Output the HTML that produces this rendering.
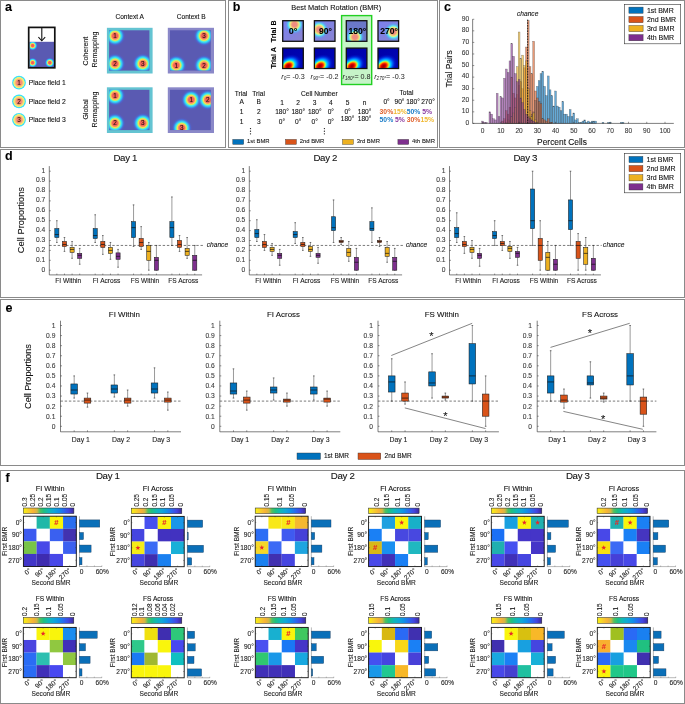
<!DOCTYPE html>
<html><head><meta charset="utf-8"><style>
html,body{margin:0;padding:0;background:#fff;}
svg{display:block;will-change:transform;}
text{font-family:"Liberation Sans", sans-serif;}
</style></head><body>
<svg width="685" height="704" viewBox="0 0 685 704">
<defs><radialGradient id="pf" cx="50%" cy="50%" r="50%">
<stop offset="0" stop-color="#f25a4e"/>
<stop offset="0.25" stop-color="#f4685a"/>
<stop offset="0.34" stop-color="#f7a060"/>
<stop offset="0.41" stop-color="#f8e050"/>
<stop offset="0.48" stop-color="#b0f078"/>
<stop offset="0.56" stop-color="#40eef0"/>
<stop offset="0.68" stop-color="#30c0f8" stop-opacity="0.9"/>
<stop offset="0.84" stop-color="#4070f0" stop-opacity="0.4"/>
<stop offset="1" stop-color="#5b5bb5" stop-opacity="0"/>
</radialGradient>
<radialGradient id="pfl" cx="50%" cy="50%" r="50%">
<stop offset="0" stop-color="#f67f72"/>
<stop offset="0.45" stop-color="#f7967a"/>
<stop offset="0.62" stop-color="#f8e070"/>
<stop offset="0.78" stop-color="#e8f080"/>
<stop offset="0.86" stop-color="#38e4f8"/>
<stop offset="1" stop-color="#38dcf8"/>
</radialGradient>
<clipPath id="cpA1"><rect x="108.2" y="29.1" width="43.1" height="43.1"/></clipPath>
<clipPath id="cpB1"><rect x="169.1" y="29.1" width="43.6" height="43.1"/></clipPath>
<clipPath id="cpA2"><rect x="108.2" y="88.6" width="43.1" height="43.1"/></clipPath>
<clipPath id="cpB2"><rect x="169.1" y="88.6" width="43.6" height="43.1"/></clipPath>
<clipPath id="cpbox"><rect x="29.5" y="42" width="24.5" height="25"/></clipPath>

<clipPath id="cpA1_i"><rect x="109.1" y="30.3" width="40.3" height="40.3"/></clipPath>
<clipPath id="cpB1_i"><rect x="170" y="30.3" width="40.8" height="40.3"/></clipPath>
<clipPath id="cpA2_i"><rect x="109.1" y="89.8" width="40.3" height="40.3"/></clipPath>
<clipPath id="cpB2_i"><rect x="170" y="89.8" width="40.8" height="40.3"/></clipPath>
<radialGradient id="tb" cx="50%" cy="50%" r="50%">
<stop offset="0" stop-color="#f08a80"/>
<stop offset="0.24" stop-color="#f29080"/>
<stop offset="0.36" stop-color="#f4c478"/>
<stop offset="0.46" stop-color="#e8f080"/>
<stop offset="0.58" stop-color="#60f0f0"/>
<stop offset="0.76" stop-color="#50b0f8" stop-opacity="0.6"/>
<stop offset="1" stop-color="#7878e8" stop-opacity="0"/>
</radialGradient>
<radialGradient id="ta" cx="50%" cy="50%" r="50%">
<stop offset="0" stop-color="#900000"/>
<stop offset="0.16" stop-color="#d80000"/>
<stop offset="0.26" stop-color="#ff4000"/>
<stop offset="0.34" stop-color="#ffc000"/>
<stop offset="0.42" stop-color="#80ff80"/>
<stop offset="0.50" stop-color="#00d8ff"/>
<stop offset="0.64" stop-color="#0070ff"/>
<stop offset="0.82" stop-color="#0028e0" stop-opacity="0.6"/>
<stop offset="1" stop-color="#0010c0" stop-opacity="0"/>
</radialGradient>
<linearGradient id="tabg" x1="0" y1="0" x2="1" y2="1">
<stop offset="0" stop-color="#0000a8"/>
<stop offset="1" stop-color="#0008b8"/>
</linearGradient>
<linearGradient id="tbbg" x1="0" y1="0" x2="1" y2="1">
<stop offset="0" stop-color="#7a80f0"/>
<stop offset="1" stop-color="#8a84d0"/>
</linearGradient>

<clipPath id="cb0"><rect x="282.7" y="20.7" width="20.6" height="20.6"/></clipPath>
<clipPath id="ca0"><rect x="282.7" y="48.1" width="20.6" height="20.4"/></clipPath>
<clipPath id="cb1"><rect x="314.4" y="20.7" width="20.6" height="20.6"/></clipPath>
<clipPath id="ca1"><rect x="314.4" y="48.1" width="20.6" height="20.4"/></clipPath>
<clipPath id="cb2"><rect x="346.3" y="20.7" width="20.6" height="20.6"/></clipPath>
<clipPath id="ca2"><rect x="346.3" y="48.1" width="20.6" height="20.4"/></clipPath>
<clipPath id="cb3"><rect x="378" y="20.7" width="20.6" height="20.6"/></clipPath>
<clipPath id="ca3"><rect x="378" y="48.1" width="20.6" height="20.4"/></clipPath>
<linearGradient id="cbar" x1="0" y1="0" x2="1" y2="0">
<stop offset="0" stop-color="#f9f40e"/>
<stop offset="0.08" stop-color="#f8d828"/>
<stop offset="0.20" stop-color="#f7b238"/>
<stop offset="0.27" stop-color="#d0b844"/>
<stop offset="0.33" stop-color="#50c060"/>
<stop offset="0.40" stop-color="#20c080"/>
<stop offset="0.50" stop-color="#10b8b8"/>
<stop offset="0.60" stop-color="#10a8d8"/>
<stop offset="0.70" stop-color="#1090e8"/>
<stop offset="0.80" stop-color="#2a68f0"/>
<stop offset="0.90" stop-color="#4444e0"/>
<stop offset="1" stop-color="#3c2a98"/>
</linearGradient></defs>
<rect x="0" y="0" width="685" height="704" fill="#fff"/>
<text x="5" y="10.9" font-size="12.5" text-anchor="start" fill="#000" stroke="#000" stroke-width="0.1" font-weight="bold">a</text>
<rect x="29.5" y="41.8" width="24.6" height="25.3" fill="#5a5ab2" stroke="none" stroke-width="1"/>
<g clip-path="url(#cpbox)">
<circle cx="32.6" cy="45.6" r="5.4" fill="url(#pf)"/>
<circle cx="32.6" cy="62.7" r="5.4" fill="url(#pf)"/>
<circle cx="49.8" cy="62.7" r="5.4" fill="url(#pf)"/>
</g>
<rect x="28.7" y="27.4" width="26.1" height="40.4" fill="none" stroke="#111" stroke-width="1.7"/>
<line x1="41.8" y1="27.5" x2="41.8" y2="40.6" stroke="#111" stroke-width="1.1"/>
<polyline points="38.4,37.2 41.8,40.8 45.2,37.2" fill="none" stroke="#111" stroke-width="1.1"/>
<circle cx="19" cy="82.7" r="6.9" fill="url(#pfl)"/>
<text x="19" y="85" font-size="6.4" text-anchor="middle" fill="#2a1010" stroke="#2a1010" stroke-width="0.1">1</text>
<text x="28.7" y="84.8" font-size="6.8" text-anchor="start" fill="#111" stroke="#111" stroke-width="0.1">Place field 1</text>
<circle cx="19" cy="101.4" r="6.9" fill="url(#pfl)"/>
<text x="19" y="103.7" font-size="6.4" text-anchor="middle" fill="#2a1010" stroke="#2a1010" stroke-width="0.1">2</text>
<text x="28.7" y="103.5" font-size="6.8" text-anchor="start" fill="#111" stroke="#111" stroke-width="0.1">Place field 2</text>
<circle cx="19" cy="119.8" r="6.9" fill="url(#pfl)"/>
<text x="19" y="122.1" font-size="6.4" text-anchor="middle" fill="#2a1010" stroke="#2a1010" stroke-width="0.1">3</text>
<text x="28.7" y="121.9" font-size="6.8" text-anchor="start" fill="#111" stroke="#111" stroke-width="0.1">Place field 3</text>
<text x="88.4" y="51.2" font-size="7" text-anchor="middle" fill="#111" stroke="#111" stroke-width="0.1" transform="rotate(-90 88.4 51.2)">Coherent</text>
<text x="96.9" y="49.6" font-size="7" text-anchor="middle" fill="#111" stroke="#111" stroke-width="0.1" transform="rotate(-90 96.9 49.6)">Remapping</text>
<text x="88.4" y="109.5" font-size="7" text-anchor="middle" fill="#111" stroke="#111" stroke-width="0.1" transform="rotate(-90 88.4 109.5)">Global</text>
<text x="96.9" y="109.5" font-size="7" text-anchor="middle" fill="#111" stroke="#111" stroke-width="0.1" transform="rotate(-90 96.9 109.5)">Remapping</text>
<text x="129.7" y="19.3" font-size="6.6" text-anchor="middle" fill="#111" stroke="#111" stroke-width="0.1">Context A</text>
<text x="191.2" y="19.3" font-size="6.6" text-anchor="middle" fill="#111" stroke="#111" stroke-width="0.1">Context B</text>
<rect x="106.9" y="27.8" width="45.7" height="45.7" fill="#64c4d2" stroke="none" stroke-width="1"/>
<rect x="109.1" y="30.3" width="40.3" height="40.3" fill="#5a5ab2" stroke="none" stroke-width="1"/>
<g clip-path="url(#cpA1_i)">
<circle cx="115" cy="35.9" r="10.6" fill="url(#pf)"/>
<circle cx="115" cy="63.7" r="10.6" fill="url(#pf)"/>
<circle cx="142.8" cy="63.7" r="10.6" fill="url(#pf)"/>
</g>
<text x="115" y="38.1" font-size="6.3" text-anchor="middle" fill="#2a1010" stroke="#2a1010" stroke-width="0.1">1</text>
<text x="115" y="65.9" font-size="6.3" text-anchor="middle" fill="#2a1010" stroke="#2a1010" stroke-width="0.1">2</text>
<text x="142.8" y="65.9" font-size="6.3" text-anchor="middle" fill="#2a1010" stroke="#2a1010" stroke-width="0.1">3</text>
<rect x="167.8" y="27.8" width="46.2" height="45.7" fill="#8a88c8" stroke="none" stroke-width="1"/>
<rect x="170" y="30.3" width="40.8" height="40.3" fill="#5a5ab2" stroke="none" stroke-width="1"/>
<g clip-path="url(#cpB1_i)">
<circle cx="204" cy="35.9" r="10.6" fill="url(#pf)"/>
<circle cx="176.2" cy="65.3" r="10.6" fill="url(#pf)"/>
<circle cx="204" cy="65.3" r="10.6" fill="url(#pf)"/>
</g>
<text x="204" y="38.1" font-size="6.3" text-anchor="middle" fill="#2a1010" stroke="#2a1010" stroke-width="0.1">3</text>
<text x="176.2" y="67.5" font-size="6.3" text-anchor="middle" fill="#2a1010" stroke="#2a1010" stroke-width="0.1">1</text>
<text x="204" y="67.5" font-size="6.3" text-anchor="middle" fill="#2a1010" stroke="#2a1010" stroke-width="0.1">2</text>
<rect x="106.9" y="87.3" width="45.7" height="45.7" fill="#64c4d2" stroke="none" stroke-width="1"/>
<rect x="109.1" y="89.8" width="40.3" height="40.3" fill="#5a5ab2" stroke="none" stroke-width="1"/>
<g clip-path="url(#cpA2_i)">
<circle cx="115" cy="95.6" r="10.6" fill="url(#pf)"/>
<circle cx="115" cy="123.2" r="10.6" fill="url(#pf)"/>
<circle cx="142.8" cy="123.2" r="10.6" fill="url(#pf)"/>
</g>
<text x="115" y="97.8" font-size="6.3" text-anchor="middle" fill="#2a1010" stroke="#2a1010" stroke-width="0.1">1</text>
<text x="115" y="125.4" font-size="6.3" text-anchor="middle" fill="#2a1010" stroke="#2a1010" stroke-width="0.1">2</text>
<text x="142.8" y="125.4" font-size="6.3" text-anchor="middle" fill="#2a1010" stroke="#2a1010" stroke-width="0.1">3</text>
<rect x="167.8" y="87.3" width="46.2" height="45.7" fill="#8a88c8" stroke="none" stroke-width="1"/>
<rect x="170" y="89.8" width="40.8" height="40.3" fill="#5a5ab2" stroke="none" stroke-width="1"/>
<g clip-path="url(#cpB2_i)">
<circle cx="191.2" cy="99.8" r="10.6" fill="url(#pf)"/>
<circle cx="207.8" cy="99.8" r="10.6" fill="url(#pf)"/>
<circle cx="181.8" cy="128" r="10.6" fill="url(#pf)"/>
</g>
<text x="191.2" y="102" font-size="6.3" text-anchor="middle" fill="#2a1010" stroke="#2a1010" stroke-width="0.1">1</text>
<text x="207.8" y="102" font-size="6.3" text-anchor="middle" fill="#2a1010" stroke="#2a1010" stroke-width="0.1">2</text>
<text x="181.8" y="130.2" font-size="6.3" text-anchor="middle" fill="#2a1010" stroke="#2a1010" stroke-width="0.1">3</text>
<text x="232.8" y="10.8" font-size="12.5" text-anchor="start" fill="#000" stroke="#000" stroke-width="0.1" font-weight="bold">b</text>
<text x="336.2" y="10.2" font-size="7.4" text-anchor="middle" fill="#111" stroke="#111" stroke-width="0.1">Best Match Rotation (BMR)</text>
<rect x="341.6" y="15.6" width="30.1" height="68.9" fill="#c6f4c8" stroke="#22d022" stroke-width="1.4"/>
<rect x="282.7" y="20.7" width="20.6" height="20.6" fill="url(#tbbg)" stroke="none" stroke-width="1"/>
<g clip-path="url(#cb0)"><circle cx="294.5" cy="24.6" r="10" fill="url(#tb)"/></g>
<rect x="282.7" y="20.7" width="20.6" height="20.6" fill="none" stroke="#111" stroke-width="1.3"/>
<text x="293" y="33.8" font-size="9" text-anchor="middle" fill="#000" stroke="#000" stroke-width="0.1" font-weight="bold">0°</text>
<rect x="282.7" y="48.1" width="20.6" height="20.4" fill="url(#tabg)" stroke="none" stroke-width="1"/>
<g clip-path="url(#ca0)"><ellipse cx="288.3" cy="66" rx="14.5" ry="10.5" fill="url(#ta)" transform="rotate(-32 288.3 66)"/></g>
<rect x="282.7" y="48.1" width="20.6" height="20.4" fill="none" stroke="#111" stroke-width="1.3"/>
<rect x="314.4" y="20.7" width="20.6" height="20.6" fill="url(#tbbg)" stroke="none" stroke-width="1"/>
<g clip-path="url(#cb1)"><circle cx="319.2" cy="29.6" r="10" fill="url(#tb)"/></g>
<rect x="314.4" y="20.7" width="20.6" height="20.6" fill="none" stroke="#111" stroke-width="1.3"/>
<text x="325.5" y="33.8" font-size="8.6" text-anchor="middle" fill="#000" stroke="#000" stroke-width="0.1" font-weight="bold">90°</text>
<rect x="314.4" y="48.1" width="20.6" height="20.4" fill="url(#tabg)" stroke="none" stroke-width="1"/>
<g clip-path="url(#ca1)"><ellipse cx="320" cy="66" rx="14.5" ry="10.5" fill="url(#ta)" transform="rotate(-32 320 66)"/></g>
<rect x="314.4" y="48.1" width="20.6" height="20.4" fill="none" stroke="#111" stroke-width="1.3"/>
<rect x="346.3" y="20.7" width="20.6" height="20.6" fill="#6a78c8" stroke="none" stroke-width="1"/>
<g clip-path="url(#cb2)"><circle cx="354.9" cy="37" r="10" fill="url(#tb)"/></g>
<rect x="346.3" y="20.7" width="20.6" height="20.6" fill="none" stroke="#111" stroke-width="1.3"/>
<text x="357.4" y="33.8" font-size="8.6" text-anchor="middle" fill="#000" stroke="#000" stroke-width="0.1" font-weight="bold">180°</text>
<rect x="346.3" y="48.1" width="20.6" height="20.4" fill="url(#tabg)" stroke="none" stroke-width="1"/>
<g clip-path="url(#ca2)"><ellipse cx="351.9" cy="66" rx="14.5" ry="10.5" fill="url(#ta)" transform="rotate(-32 351.9 66)"/></g>
<rect x="346.3" y="48.1" width="20.6" height="20.4" fill="none" stroke="#111" stroke-width="1.3"/>
<rect x="378" y="20.7" width="20.6" height="20.6" fill="url(#tbbg)" stroke="none" stroke-width="1"/>
<g clip-path="url(#cb3)"><circle cx="393.4" cy="31.8" r="10" fill="url(#tb)"/></g>
<rect x="378" y="20.7" width="20.6" height="20.6" fill="none" stroke="#111" stroke-width="1.3"/>
<text x="389.1" y="33.8" font-size="8.6" text-anchor="middle" fill="#000" stroke="#000" stroke-width="0.1" font-weight="bold">270°</text>
<rect x="378" y="48.1" width="20.6" height="20.4" fill="url(#tabg)" stroke="none" stroke-width="1"/>
<g clip-path="url(#ca3)"><ellipse cx="383.6" cy="66" rx="14.5" ry="10.5" fill="url(#ta)" transform="rotate(-32 383.6 66)"/></g>
<rect x="378" y="48.1" width="20.6" height="20.4" fill="none" stroke="#111" stroke-width="1.3"/>
<text x="276.5" y="31.3" font-size="7.1" text-anchor="middle" fill="#000" stroke="#000" stroke-width="0.1" font-weight="bold" transform="rotate(-90 276.5 31.3)">Trial B</text>
<text x="276.5" y="57.9" font-size="7.1" text-anchor="middle" fill="#000" stroke="#000" stroke-width="0.1" font-weight="bold" transform="rotate(-90 276.5 57.9)">Trial A</text>
<text x="281.3" y="78.6" font-size="7.2" fill="#222"><tspan font-style="italic">r</tspan><tspan font-size="4.6" dy="1.4" font-style="italic">0</tspan><tspan dy="-1.4">= -0.3</tspan></text>
<text x="310.6" y="78.6" font-size="7.2" fill="#222"><tspan font-style="italic">r</tspan><tspan font-size="4.6" dy="1.4" font-style="italic">90°</tspan><tspan dy="-1.4">= -0.2</tspan></text>
<text x="342.5" y="78.6" font-size="7.2" fill="#222"><tspan font-style="italic">r</tspan><tspan font-size="4.6" dy="1.4" font-style="italic">180°</tspan><tspan dy="-1.4">= 0.8</tspan></text>
<text x="374.2" y="78.6" font-size="7.2" fill="#222"><tspan font-style="italic">r</tspan><tspan font-size="4.6" dy="1.4" font-style="italic">270°</tspan><tspan dy="-1.4">= -0.3</tspan></text>
<text x="241" y="95.7" font-size="6.6" text-anchor="middle" fill="#111" stroke="#111" stroke-width="0.1">Trial</text>
<text x="258.6" y="95.7" font-size="6.6" text-anchor="middle" fill="#111" stroke="#111" stroke-width="0.1">Trial</text>
<text x="301" y="95.7" font-size="6.6" text-anchor="start" fill="#111" stroke="#111" stroke-width="0.1">Cell Number</text>
<text x="406.4" y="94.8" font-size="6.6" text-anchor="middle" fill="#111" stroke="#111" stroke-width="0.1">Total</text>
<text x="241.6" y="104.2" font-size="6.6" text-anchor="middle" fill="#111" stroke="#111" stroke-width="0.1">A</text>
<text x="258.8" y="104.2" font-size="6.6" text-anchor="middle" fill="#111" stroke="#111" stroke-width="0.1">B</text>
<text x="282" y="104.6" font-size="6.6" text-anchor="middle" fill="#111" stroke="#111" stroke-width="0.1">1</text>
<text x="298.2" y="104.6" font-size="6.6" text-anchor="middle" fill="#111" stroke="#111" stroke-width="0.1">2</text>
<text x="314.7" y="104.6" font-size="6.6" text-anchor="middle" fill="#111" stroke="#111" stroke-width="0.1">3</text>
<text x="330.8" y="104.6" font-size="6.6" text-anchor="middle" fill="#111" stroke="#111" stroke-width="0.1">4</text>
<text x="347.6" y="104.6" font-size="6.6" text-anchor="middle" fill="#111" stroke="#111" stroke-width="0.1">5</text>
<text x="364.6" y="104.6" font-size="6.6" text-anchor="middle" fill="#111" stroke="#111" stroke-width="0.1">n</text>
<text x="386.6" y="104.4" font-size="6.6" text-anchor="middle" fill="#111" stroke="#111" stroke-width="0.1">0°</text>
<text x="399.5" y="104.4" font-size="6.6" text-anchor="middle" fill="#111" stroke="#111" stroke-width="0.1">90°</text>
<text x="413" y="104.4" font-size="6.6" text-anchor="middle" fill="#111" stroke="#111" stroke-width="0.1">180°</text>
<text x="428" y="104.4" font-size="6.6" text-anchor="middle" fill="#111" stroke="#111" stroke-width="0.1">270°</text>
<text x="241.6" y="114.2" font-size="6.6" text-anchor="middle" fill="#111" stroke="#111" stroke-width="0.1">1</text>
<text x="258.8" y="114.2" font-size="6.6" text-anchor="middle" fill="#111" stroke="#111" stroke-width="0.1">2</text>
<text x="282" y="114.2" font-size="6.6" text-anchor="middle" fill="#111" stroke="#111" stroke-width="0.1">180°</text>
<text x="298.2" y="114.2" font-size="6.6" text-anchor="middle" fill="#111" stroke="#111" stroke-width="0.1">180°</text>
<text x="314.7" y="114.2" font-size="6.6" text-anchor="middle" fill="#111" stroke="#111" stroke-width="0.1">180°</text>
<text x="330.8" y="114.2" font-size="6.6" text-anchor="middle" fill="#111" stroke="#111" stroke-width="0.1">0°</text>
<text x="347.6" y="114.2" font-size="6.6" text-anchor="middle" fill="#111" stroke="#111" stroke-width="0.1">0°</text>
<text x="364.6" y="114.2" font-size="6.6" text-anchor="middle" fill="#111" stroke="#111" stroke-width="0.1">180°</text>
<text x="241.6" y="124.2" font-size="6.6" text-anchor="middle" fill="#111" stroke="#111" stroke-width="0.1">1</text>
<text x="258.8" y="124.2" font-size="6.6" text-anchor="middle" fill="#111" stroke="#111" stroke-width="0.1">3</text>
<text x="282" y="124.2" font-size="6.6" text-anchor="middle" fill="#111" stroke="#111" stroke-width="0.1">0°</text>
<text x="298.2" y="124.2" font-size="6.6" text-anchor="middle" fill="#111" stroke="#111" stroke-width="0.1">0°</text>
<text x="314.7" y="123.8" font-size="6.6" text-anchor="middle" fill="#111" stroke="#111" stroke-width="0.1">0°</text>
<text x="330.8" y="124.4" font-size="6.6" text-anchor="middle" fill="#111" stroke="#111" stroke-width="0.1">0°</text>
<text x="347.6" y="121.4" font-size="6.6" text-anchor="middle" fill="#111" stroke="#111" stroke-width="0.1">180°</text>
<text x="364.6" y="121.4" font-size="6.6" text-anchor="middle" fill="#111" stroke="#111" stroke-width="0.1">180°</text>
<text x="379.6" y="114.2" font-size="6.8" font-weight="bold"><tspan fill="#e0602a">30%</tspan><tspan fill="#f0b830">15%</tspan><tspan fill="#1a7cc8">50%</tspan><tspan fill="#8a3aa0"> 5%</tspan></text>
<text x="379.6" y="122.2" font-size="6.8" font-weight="bold"><tspan fill="#1a7cc8">50%</tspan><tspan fill="#8a3aa0"> 5%</tspan><tspan fill="#e0602a"> 30%</tspan><tspan fill="#f0b830">15%</tspan></text>
<circle cx="250.5" cy="128.6" r="0.65" fill="#111"/>
<circle cx="250.5" cy="131.2" r="0.65" fill="#111"/>
<circle cx="250.5" cy="133.8" r="0.65" fill="#111"/>
<circle cx="324.4" cy="128.6" r="0.65" fill="#111"/>
<circle cx="324.4" cy="131.2" r="0.65" fill="#111"/>
<circle cx="324.4" cy="133.8" r="0.65" fill="#111"/>
<rect x="232.8" y="139.4" width="10.9" height="5" fill="#0072bd" stroke="#333" stroke-width="0.4"/>
<text x="247" y="143.4" font-size="5.9" text-anchor="start" fill="#222" stroke="#222" stroke-width="0.1">1st BMR</text>
<rect x="285.5" y="139.4" width="10.9" height="5" fill="#d95319" stroke="#333" stroke-width="0.4"/>
<text x="299.7" y="143.4" font-size="5.9" text-anchor="start" fill="#222" stroke="#222" stroke-width="0.1">2nd BMR</text>
<rect x="342.5" y="139.4" width="10.9" height="5" fill="#edb120" stroke="#333" stroke-width="0.4"/>
<text x="356.7" y="143.4" font-size="5.9" text-anchor="start" fill="#222" stroke="#222" stroke-width="0.1">3rd BMR</text>
<rect x="397.9" y="139.4" width="10.9" height="5" fill="#7e2f8e" stroke="#333" stroke-width="0.4"/>
<text x="412.1" y="143.4" font-size="5.9" text-anchor="start" fill="#222" stroke="#222" stroke-width="0.1">4th BMR</text>
<text x="444" y="10.6" font-size="12.5" text-anchor="start" fill="#000" stroke="#000" stroke-width="0.1" font-weight="bold">c</text>
<rect x="518.17" y="122.24" width="1.82" height="1.16" fill="#0072bd" fill-opacity="0.6" stroke="#3a3a3a" stroke-opacity="0.7" stroke-width="0.35"/>
<rect x="521.82" y="122.24" width="1.82" height="1.16" fill="#0072bd" fill-opacity="0.6" stroke="#3a3a3a" stroke-opacity="0.7" stroke-width="0.35"/>
<rect x="525.47" y="121.09" width="1.82" height="2.32" fill="#0072bd" fill-opacity="0.6" stroke="#3a3a3a" stroke-opacity="0.7" stroke-width="0.35"/>
<rect x="527.29" y="119.93" width="1.82" height="3.47" fill="#0072bd" fill-opacity="0.6" stroke="#3a3a3a" stroke-opacity="0.7" stroke-width="0.35"/>
<rect x="529.11" y="117.62" width="1.82" height="5.79" fill="#0072bd" fill-opacity="0.6" stroke="#3a3a3a" stroke-opacity="0.7" stroke-width="0.35"/>
<rect x="530.94" y="114.14" width="1.82" height="9.26" fill="#0072bd" fill-opacity="0.6" stroke="#3a3a3a" stroke-opacity="0.7" stroke-width="0.35"/>
<rect x="532.76" y="111.83" width="1.82" height="11.58" fill="#0072bd" fill-opacity="0.6" stroke="#3a3a3a" stroke-opacity="0.7" stroke-width="0.35"/>
<rect x="534.59" y="100.26" width="1.82" height="23.16" fill="#0072bd" fill-opacity="0.6" stroke="#3a3a3a" stroke-opacity="0.7" stroke-width="0.35"/>
<rect x="536.41" y="86.38" width="1.82" height="37.06" fill="#0072bd" fill-opacity="0.6" stroke="#3a3a3a" stroke-opacity="0.7" stroke-width="0.35"/>
<rect x="538.23" y="80.59" width="1.82" height="42.85" fill="#0072bd" fill-opacity="0.6" stroke="#3a3a3a" stroke-opacity="0.7" stroke-width="0.35"/>
<rect x="540.06" y="73.65" width="1.82" height="49.79" fill="#0072bd" fill-opacity="0.6" stroke="#3a3a3a" stroke-opacity="0.7" stroke-width="0.35"/>
<rect x="541.88" y="71.34" width="1.82" height="52.11" fill="#0072bd" fill-opacity="0.6" stroke="#3a3a3a" stroke-opacity="0.7" stroke-width="0.35"/>
<rect x="543.71" y="86.38" width="1.82" height="37.06" fill="#0072bd" fill-opacity="0.6" stroke="#3a3a3a" stroke-opacity="0.7" stroke-width="0.35"/>
<rect x="545.53" y="95.63" width="1.82" height="27.79" fill="#0072bd" fill-opacity="0.6" stroke="#3a3a3a" stroke-opacity="0.7" stroke-width="0.35"/>
<rect x="547.35" y="75.96" width="1.82" height="47.48" fill="#0072bd" fill-opacity="0.6" stroke="#3a3a3a" stroke-opacity="0.7" stroke-width="0.35"/>
<rect x="549.18" y="89.85" width="1.82" height="33.58" fill="#0072bd" fill-opacity="0.6" stroke="#3a3a3a" stroke-opacity="0.7" stroke-width="0.35"/>
<rect x="551" y="95.63" width="1.82" height="27.79" fill="#0072bd" fill-opacity="0.6" stroke="#3a3a3a" stroke-opacity="0.7" stroke-width="0.35"/>
<rect x="552.83" y="106.05" width="1.82" height="17.37" fill="#0072bd" fill-opacity="0.6" stroke="#3a3a3a" stroke-opacity="0.7" stroke-width="0.35"/>
<rect x="554.65" y="91" width="1.82" height="32.42" fill="#0072bd" fill-opacity="0.6" stroke="#3a3a3a" stroke-opacity="0.7" stroke-width="0.35"/>
<rect x="556.47" y="106.05" width="1.82" height="17.37" fill="#0072bd" fill-opacity="0.6" stroke="#3a3a3a" stroke-opacity="0.7" stroke-width="0.35"/>
<rect x="558.3" y="107.2" width="1.82" height="16.21" fill="#0072bd" fill-opacity="0.6" stroke="#3a3a3a" stroke-opacity="0.7" stroke-width="0.35"/>
<rect x="560.12" y="110.67" width="1.82" height="12.74" fill="#0072bd" fill-opacity="0.6" stroke="#3a3a3a" stroke-opacity="0.7" stroke-width="0.35"/>
<rect x="561.95" y="101.42" width="1.82" height="22" fill="#0072bd" fill-opacity="0.6" stroke="#3a3a3a" stroke-opacity="0.7" stroke-width="0.35"/>
<rect x="563.77" y="114.14" width="1.82" height="9.26" fill="#0072bd" fill-opacity="0.6" stroke="#3a3a3a" stroke-opacity="0.7" stroke-width="0.35"/>
<rect x="565.59" y="114.14" width="1.82" height="9.26" fill="#0072bd" fill-opacity="0.6" stroke="#3a3a3a" stroke-opacity="0.7" stroke-width="0.35"/>
<rect x="567.42" y="116.46" width="1.82" height="6.95" fill="#0072bd" fill-opacity="0.6" stroke="#3a3a3a" stroke-opacity="0.7" stroke-width="0.35"/>
<rect x="569.24" y="109.52" width="1.82" height="13.9" fill="#0072bd" fill-opacity="0.6" stroke="#3a3a3a" stroke-opacity="0.7" stroke-width="0.35"/>
<rect x="571.07" y="116.46" width="1.82" height="6.95" fill="#0072bd" fill-opacity="0.6" stroke="#3a3a3a" stroke-opacity="0.7" stroke-width="0.35"/>
<rect x="572.89" y="112.99" width="1.82" height="10.42" fill="#0072bd" fill-opacity="0.6" stroke="#3a3a3a" stroke-opacity="0.7" stroke-width="0.35"/>
<rect x="574.71" y="119.93" width="1.82" height="3.47" fill="#0072bd" fill-opacity="0.6" stroke="#3a3a3a" stroke-opacity="0.7" stroke-width="0.35"/>
<rect x="576.54" y="118.77" width="1.82" height="4.63" fill="#0072bd" fill-opacity="0.6" stroke="#3a3a3a" stroke-opacity="0.7" stroke-width="0.35"/>
<rect x="578.36" y="122.24" width="1.82" height="1.16" fill="#0072bd" fill-opacity="0.6" stroke="#3a3a3a" stroke-opacity="0.7" stroke-width="0.35"/>
<rect x="580.19" y="122.24" width="1.82" height="1.16" fill="#0072bd" fill-opacity="0.6" stroke="#3a3a3a" stroke-opacity="0.7" stroke-width="0.35"/>
<rect x="582.01" y="121.09" width="1.82" height="2.32" fill="#0072bd" fill-opacity="0.6" stroke="#3a3a3a" stroke-opacity="0.7" stroke-width="0.35"/>
<rect x="583.83" y="119.93" width="1.82" height="3.47" fill="#0072bd" fill-opacity="0.6" stroke="#3a3a3a" stroke-opacity="0.7" stroke-width="0.35"/>
<rect x="585.66" y="122.24" width="1.82" height="1.16" fill="#0072bd" fill-opacity="0.6" stroke="#3a3a3a" stroke-opacity="0.7" stroke-width="0.35"/>
<rect x="587.48" y="121.09" width="1.82" height="2.32" fill="#0072bd" fill-opacity="0.6" stroke="#3a3a3a" stroke-opacity="0.7" stroke-width="0.35"/>
<rect x="589.31" y="122.24" width="1.82" height="1.16" fill="#0072bd" fill-opacity="0.6" stroke="#3a3a3a" stroke-opacity="0.7" stroke-width="0.35"/>
<rect x="591.13" y="121.09" width="1.82" height="2.32" fill="#0072bd" fill-opacity="0.6" stroke="#3a3a3a" stroke-opacity="0.7" stroke-width="0.35"/>
<rect x="592.95" y="121.09" width="1.82" height="2.32" fill="#0072bd" fill-opacity="0.6" stroke="#3a3a3a" stroke-opacity="0.7" stroke-width="0.35"/>
<rect x="594.78" y="121.09" width="1.82" height="2.32" fill="#0072bd" fill-opacity="0.6" stroke="#3a3a3a" stroke-opacity="0.7" stroke-width="0.35"/>
<rect x="602.07" y="122.24" width="1.82" height="1.16" fill="#0072bd" fill-opacity="0.6" stroke="#3a3a3a" stroke-opacity="0.7" stroke-width="0.35"/>
<rect x="607.55" y="122.24" width="1.82" height="1.16" fill="#0072bd" fill-opacity="0.6" stroke="#3a3a3a" stroke-opacity="0.7" stroke-width="0.35"/>
<rect x="609.37" y="122.24" width="1.82" height="1.16" fill="#0072bd" fill-opacity="0.6" stroke="#3a3a3a" stroke-opacity="0.7" stroke-width="0.35"/>
<rect x="620.31" y="122.24" width="1.82" height="1.16" fill="#0072bd" fill-opacity="0.6" stroke="#3a3a3a" stroke-opacity="0.7" stroke-width="0.35"/>
<rect x="622.14" y="122.24" width="1.82" height="1.16" fill="#0072bd" fill-opacity="0.6" stroke="#3a3a3a" stroke-opacity="0.7" stroke-width="0.35"/>
<rect x="501.75" y="121.09" width="1.82" height="2.32" fill="#d95319" fill-opacity="0.6" stroke="#3a3a3a" stroke-opacity="0.7" stroke-width="0.35"/>
<rect x="503.58" y="118.77" width="1.82" height="4.63" fill="#d95319" fill-opacity="0.6" stroke="#3a3a3a" stroke-opacity="0.7" stroke-width="0.35"/>
<rect x="505.4" y="110.67" width="1.82" height="12.74" fill="#d95319" fill-opacity="0.6" stroke="#3a3a3a" stroke-opacity="0.7" stroke-width="0.35"/>
<rect x="507.23" y="114.14" width="1.82" height="9.26" fill="#d95319" fill-opacity="0.6" stroke="#3a3a3a" stroke-opacity="0.7" stroke-width="0.35"/>
<rect x="509.05" y="107.2" width="1.82" height="16.21" fill="#d95319" fill-opacity="0.6" stroke="#3a3a3a" stroke-opacity="0.7" stroke-width="0.35"/>
<rect x="510.87" y="77.12" width="1.82" height="46.32" fill="#d95319" fill-opacity="0.6" stroke="#3a3a3a" stroke-opacity="0.7" stroke-width="0.35"/>
<rect x="512.7" y="93.32" width="1.82" height="30.11" fill="#d95319" fill-opacity="0.6" stroke="#3a3a3a" stroke-opacity="0.7" stroke-width="0.35"/>
<rect x="514.52" y="97.95" width="1.82" height="25.48" fill="#d95319" fill-opacity="0.6" stroke="#3a3a3a" stroke-opacity="0.7" stroke-width="0.35"/>
<rect x="516.35" y="94.48" width="1.82" height="28.95" fill="#d95319" fill-opacity="0.6" stroke="#3a3a3a" stroke-opacity="0.7" stroke-width="0.35"/>
<rect x="518.17" y="85.22" width="1.82" height="38.21" fill="#d95319" fill-opacity="0.6" stroke="#3a3a3a" stroke-opacity="0.7" stroke-width="0.35"/>
<rect x="519.99" y="81.75" width="1.82" height="41.69" fill="#d95319" fill-opacity="0.6" stroke="#3a3a3a" stroke-opacity="0.7" stroke-width="0.35"/>
<rect x="521.82" y="88.69" width="1.82" height="34.74" fill="#d95319" fill-opacity="0.6" stroke="#3a3a3a" stroke-opacity="0.7" stroke-width="0.35"/>
<rect x="523.64" y="67.86" width="1.82" height="55.58" fill="#d95319" fill-opacity="0.6" stroke="#3a3a3a" stroke-opacity="0.7" stroke-width="0.35"/>
<rect x="525.47" y="47.04" width="1.82" height="76.43" fill="#d95319" fill-opacity="0.6" stroke="#3a3a3a" stroke-opacity="0.7" stroke-width="0.35"/>
<rect x="527.29" y="20.43" width="1.82" height="103.06" fill="#d95319" fill-opacity="0.6" stroke="#3a3a3a" stroke-opacity="0.7" stroke-width="0.35"/>
<rect x="529.11" y="66.71" width="1.82" height="56.74" fill="#d95319" fill-opacity="0.6" stroke="#3a3a3a" stroke-opacity="0.7" stroke-width="0.35"/>
<rect x="530.94" y="73.65" width="1.82" height="49.79" fill="#d95319" fill-opacity="0.6" stroke="#3a3a3a" stroke-opacity="0.7" stroke-width="0.35"/>
<rect x="532.76" y="41.25" width="1.82" height="82.22" fill="#d95319" fill-opacity="0.6" stroke="#3a3a3a" stroke-opacity="0.7" stroke-width="0.35"/>
<rect x="534.59" y="91" width="1.82" height="32.42" fill="#d95319" fill-opacity="0.6" stroke="#3a3a3a" stroke-opacity="0.7" stroke-width="0.35"/>
<rect x="536.41" y="97.95" width="1.82" height="25.48" fill="#d95319" fill-opacity="0.6" stroke="#3a3a3a" stroke-opacity="0.7" stroke-width="0.35"/>
<rect x="538.23" y="101.42" width="1.82" height="22" fill="#d95319" fill-opacity="0.6" stroke="#3a3a3a" stroke-opacity="0.7" stroke-width="0.35"/>
<rect x="540.06" y="103.73" width="1.82" height="19.69" fill="#d95319" fill-opacity="0.6" stroke="#3a3a3a" stroke-opacity="0.7" stroke-width="0.35"/>
<rect x="541.88" y="118.77" width="1.82" height="4.63" fill="#d95319" fill-opacity="0.6" stroke="#3a3a3a" stroke-opacity="0.7" stroke-width="0.35"/>
<rect x="543.71" y="119.93" width="1.82" height="3.47" fill="#d95319" fill-opacity="0.6" stroke="#3a3a3a" stroke-opacity="0.7" stroke-width="0.35"/>
<rect x="545.53" y="121.09" width="1.82" height="2.32" fill="#d95319" fill-opacity="0.6" stroke="#3a3a3a" stroke-opacity="0.7" stroke-width="0.35"/>
<rect x="547.35" y="118.77" width="1.82" height="4.63" fill="#d95319" fill-opacity="0.6" stroke="#3a3a3a" stroke-opacity="0.7" stroke-width="0.35"/>
<rect x="549.18" y="122.24" width="1.82" height="1.16" fill="#d95319" fill-opacity="0.6" stroke="#3a3a3a" stroke-opacity="0.7" stroke-width="0.35"/>
<rect x="551" y="122.24" width="1.82" height="1.16" fill="#d95319" fill-opacity="0.6" stroke="#3a3a3a" stroke-opacity="0.7" stroke-width="0.35"/>
<rect x="505.4" y="122.24" width="1.82" height="1.16" fill="#edb120" fill-opacity="0.6" stroke="#3a3a3a" stroke-opacity="0.7" stroke-width="0.35"/>
<rect x="507.23" y="119.93" width="1.82" height="3.47" fill="#edb120" fill-opacity="0.6" stroke="#3a3a3a" stroke-opacity="0.7" stroke-width="0.35"/>
<rect x="509.05" y="121.09" width="1.82" height="2.32" fill="#edb120" fill-opacity="0.6" stroke="#3a3a3a" stroke-opacity="0.7" stroke-width="0.35"/>
<rect x="510.87" y="116.46" width="1.82" height="6.95" fill="#edb120" fill-opacity="0.6" stroke="#3a3a3a" stroke-opacity="0.7" stroke-width="0.35"/>
<rect x="512.7" y="112.99" width="1.82" height="10.42" fill="#edb120" fill-opacity="0.6" stroke="#3a3a3a" stroke-opacity="0.7" stroke-width="0.35"/>
<rect x="514.52" y="107.2" width="1.82" height="16.21" fill="#edb120" fill-opacity="0.6" stroke="#3a3a3a" stroke-opacity="0.7" stroke-width="0.35"/>
<rect x="516.35" y="66.71" width="1.82" height="56.74" fill="#edb120" fill-opacity="0.6" stroke="#3a3a3a" stroke-opacity="0.7" stroke-width="0.35"/>
<rect x="518.17" y="32" width="1.82" height="91.48" fill="#edb120" fill-opacity="0.6" stroke="#3a3a3a" stroke-opacity="0.7" stroke-width="0.35"/>
<rect x="519.99" y="58.61" width="1.82" height="64.85" fill="#edb120" fill-opacity="0.6" stroke="#3a3a3a" stroke-opacity="0.7" stroke-width="0.35"/>
<rect x="521.82" y="55.14" width="1.82" height="68.32" fill="#edb120" fill-opacity="0.6" stroke="#3a3a3a" stroke-opacity="0.7" stroke-width="0.35"/>
<rect x="523.64" y="65.55" width="1.82" height="57.9" fill="#edb120" fill-opacity="0.6" stroke="#3a3a3a" stroke-opacity="0.7" stroke-width="0.35"/>
<rect x="525.47" y="60.92" width="1.82" height="62.53" fill="#edb120" fill-opacity="0.6" stroke="#3a3a3a" stroke-opacity="0.7" stroke-width="0.35"/>
<rect x="527.29" y="88.69" width="1.82" height="34.74" fill="#edb120" fill-opacity="0.6" stroke="#3a3a3a" stroke-opacity="0.7" stroke-width="0.35"/>
<rect x="529.11" y="110.67" width="1.82" height="12.74" fill="#edb120" fill-opacity="0.6" stroke="#3a3a3a" stroke-opacity="0.7" stroke-width="0.35"/>
<rect x="530.94" y="116.46" width="1.82" height="6.95" fill="#edb120" fill-opacity="0.6" stroke="#3a3a3a" stroke-opacity="0.7" stroke-width="0.35"/>
<rect x="532.76" y="112.99" width="1.82" height="10.42" fill="#edb120" fill-opacity="0.6" stroke="#3a3a3a" stroke-opacity="0.7" stroke-width="0.35"/>
<rect x="534.59" y="119.93" width="1.82" height="3.47" fill="#edb120" fill-opacity="0.6" stroke="#3a3a3a" stroke-opacity="0.7" stroke-width="0.35"/>
<rect x="536.41" y="122.24" width="1.82" height="1.16" fill="#edb120" fill-opacity="0.6" stroke="#3a3a3a" stroke-opacity="0.7" stroke-width="0.35"/>
<rect x="481.69" y="121.09" width="1.82" height="2.32" fill="#7e2f8e" fill-opacity="0.6" stroke="#3a3a3a" stroke-opacity="0.7" stroke-width="0.35"/>
<rect x="483.51" y="122.24" width="1.82" height="1.16" fill="#7e2f8e" fill-opacity="0.6" stroke="#3a3a3a" stroke-opacity="0.7" stroke-width="0.35"/>
<rect x="485.34" y="122.24" width="1.82" height="1.16" fill="#7e2f8e" fill-opacity="0.6" stroke="#3a3a3a" stroke-opacity="0.7" stroke-width="0.35"/>
<rect x="488.99" y="111.83" width="1.82" height="11.58" fill="#7e2f8e" fill-opacity="0.6" stroke="#3a3a3a" stroke-opacity="0.7" stroke-width="0.35"/>
<rect x="490.81" y="114.14" width="1.82" height="9.26" fill="#7e2f8e" fill-opacity="0.6" stroke="#3a3a3a" stroke-opacity="0.7" stroke-width="0.35"/>
<rect x="492.63" y="118.77" width="1.82" height="4.63" fill="#7e2f8e" fill-opacity="0.6" stroke="#3a3a3a" stroke-opacity="0.7" stroke-width="0.35"/>
<rect x="494.46" y="119.93" width="1.82" height="3.47" fill="#7e2f8e" fill-opacity="0.6" stroke="#3a3a3a" stroke-opacity="0.7" stroke-width="0.35"/>
<rect x="496.28" y="93.32" width="1.82" height="30.11" fill="#7e2f8e" fill-opacity="0.6" stroke="#3a3a3a" stroke-opacity="0.7" stroke-width="0.35"/>
<rect x="498.11" y="116.46" width="1.82" height="6.95" fill="#7e2f8e" fill-opacity="0.6" stroke="#3a3a3a" stroke-opacity="0.7" stroke-width="0.35"/>
<rect x="499.93" y="96.79" width="1.82" height="26.63" fill="#7e2f8e" fill-opacity="0.6" stroke="#3a3a3a" stroke-opacity="0.7" stroke-width="0.35"/>
<rect x="501.75" y="97.95" width="1.82" height="25.48" fill="#7e2f8e" fill-opacity="0.6" stroke="#3a3a3a" stroke-opacity="0.7" stroke-width="0.35"/>
<rect x="503.58" y="78.28" width="1.82" height="45.16" fill="#7e2f8e" fill-opacity="0.6" stroke="#3a3a3a" stroke-opacity="0.7" stroke-width="0.35"/>
<rect x="505.4" y="69.02" width="1.82" height="54.43" fill="#7e2f8e" fill-opacity="0.6" stroke="#3a3a3a" stroke-opacity="0.7" stroke-width="0.35"/>
<rect x="507.23" y="72.49" width="1.82" height="50.95" fill="#7e2f8e" fill-opacity="0.6" stroke="#3a3a3a" stroke-opacity="0.7" stroke-width="0.35"/>
<rect x="509.05" y="60.92" width="1.82" height="62.53" fill="#7e2f8e" fill-opacity="0.6" stroke="#3a3a3a" stroke-opacity="0.7" stroke-width="0.35"/>
<rect x="510.87" y="43.57" width="1.82" height="79.9" fill="#7e2f8e" fill-opacity="0.6" stroke="#3a3a3a" stroke-opacity="0.7" stroke-width="0.35"/>
<rect x="512.7" y="56.29" width="1.82" height="67.16" fill="#7e2f8e" fill-opacity="0.6" stroke="#3a3a3a" stroke-opacity="0.7" stroke-width="0.35"/>
<rect x="514.52" y="73.65" width="1.82" height="49.79" fill="#7e2f8e" fill-opacity="0.6" stroke="#3a3a3a" stroke-opacity="0.7" stroke-width="0.35"/>
<rect x="516.35" y="81.75" width="1.82" height="41.69" fill="#7e2f8e" fill-opacity="0.6" stroke="#3a3a3a" stroke-opacity="0.7" stroke-width="0.35"/>
<rect x="518.17" y="79.43" width="1.82" height="44" fill="#7e2f8e" fill-opacity="0.6" stroke="#3a3a3a" stroke-opacity="0.7" stroke-width="0.35"/>
<rect x="519.99" y="97.95" width="1.82" height="25.48" fill="#7e2f8e" fill-opacity="0.6" stroke="#3a3a3a" stroke-opacity="0.7" stroke-width="0.35"/>
<rect x="521.82" y="102.57" width="1.82" height="20.84" fill="#7e2f8e" fill-opacity="0.6" stroke="#3a3a3a" stroke-opacity="0.7" stroke-width="0.35"/>
<rect x="523.64" y="109.52" width="1.82" height="13.9" fill="#7e2f8e" fill-opacity="0.6" stroke="#3a3a3a" stroke-opacity="0.7" stroke-width="0.35"/>
<rect x="525.47" y="114.14" width="1.82" height="9.26" fill="#7e2f8e" fill-opacity="0.6" stroke="#3a3a3a" stroke-opacity="0.7" stroke-width="0.35"/>
<rect x="527.29" y="116.46" width="1.82" height="6.95" fill="#7e2f8e" fill-opacity="0.6" stroke="#3a3a3a" stroke-opacity="0.7" stroke-width="0.35"/>
<rect x="529.11" y="118.77" width="1.82" height="4.63" fill="#7e2f8e" fill-opacity="0.6" stroke="#3a3a3a" stroke-opacity="0.7" stroke-width="0.35"/>
<rect x="530.94" y="119.93" width="1.82" height="3.47" fill="#7e2f8e" fill-opacity="0.6" stroke="#3a3a3a" stroke-opacity="0.7" stroke-width="0.35"/>
<rect x="532.76" y="121.09" width="1.82" height="2.32" fill="#7e2f8e" fill-opacity="0.6" stroke="#3a3a3a" stroke-opacity="0.7" stroke-width="0.35"/>
<rect x="534.59" y="122.24" width="1.82" height="1.16" fill="#7e2f8e" fill-opacity="0.6" stroke="#3a3a3a" stroke-opacity="0.7" stroke-width="0.35"/>
<line x1="472.65" y1="19.2" x2="472.65" y2="123.4" stroke="#262626" stroke-width="0.6"/>
<line x1="472.65" y1="123.4" x2="673.8" y2="123.4" stroke="#262626" stroke-width="0.6"/>
<line x1="472.65" y1="123.4" x2="474.25" y2="123.4" stroke="#262626" stroke-width="0.5"/>
<text x="469.2" y="124.7" font-size="6.7" text-anchor="end" fill="#3a3a3a" stroke="#3a3a3a" stroke-width="0.1">0</text>
<line x1="472.65" y1="111.83" x2="474.25" y2="111.83" stroke="#262626" stroke-width="0.5"/>
<text x="469.2" y="113.13" font-size="6.7" text-anchor="end" fill="#3a3a3a" stroke="#3a3a3a" stroke-width="0.1">10</text>
<line x1="472.65" y1="100.26" x2="474.25" y2="100.26" stroke="#262626" stroke-width="0.5"/>
<text x="469.2" y="101.56" font-size="6.7" text-anchor="end" fill="#3a3a3a" stroke="#3a3a3a" stroke-width="0.1">20</text>
<line x1="472.65" y1="88.69" x2="474.25" y2="88.69" stroke="#262626" stroke-width="0.5"/>
<text x="469.2" y="89.99" font-size="6.7" text-anchor="end" fill="#3a3a3a" stroke="#3a3a3a" stroke-width="0.1">30</text>
<line x1="472.65" y1="77.12" x2="474.25" y2="77.12" stroke="#262626" stroke-width="0.5"/>
<text x="469.2" y="78.42" font-size="6.7" text-anchor="end" fill="#3a3a3a" stroke="#3a3a3a" stroke-width="0.1">40</text>
<line x1="472.65" y1="65.55" x2="474.25" y2="65.55" stroke="#262626" stroke-width="0.5"/>
<text x="469.2" y="66.85" font-size="6.7" text-anchor="end" fill="#3a3a3a" stroke="#3a3a3a" stroke-width="0.1">50</text>
<line x1="472.65" y1="53.98" x2="474.25" y2="53.98" stroke="#262626" stroke-width="0.5"/>
<text x="469.2" y="55.28" font-size="6.7" text-anchor="end" fill="#3a3a3a" stroke="#3a3a3a" stroke-width="0.1">60</text>
<line x1="472.65" y1="42.41" x2="474.25" y2="42.41" stroke="#262626" stroke-width="0.5"/>
<text x="469.2" y="43.71" font-size="6.7" text-anchor="end" fill="#3a3a3a" stroke="#3a3a3a" stroke-width="0.1">70</text>
<line x1="472.65" y1="30.84" x2="474.25" y2="30.84" stroke="#262626" stroke-width="0.5"/>
<text x="469.2" y="32.14" font-size="6.7" text-anchor="end" fill="#3a3a3a" stroke="#3a3a3a" stroke-width="0.1">80</text>
<line x1="472.65" y1="19.27" x2="474.25" y2="19.27" stroke="#262626" stroke-width="0.5"/>
<text x="469.2" y="20.57" font-size="6.7" text-anchor="end" fill="#3a3a3a" stroke="#3a3a3a" stroke-width="0.1">90</text>
<line x1="482.6" y1="123.4" x2="482.6" y2="121.8" stroke="#262626" stroke-width="0.5"/>
<text x="482.6" y="132.8" font-size="6.6" text-anchor="middle" fill="#3a3a3a" stroke="#3a3a3a" stroke-width="0.1">0</text>
<line x1="500.84" y1="123.4" x2="500.84" y2="121.8" stroke="#262626" stroke-width="0.5"/>
<text x="500.84" y="132.8" font-size="6.6" text-anchor="middle" fill="#3a3a3a" stroke="#3a3a3a" stroke-width="0.1">10</text>
<line x1="519.08" y1="123.4" x2="519.08" y2="121.8" stroke="#262626" stroke-width="0.5"/>
<text x="519.08" y="132.8" font-size="6.6" text-anchor="middle" fill="#3a3a3a" stroke="#3a3a3a" stroke-width="0.1">20</text>
<line x1="537.32" y1="123.4" x2="537.32" y2="121.8" stroke="#262626" stroke-width="0.5"/>
<text x="537.32" y="132.8" font-size="6.6" text-anchor="middle" fill="#3a3a3a" stroke="#3a3a3a" stroke-width="0.1">30</text>
<line x1="555.56" y1="123.4" x2="555.56" y2="121.8" stroke="#262626" stroke-width="0.5"/>
<text x="555.56" y="132.8" font-size="6.6" text-anchor="middle" fill="#3a3a3a" stroke="#3a3a3a" stroke-width="0.1">40</text>
<line x1="573.8" y1="123.4" x2="573.8" y2="121.8" stroke="#262626" stroke-width="0.5"/>
<text x="573.8" y="132.8" font-size="6.6" text-anchor="middle" fill="#3a3a3a" stroke="#3a3a3a" stroke-width="0.1">50</text>
<line x1="592.04" y1="123.4" x2="592.04" y2="121.8" stroke="#262626" stroke-width="0.5"/>
<text x="592.04" y="132.8" font-size="6.6" text-anchor="middle" fill="#3a3a3a" stroke="#3a3a3a" stroke-width="0.1">60</text>
<line x1="610.28" y1="123.4" x2="610.28" y2="121.8" stroke="#262626" stroke-width="0.5"/>
<text x="610.28" y="132.8" font-size="6.6" text-anchor="middle" fill="#3a3a3a" stroke="#3a3a3a" stroke-width="0.1">70</text>
<line x1="628.52" y1="123.4" x2="628.52" y2="121.8" stroke="#262626" stroke-width="0.5"/>
<text x="628.52" y="132.8" font-size="6.6" text-anchor="middle" fill="#3a3a3a" stroke="#3a3a3a" stroke-width="0.1">80</text>
<line x1="646.76" y1="123.4" x2="646.76" y2="121.8" stroke="#262626" stroke-width="0.5"/>
<text x="646.76" y="132.8" font-size="6.6" text-anchor="middle" fill="#3a3a3a" stroke="#3a3a3a" stroke-width="0.1">90</text>
<line x1="665" y1="123.4" x2="665" y2="121.8" stroke="#262626" stroke-width="0.5"/>
<text x="665" y="132.8" font-size="6.6" text-anchor="middle" fill="#3a3a3a" stroke="#3a3a3a" stroke-width="0.1">100</text>
<line x1="527.7" y1="19.6" x2="527.7" y2="123.4" stroke="#111" stroke-width="0.9" stroke-dasharray="1.6,1.1"/>
<text x="527.7" y="15.8" font-size="6.6" text-anchor="middle" fill="#111" stroke="#111" stroke-width="0.1" font-style="italic">chance</text>
<text x="452.4" y="68.9" font-size="8.4" text-anchor="middle" fill="#111" stroke="#111" stroke-width="0.1" transform="rotate(-90 452.4 68.9)">Trial Pairs</text>
<text x="562" y="144.8" font-size="8.4" text-anchor="middle" fill="#111" stroke="#111" stroke-width="0.1">Percent Cells</text>
<rect x="624.5" y="4.4" width="56.2" height="39.4" fill="#fff" stroke="#333" stroke-width="0.6"/>
<rect x="628.9" y="7.1" width="14.2" height="6.2" fill="#0072bd" stroke="#333" stroke-width="0.4"/>
<text x="646.9" y="12.7" font-size="7" text-anchor="start" fill="#111" stroke="#111" stroke-width="0.1">1st BMR</text>
<rect x="628.9" y="16.5" width="14.2" height="6.2" fill="#d95319" stroke="#333" stroke-width="0.4"/>
<text x="646.9" y="22.1" font-size="7" text-anchor="start" fill="#111" stroke="#111" stroke-width="0.1">2nd BMR</text>
<rect x="628.9" y="25.5" width="14.2" height="6.2" fill="#edb120" stroke="#333" stroke-width="0.4"/>
<text x="646.9" y="31.1" font-size="7" text-anchor="start" fill="#111" stroke="#111" stroke-width="0.1">3rd BMR</text>
<rect x="628.9" y="34.6" width="14.2" height="6.2" fill="#7e2f8e" stroke="#333" stroke-width="0.4"/>
<text x="646.9" y="40.2" font-size="7" text-anchor="start" fill="#111" stroke="#111" stroke-width="0.1">4th BMR</text>
<text x="5" y="159.8" font-size="12.5" text-anchor="start" fill="#000" stroke="#000" stroke-width="0.1" font-weight="bold">d</text>
<line x1="49.3" y1="245.45" x2="202.9" y2="245.45" stroke="#333" stroke-width="0.65" stroke-dasharray="2.4,1.8"/>
<text x="206.8" y="247.3" font-size="6.6" text-anchor="start" fill="#111" stroke="#111" stroke-width="0.1" font-style="italic">chance</text>
<line x1="56.85" y1="220.7" x2="56.85" y2="228.62" stroke="#555" stroke-width="0.6"/>
<line x1="56.85" y1="237.53" x2="56.85" y2="242.48" stroke="#555" stroke-width="0.6"/>
<line x1="56.05" y1="220.7" x2="57.65" y2="220.7" stroke="#222" stroke-width="0.6"/>
<line x1="56.05" y1="242.48" x2="57.65" y2="242.48" stroke="#222" stroke-width="0.6"/>
<rect x="54.8" y="228.62" width="4.1" height="8.91" fill="#0072bd" stroke="#1a1a1a" stroke-width="0.55"/>
<line x1="54.8" y1="234.56" x2="58.9" y2="234.56" stroke="#111" stroke-width="0.7"/>
<line x1="56.85" y1="274.9" x2="56.85" y2="273.6" stroke="#262626" stroke-width="0.5"/>
<line x1="64.47" y1="237.53" x2="64.47" y2="241.49" stroke="#555" stroke-width="0.6"/>
<line x1="64.47" y1="246.44" x2="64.47" y2="251.39" stroke="#555" stroke-width="0.6"/>
<line x1="63.67" y1="237.53" x2="65.27" y2="237.53" stroke="#222" stroke-width="0.6"/>
<line x1="63.67" y1="251.39" x2="65.27" y2="251.39" stroke="#222" stroke-width="0.6"/>
<rect x="62.42" y="241.49" width="4.1" height="4.95" fill="#d95319" stroke="#1a1a1a" stroke-width="0.55"/>
<line x1="62.42" y1="244.46" x2="66.52" y2="244.46" stroke="#111" stroke-width="0.7"/>
<line x1="64.47" y1="274.9" x2="64.47" y2="273.6" stroke="#262626" stroke-width="0.5"/>
<line x1="72.09" y1="241.49" x2="72.09" y2="247.43" stroke="#555" stroke-width="0.6"/>
<line x1="72.09" y1="252.38" x2="72.09" y2="258.32" stroke="#555" stroke-width="0.6"/>
<line x1="71.29" y1="241.49" x2="72.89" y2="241.49" stroke="#222" stroke-width="0.6"/>
<line x1="71.29" y1="258.32" x2="72.89" y2="258.32" stroke="#222" stroke-width="0.6"/>
<rect x="70.04" y="247.43" width="4.1" height="4.95" fill="#edb120" stroke="#1a1a1a" stroke-width="0.55"/>
<line x1="70.04" y1="249.41" x2="74.14" y2="249.41" stroke="#111" stroke-width="0.7"/>
<line x1="72.09" y1="274.9" x2="72.09" y2="273.6" stroke="#262626" stroke-width="0.5"/>
<line x1="79.71" y1="248.42" x2="79.71" y2="253.37" stroke="#555" stroke-width="0.6"/>
<line x1="79.71" y1="258.32" x2="79.71" y2="264.26" stroke="#555" stroke-width="0.6"/>
<line x1="78.91" y1="248.42" x2="80.51" y2="248.42" stroke="#222" stroke-width="0.6"/>
<line x1="78.91" y1="264.26" x2="80.51" y2="264.26" stroke="#222" stroke-width="0.6"/>
<rect x="77.66" y="253.37" width="4.1" height="4.95" fill="#7e2f8e" stroke="#1a1a1a" stroke-width="0.55"/>
<line x1="77.66" y1="255.35" x2="81.76" y2="255.35" stroke="#111" stroke-width="0.7"/>
<line x1="79.71" y1="274.9" x2="79.71" y2="273.6" stroke="#262626" stroke-width="0.5"/>
<text x="68.25" y="282.6" font-size="6.6" text-anchor="middle" fill="#222" stroke="#222" stroke-width="0.1">FI Within</text>
<line x1="95.2" y1="214.76" x2="95.2" y2="228.62" stroke="#555" stroke-width="0.6"/>
<line x1="95.2" y1="238.52" x2="95.2" y2="242.48" stroke="#555" stroke-width="0.6"/>
<line x1="94.4" y1="214.76" x2="96" y2="214.76" stroke="#222" stroke-width="0.6"/>
<line x1="94.4" y1="242.48" x2="96" y2="242.48" stroke="#222" stroke-width="0.6"/>
<rect x="93.15" y="228.62" width="4.1" height="9.9" fill="#0072bd" stroke="#1a1a1a" stroke-width="0.55"/>
<line x1="93.15" y1="235.55" x2="97.25" y2="235.55" stroke="#111" stroke-width="0.7"/>
<line x1="95.2" y1="274.9" x2="95.2" y2="273.6" stroke="#262626" stroke-width="0.5"/>
<line x1="102.82" y1="235.55" x2="102.82" y2="241.49" stroke="#555" stroke-width="0.6"/>
<line x1="102.82" y1="247.43" x2="102.82" y2="254.36" stroke="#555" stroke-width="0.6"/>
<line x1="102.02" y1="235.55" x2="103.62" y2="235.55" stroke="#222" stroke-width="0.6"/>
<line x1="102.02" y1="254.36" x2="103.62" y2="254.36" stroke="#222" stroke-width="0.6"/>
<rect x="100.77" y="241.49" width="4.1" height="5.94" fill="#d95319" stroke="#1a1a1a" stroke-width="0.55"/>
<line x1="100.77" y1="244.46" x2="104.87" y2="244.46" stroke="#111" stroke-width="0.7"/>
<line x1="102.82" y1="274.9" x2="102.82" y2="273.6" stroke="#262626" stroke-width="0.5"/>
<line x1="110.44" y1="242.48" x2="110.44" y2="247.43" stroke="#555" stroke-width="0.6"/>
<line x1="110.44" y1="253.37" x2="110.44" y2="259.31" stroke="#555" stroke-width="0.6"/>
<line x1="109.64" y1="242.48" x2="111.24" y2="242.48" stroke="#222" stroke-width="0.6"/>
<line x1="109.64" y1="259.31" x2="111.24" y2="259.31" stroke="#222" stroke-width="0.6"/>
<rect x="108.39" y="247.43" width="4.1" height="5.94" fill="#edb120" stroke="#1a1a1a" stroke-width="0.55"/>
<line x1="108.39" y1="250.4" x2="112.49" y2="250.4" stroke="#111" stroke-width="0.7"/>
<line x1="110.44" y1="274.9" x2="110.44" y2="273.6" stroke="#262626" stroke-width="0.5"/>
<line x1="118.06" y1="249.41" x2="118.06" y2="252.88" stroke="#555" stroke-width="0.6"/>
<line x1="118.06" y1="259.31" x2="118.06" y2="267.23" stroke="#555" stroke-width="0.6"/>
<line x1="117.26" y1="249.41" x2="118.86" y2="249.41" stroke="#222" stroke-width="0.6"/>
<line x1="117.26" y1="267.23" x2="118.86" y2="267.23" stroke="#222" stroke-width="0.6"/>
<rect x="116.01" y="252.88" width="4.1" height="6.44" fill="#7e2f8e" stroke="#1a1a1a" stroke-width="0.55"/>
<line x1="116.01" y1="256.34" x2="120.11" y2="256.34" stroke="#111" stroke-width="0.7"/>
<line x1="118.06" y1="274.9" x2="118.06" y2="273.6" stroke="#262626" stroke-width="0.5"/>
<text x="106.6" y="282.6" font-size="6.6" text-anchor="middle" fill="#222" stroke="#222" stroke-width="0.1">FI Across</text>
<line x1="133.55" y1="204.86" x2="133.55" y2="221.69" stroke="#555" stroke-width="0.6"/>
<line x1="133.55" y1="237.53" x2="133.55" y2="246.44" stroke="#555" stroke-width="0.6"/>
<line x1="132.75" y1="204.86" x2="134.35" y2="204.86" stroke="#222" stroke-width="0.6"/>
<line x1="132.75" y1="246.44" x2="134.35" y2="246.44" stroke="#222" stroke-width="0.6"/>
<rect x="131.5" y="221.69" width="4.1" height="15.84" fill="#0072bd" stroke="#1a1a1a" stroke-width="0.55"/>
<line x1="131.5" y1="227.63" x2="135.6" y2="227.63" stroke="#111" stroke-width="0.7"/>
<line x1="133.55" y1="274.9" x2="133.55" y2="273.6" stroke="#262626" stroke-width="0.5"/>
<line x1="141.17" y1="226.64" x2="141.17" y2="238.52" stroke="#555" stroke-width="0.6"/>
<line x1="141.17" y1="246.44" x2="141.17" y2="249.41" stroke="#555" stroke-width="0.6"/>
<line x1="140.37" y1="226.64" x2="141.97" y2="226.64" stroke="#222" stroke-width="0.6"/>
<line x1="140.37" y1="249.41" x2="141.97" y2="249.41" stroke="#222" stroke-width="0.6"/>
<rect x="139.12" y="238.52" width="4.1" height="7.92" fill="#d95319" stroke="#1a1a1a" stroke-width="0.55"/>
<line x1="139.12" y1="242.48" x2="143.22" y2="242.48" stroke="#111" stroke-width="0.7"/>
<line x1="141.17" y1="274.9" x2="141.17" y2="273.6" stroke="#262626" stroke-width="0.5"/>
<line x1="148.79" y1="242.48" x2="148.79" y2="245.45" stroke="#555" stroke-width="0.6"/>
<line x1="148.79" y1="260.3" x2="148.79" y2="270.2" stroke="#555" stroke-width="0.6"/>
<line x1="147.99" y1="242.48" x2="149.59" y2="242.48" stroke="#222" stroke-width="0.6"/>
<line x1="147.99" y1="270.2" x2="149.59" y2="270.2" stroke="#222" stroke-width="0.6"/>
<rect x="146.74" y="245.45" width="4.1" height="14.85" fill="#edb120" stroke="#1a1a1a" stroke-width="0.55"/>
<line x1="146.74" y1="251.39" x2="150.84" y2="251.39" stroke="#111" stroke-width="0.7"/>
<line x1="148.79" y1="274.9" x2="148.79" y2="273.6" stroke="#262626" stroke-width="0.5"/>
<line x1="156.41" y1="245.45" x2="156.41" y2="257.33" stroke="#555" stroke-width="0.6"/>
<line x1="155.61" y1="245.45" x2="157.21" y2="245.45" stroke="#222" stroke-width="0.6"/>
<line x1="155.61" y1="270.2" x2="157.21" y2="270.2" stroke="#222" stroke-width="0.6"/>
<rect x="154.36" y="257.33" width="4.1" height="12.87" fill="#7e2f8e" stroke="#1a1a1a" stroke-width="0.55"/>
<line x1="154.36" y1="260.3" x2="158.46" y2="260.3" stroke="#111" stroke-width="0.7"/>
<line x1="156.41" y1="274.9" x2="156.41" y2="273.6" stroke="#262626" stroke-width="0.5"/>
<text x="144.95" y="282.6" font-size="6.6" text-anchor="middle" fill="#222" stroke="#222" stroke-width="0.1">FS Within</text>
<line x1="171.9" y1="196.94" x2="171.9" y2="221.69" stroke="#555" stroke-width="0.6"/>
<line x1="171.9" y1="237.53" x2="171.9" y2="245.45" stroke="#555" stroke-width="0.6"/>
<line x1="171.1" y1="196.94" x2="172.7" y2="196.94" stroke="#222" stroke-width="0.6"/>
<line x1="171.1" y1="245.45" x2="172.7" y2="245.45" stroke="#222" stroke-width="0.6"/>
<rect x="169.85" y="221.69" width="4.1" height="15.84" fill="#0072bd" stroke="#1a1a1a" stroke-width="0.55"/>
<line x1="169.85" y1="227.63" x2="173.95" y2="227.63" stroke="#111" stroke-width="0.7"/>
<line x1="171.9" y1="274.9" x2="171.9" y2="273.6" stroke="#262626" stroke-width="0.5"/>
<line x1="179.52" y1="235.55" x2="179.52" y2="240.5" stroke="#555" stroke-width="0.6"/>
<line x1="179.52" y1="247.43" x2="179.52" y2="251.39" stroke="#555" stroke-width="0.6"/>
<line x1="178.72" y1="235.55" x2="180.32" y2="235.55" stroke="#222" stroke-width="0.6"/>
<line x1="178.72" y1="251.39" x2="180.32" y2="251.39" stroke="#222" stroke-width="0.6"/>
<rect x="177.47" y="240.5" width="4.1" height="6.93" fill="#d95319" stroke="#1a1a1a" stroke-width="0.55"/>
<line x1="177.47" y1="244.46" x2="181.57" y2="244.46" stroke="#111" stroke-width="0.7"/>
<line x1="179.52" y1="274.9" x2="179.52" y2="273.6" stroke="#262626" stroke-width="0.5"/>
<line x1="187.14" y1="237.53" x2="187.14" y2="248.42" stroke="#555" stroke-width="0.6"/>
<line x1="187.14" y1="255.35" x2="187.14" y2="258.32" stroke="#555" stroke-width="0.6"/>
<line x1="186.34" y1="237.53" x2="187.94" y2="237.53" stroke="#222" stroke-width="0.6"/>
<line x1="186.34" y1="258.32" x2="187.94" y2="258.32" stroke="#222" stroke-width="0.6"/>
<rect x="185.09" y="248.42" width="4.1" height="6.93" fill="#edb120" stroke="#1a1a1a" stroke-width="0.55"/>
<line x1="185.09" y1="251.39" x2="189.19" y2="251.39" stroke="#111" stroke-width="0.7"/>
<line x1="187.14" y1="274.9" x2="187.14" y2="273.6" stroke="#262626" stroke-width="0.5"/>
<line x1="194.76" y1="245.45" x2="194.76" y2="255.35" stroke="#555" stroke-width="0.6"/>
<line x1="193.96" y1="245.45" x2="195.56" y2="245.45" stroke="#222" stroke-width="0.6"/>
<line x1="193.96" y1="270.2" x2="195.56" y2="270.2" stroke="#222" stroke-width="0.6"/>
<rect x="192.71" y="255.35" width="4.1" height="14.85" fill="#7e2f8e" stroke="#1a1a1a" stroke-width="0.55"/>
<line x1="192.71" y1="260.3" x2="196.81" y2="260.3" stroke="#111" stroke-width="0.7"/>
<line x1="194.76" y1="274.9" x2="194.76" y2="273.6" stroke="#262626" stroke-width="0.5"/>
<text x="183.3" y="282.6" font-size="6.6" text-anchor="middle" fill="#222" stroke="#222" stroke-width="0.1">FS Across</text>
<line x1="49.3" y1="166.1" x2="49.3" y2="274.9" stroke="#262626" stroke-width="0.6"/>
<line x1="49.3" y1="274.9" x2="202.1" y2="274.9" stroke="#262626" stroke-width="0.6"/>
<line x1="49.3" y1="270.2" x2="50.8" y2="270.2" stroke="#262626" stroke-width="0.5"/>
<text x="45.3" y="271.5" font-size="6.7" text-anchor="end" fill="#3a3a3a" stroke="#3a3a3a" stroke-width="0.1">0</text>
<line x1="49.3" y1="260.3" x2="50.8" y2="260.3" stroke="#262626" stroke-width="0.5"/>
<text x="45.3" y="261.6" font-size="6.7" text-anchor="end" fill="#3a3a3a" stroke="#3a3a3a" stroke-width="0.1">0.1</text>
<line x1="49.3" y1="250.4" x2="50.8" y2="250.4" stroke="#262626" stroke-width="0.5"/>
<text x="45.3" y="251.7" font-size="6.7" text-anchor="end" fill="#3a3a3a" stroke="#3a3a3a" stroke-width="0.1">0.2</text>
<line x1="49.3" y1="240.5" x2="50.8" y2="240.5" stroke="#262626" stroke-width="0.5"/>
<text x="45.3" y="241.8" font-size="6.7" text-anchor="end" fill="#3a3a3a" stroke="#3a3a3a" stroke-width="0.1">0.3</text>
<line x1="49.3" y1="230.6" x2="50.8" y2="230.6" stroke="#262626" stroke-width="0.5"/>
<text x="45.3" y="231.9" font-size="6.7" text-anchor="end" fill="#3a3a3a" stroke="#3a3a3a" stroke-width="0.1">0.4</text>
<line x1="49.3" y1="220.7" x2="50.8" y2="220.7" stroke="#262626" stroke-width="0.5"/>
<text x="45.3" y="222" font-size="6.7" text-anchor="end" fill="#3a3a3a" stroke="#3a3a3a" stroke-width="0.1">0.5</text>
<line x1="49.3" y1="210.8" x2="50.8" y2="210.8" stroke="#262626" stroke-width="0.5"/>
<text x="45.3" y="212.1" font-size="6.7" text-anchor="end" fill="#3a3a3a" stroke="#3a3a3a" stroke-width="0.1">0.6</text>
<line x1="49.3" y1="200.9" x2="50.8" y2="200.9" stroke="#262626" stroke-width="0.5"/>
<text x="45.3" y="202.2" font-size="6.7" text-anchor="end" fill="#3a3a3a" stroke="#3a3a3a" stroke-width="0.1">0.7</text>
<line x1="49.3" y1="191" x2="50.8" y2="191" stroke="#262626" stroke-width="0.5"/>
<text x="45.3" y="192.3" font-size="6.7" text-anchor="end" fill="#3a3a3a" stroke="#3a3a3a" stroke-width="0.1">0.8</text>
<line x1="49.3" y1="181.1" x2="50.8" y2="181.1" stroke="#262626" stroke-width="0.5"/>
<text x="45.3" y="182.4" font-size="6.7" text-anchor="end" fill="#3a3a3a" stroke="#3a3a3a" stroke-width="0.1">0.9</text>
<line x1="49.3" y1="171.2" x2="50.8" y2="171.2" stroke="#262626" stroke-width="0.5"/>
<text x="45.3" y="172.5" font-size="6.7" text-anchor="end" fill="#3a3a3a" stroke="#3a3a3a" stroke-width="0.1">1</text>
<text x="125.3" y="161.3" font-size="9.7" text-anchor="middle" fill="#111" stroke="#111" stroke-width="0.1" letter-spacing="-0.3">Day 1</text>
<line x1="249.3" y1="245.45" x2="402.9" y2="245.45" stroke="#333" stroke-width="0.65" stroke-dasharray="2.4,1.8"/>
<text x="405.9" y="247.3" font-size="6.6" text-anchor="start" fill="#111" stroke="#111" stroke-width="0.1" font-style="italic">chance</text>
<line x1="256.85" y1="219.71" x2="256.85" y2="229.61" stroke="#555" stroke-width="0.6"/>
<line x1="256.85" y1="237.53" x2="256.85" y2="241.49" stroke="#555" stroke-width="0.6"/>
<line x1="256.05" y1="219.71" x2="257.65" y2="219.71" stroke="#222" stroke-width="0.6"/>
<line x1="256.05" y1="241.49" x2="257.65" y2="241.49" stroke="#222" stroke-width="0.6"/>
<rect x="254.8" y="229.61" width="4.1" height="7.92" fill="#0072bd" stroke="#1a1a1a" stroke-width="0.55"/>
<line x1="254.8" y1="233.57" x2="258.9" y2="233.57" stroke="#111" stroke-width="0.7"/>
<line x1="256.85" y1="274.9" x2="256.85" y2="273.6" stroke="#262626" stroke-width="0.5"/>
<line x1="264.47" y1="234.56" x2="264.47" y2="241.49" stroke="#555" stroke-width="0.6"/>
<line x1="264.47" y1="247.43" x2="264.47" y2="250.4" stroke="#555" stroke-width="0.6"/>
<line x1="263.67" y1="234.56" x2="265.27" y2="234.56" stroke="#222" stroke-width="0.6"/>
<line x1="263.67" y1="250.4" x2="265.27" y2="250.4" stroke="#222" stroke-width="0.6"/>
<rect x="262.42" y="241.49" width="4.1" height="5.94" fill="#d95319" stroke="#1a1a1a" stroke-width="0.55"/>
<line x1="262.42" y1="244.46" x2="266.52" y2="244.46" stroke="#111" stroke-width="0.7"/>
<line x1="264.47" y1="274.9" x2="264.47" y2="273.6" stroke="#262626" stroke-width="0.5"/>
<line x1="272.09" y1="243.47" x2="272.09" y2="247.43" stroke="#555" stroke-width="0.6"/>
<line x1="272.09" y1="251.39" x2="272.09" y2="255.35" stroke="#555" stroke-width="0.6"/>
<line x1="271.29" y1="243.47" x2="272.89" y2="243.47" stroke="#222" stroke-width="0.6"/>
<line x1="271.29" y1="255.35" x2="272.89" y2="255.35" stroke="#222" stroke-width="0.6"/>
<rect x="270.04" y="247.43" width="4.1" height="3.96" fill="#edb120" stroke="#1a1a1a" stroke-width="0.55"/>
<line x1="270.04" y1="249.41" x2="274.14" y2="249.41" stroke="#111" stroke-width="0.7"/>
<line x1="272.09" y1="274.9" x2="272.09" y2="273.6" stroke="#262626" stroke-width="0.5"/>
<line x1="279.71" y1="249.41" x2="279.71" y2="253.37" stroke="#555" stroke-width="0.6"/>
<line x1="279.71" y1="258.32" x2="279.71" y2="265.25" stroke="#555" stroke-width="0.6"/>
<line x1="278.91" y1="249.41" x2="280.51" y2="249.41" stroke="#222" stroke-width="0.6"/>
<line x1="278.91" y1="265.25" x2="280.51" y2="265.25" stroke="#222" stroke-width="0.6"/>
<rect x="277.66" y="253.37" width="4.1" height="4.95" fill="#7e2f8e" stroke="#1a1a1a" stroke-width="0.55"/>
<line x1="277.66" y1="255.35" x2="281.76" y2="255.35" stroke="#111" stroke-width="0.7"/>
<line x1="279.71" y1="274.9" x2="279.71" y2="273.6" stroke="#262626" stroke-width="0.5"/>
<text x="268.25" y="282.6" font-size="6.6" text-anchor="middle" fill="#222" stroke="#222" stroke-width="0.1">FI Within</text>
<line x1="295.2" y1="222.68" x2="295.2" y2="231.59" stroke="#555" stroke-width="0.6"/>
<line x1="295.2" y1="237.53" x2="295.2" y2="243.47" stroke="#555" stroke-width="0.6"/>
<line x1="294.4" y1="222.68" x2="296" y2="222.68" stroke="#222" stroke-width="0.6"/>
<line x1="294.4" y1="243.47" x2="296" y2="243.47" stroke="#222" stroke-width="0.6"/>
<rect x="293.15" y="231.59" width="4.1" height="5.94" fill="#0072bd" stroke="#1a1a1a" stroke-width="0.55"/>
<line x1="293.15" y1="234.56" x2="297.25" y2="234.56" stroke="#111" stroke-width="0.7"/>
<line x1="295.2" y1="274.9" x2="295.2" y2="273.6" stroke="#262626" stroke-width="0.5"/>
<line x1="302.82" y1="237.53" x2="302.82" y2="242.48" stroke="#555" stroke-width="0.6"/>
<line x1="302.82" y1="246.44" x2="302.82" y2="250.4" stroke="#555" stroke-width="0.6"/>
<line x1="302.02" y1="237.53" x2="303.62" y2="237.53" stroke="#222" stroke-width="0.6"/>
<line x1="302.02" y1="250.4" x2="303.62" y2="250.4" stroke="#222" stroke-width="0.6"/>
<rect x="300.77" y="242.48" width="4.1" height="3.96" fill="#d95319" stroke="#1a1a1a" stroke-width="0.55"/>
<line x1="300.77" y1="244.46" x2="304.87" y2="244.46" stroke="#111" stroke-width="0.7"/>
<line x1="302.82" y1="274.9" x2="302.82" y2="273.6" stroke="#262626" stroke-width="0.5"/>
<line x1="310.44" y1="242.48" x2="310.44" y2="246.44" stroke="#555" stroke-width="0.6"/>
<line x1="310.44" y1="251.39" x2="310.44" y2="256.34" stroke="#555" stroke-width="0.6"/>
<line x1="309.64" y1="242.48" x2="311.24" y2="242.48" stroke="#222" stroke-width="0.6"/>
<line x1="309.64" y1="256.34" x2="311.24" y2="256.34" stroke="#222" stroke-width="0.6"/>
<rect x="308.39" y="246.44" width="4.1" height="4.95" fill="#edb120" stroke="#1a1a1a" stroke-width="0.55"/>
<line x1="308.39" y1="249.41" x2="312.49" y2="249.41" stroke="#111" stroke-width="0.7"/>
<line x1="310.44" y1="274.9" x2="310.44" y2="273.6" stroke="#262626" stroke-width="0.5"/>
<line x1="318.06" y1="247.43" x2="318.06" y2="253.37" stroke="#555" stroke-width="0.6"/>
<line x1="318.06" y1="257.33" x2="318.06" y2="263.27" stroke="#555" stroke-width="0.6"/>
<line x1="317.26" y1="247.43" x2="318.86" y2="247.43" stroke="#222" stroke-width="0.6"/>
<line x1="317.26" y1="263.27" x2="318.86" y2="263.27" stroke="#222" stroke-width="0.6"/>
<rect x="316.01" y="253.37" width="4.1" height="3.96" fill="#7e2f8e" stroke="#1a1a1a" stroke-width="0.55"/>
<line x1="316.01" y1="255.35" x2="320.11" y2="255.35" stroke="#111" stroke-width="0.7"/>
<line x1="318.06" y1="274.9" x2="318.06" y2="273.6" stroke="#262626" stroke-width="0.5"/>
<text x="306.6" y="282.6" font-size="6.6" text-anchor="middle" fill="#222" stroke="#222" stroke-width="0.1">FI Across</text>
<line x1="333.55" y1="199.91" x2="333.55" y2="216.74" stroke="#555" stroke-width="0.6"/>
<line x1="333.55" y1="230.6" x2="333.55" y2="242.48" stroke="#555" stroke-width="0.6"/>
<line x1="332.75" y1="199.91" x2="334.35" y2="199.91" stroke="#222" stroke-width="0.6"/>
<line x1="332.75" y1="242.48" x2="334.35" y2="242.48" stroke="#222" stroke-width="0.6"/>
<rect x="331.5" y="216.74" width="4.1" height="13.86" fill="#0072bd" stroke="#1a1a1a" stroke-width="0.55"/>
<line x1="331.5" y1="227.63" x2="335.6" y2="227.63" stroke="#111" stroke-width="0.7"/>
<line x1="333.55" y1="274.9" x2="333.55" y2="273.6" stroke="#262626" stroke-width="0.5"/>
<line x1="341.17" y1="237.53" x2="341.17" y2="240.5" stroke="#555" stroke-width="0.6"/>
<line x1="341.17" y1="242.48" x2="341.17" y2="244.46" stroke="#555" stroke-width="0.6"/>
<line x1="340.37" y1="237.53" x2="341.97" y2="237.53" stroke="#222" stroke-width="0.6"/>
<line x1="340.37" y1="244.46" x2="341.97" y2="244.46" stroke="#222" stroke-width="0.6"/>
<rect x="339.12" y="240.5" width="4.1" height="1.98" fill="#d95319" stroke="#1a1a1a" stroke-width="0.55"/>
<line x1="339.12" y1="241.49" x2="343.22" y2="241.49" stroke="#111" stroke-width="0.7"/>
<line x1="341.17" y1="274.9" x2="341.17" y2="273.6" stroke="#262626" stroke-width="0.5"/>
<line x1="348.79" y1="241.49" x2="348.79" y2="248.42" stroke="#555" stroke-width="0.6"/>
<line x1="348.79" y1="256.34" x2="348.79" y2="261.29" stroke="#555" stroke-width="0.6"/>
<line x1="347.99" y1="241.49" x2="349.59" y2="241.49" stroke="#222" stroke-width="0.6"/>
<line x1="347.99" y1="261.29" x2="349.59" y2="261.29" stroke="#222" stroke-width="0.6"/>
<rect x="346.74" y="248.42" width="4.1" height="7.92" fill="#edb120" stroke="#1a1a1a" stroke-width="0.55"/>
<line x1="346.74" y1="252.38" x2="350.84" y2="252.38" stroke="#111" stroke-width="0.7"/>
<line x1="348.79" y1="274.9" x2="348.79" y2="273.6" stroke="#262626" stroke-width="0.5"/>
<line x1="356.41" y1="248.42" x2="356.41" y2="257.33" stroke="#555" stroke-width="0.6"/>
<line x1="355.61" y1="248.42" x2="357.21" y2="248.42" stroke="#222" stroke-width="0.6"/>
<line x1="355.61" y1="270.2" x2="357.21" y2="270.2" stroke="#222" stroke-width="0.6"/>
<rect x="354.36" y="257.33" width="4.1" height="12.87" fill="#7e2f8e" stroke="#1a1a1a" stroke-width="0.55"/>
<line x1="354.36" y1="262.28" x2="358.46" y2="262.28" stroke="#111" stroke-width="0.7"/>
<line x1="356.41" y1="274.9" x2="356.41" y2="273.6" stroke="#262626" stroke-width="0.5"/>
<text x="344.95" y="282.6" font-size="6.6" text-anchor="middle" fill="#222" stroke="#222" stroke-width="0.1">FS Within</text>
<line x1="371.9" y1="207.83" x2="371.9" y2="221.69" stroke="#555" stroke-width="0.6"/>
<line x1="371.9" y1="230.6" x2="371.9" y2="242.48" stroke="#555" stroke-width="0.6"/>
<line x1="371.1" y1="207.83" x2="372.7" y2="207.83" stroke="#222" stroke-width="0.6"/>
<line x1="371.1" y1="242.48" x2="372.7" y2="242.48" stroke="#222" stroke-width="0.6"/>
<rect x="369.85" y="221.69" width="4.1" height="8.91" fill="#0072bd" stroke="#1a1a1a" stroke-width="0.55"/>
<line x1="369.85" y1="228.62" x2="373.95" y2="228.62" stroke="#111" stroke-width="0.7"/>
<line x1="371.9" y1="274.9" x2="371.9" y2="273.6" stroke="#262626" stroke-width="0.5"/>
<line x1="379.52" y1="237.53" x2="379.52" y2="240.5" stroke="#555" stroke-width="0.6"/>
<line x1="379.52" y1="242.48" x2="379.52" y2="246.44" stroke="#555" stroke-width="0.6"/>
<line x1="378.72" y1="237.53" x2="380.32" y2="237.53" stroke="#222" stroke-width="0.6"/>
<line x1="378.72" y1="246.44" x2="380.32" y2="246.44" stroke="#222" stroke-width="0.6"/>
<rect x="377.47" y="240.5" width="4.1" height="1.98" fill="#d95319" stroke="#1a1a1a" stroke-width="0.55"/>
<line x1="377.47" y1="241.49" x2="381.57" y2="241.49" stroke="#111" stroke-width="0.7"/>
<line x1="379.52" y1="274.9" x2="379.52" y2="273.6" stroke="#262626" stroke-width="0.5"/>
<line x1="387.14" y1="241.49" x2="387.14" y2="247.43" stroke="#555" stroke-width="0.6"/>
<line x1="387.14" y1="256.34" x2="387.14" y2="262.28" stroke="#555" stroke-width="0.6"/>
<line x1="386.34" y1="241.49" x2="387.94" y2="241.49" stroke="#222" stroke-width="0.6"/>
<line x1="386.34" y1="262.28" x2="387.94" y2="262.28" stroke="#222" stroke-width="0.6"/>
<rect x="385.09" y="247.43" width="4.1" height="8.91" fill="#edb120" stroke="#1a1a1a" stroke-width="0.55"/>
<line x1="385.09" y1="253.37" x2="389.19" y2="253.37" stroke="#111" stroke-width="0.7"/>
<line x1="387.14" y1="274.9" x2="387.14" y2="273.6" stroke="#262626" stroke-width="0.5"/>
<line x1="394.76" y1="248.42" x2="394.76" y2="257.33" stroke="#555" stroke-width="0.6"/>
<line x1="393.96" y1="248.42" x2="395.56" y2="248.42" stroke="#222" stroke-width="0.6"/>
<line x1="393.96" y1="270.2" x2="395.56" y2="270.2" stroke="#222" stroke-width="0.6"/>
<rect x="392.71" y="257.33" width="4.1" height="12.87" fill="#7e2f8e" stroke="#1a1a1a" stroke-width="0.55"/>
<line x1="392.71" y1="261.29" x2="396.81" y2="261.29" stroke="#111" stroke-width="0.7"/>
<line x1="394.76" y1="274.9" x2="394.76" y2="273.6" stroke="#262626" stroke-width="0.5"/>
<text x="383.3" y="282.6" font-size="6.6" text-anchor="middle" fill="#222" stroke="#222" stroke-width="0.1">FS Across</text>
<line x1="249.3" y1="166.1" x2="249.3" y2="274.9" stroke="#262626" stroke-width="0.6"/>
<line x1="249.3" y1="274.9" x2="402.1" y2="274.9" stroke="#262626" stroke-width="0.6"/>
<line x1="249.3" y1="270.2" x2="250.8" y2="270.2" stroke="#262626" stroke-width="0.5"/>
<text x="245.3" y="271.5" font-size="6.7" text-anchor="end" fill="#3a3a3a" stroke="#3a3a3a" stroke-width="0.1">0</text>
<line x1="249.3" y1="260.3" x2="250.8" y2="260.3" stroke="#262626" stroke-width="0.5"/>
<text x="245.3" y="261.6" font-size="6.7" text-anchor="end" fill="#3a3a3a" stroke="#3a3a3a" stroke-width="0.1">0.1</text>
<line x1="249.3" y1="250.4" x2="250.8" y2="250.4" stroke="#262626" stroke-width="0.5"/>
<text x="245.3" y="251.7" font-size="6.7" text-anchor="end" fill="#3a3a3a" stroke="#3a3a3a" stroke-width="0.1">0.2</text>
<line x1="249.3" y1="240.5" x2="250.8" y2="240.5" stroke="#262626" stroke-width="0.5"/>
<text x="245.3" y="241.8" font-size="6.7" text-anchor="end" fill="#3a3a3a" stroke="#3a3a3a" stroke-width="0.1">0.3</text>
<line x1="249.3" y1="230.6" x2="250.8" y2="230.6" stroke="#262626" stroke-width="0.5"/>
<text x="245.3" y="231.9" font-size="6.7" text-anchor="end" fill="#3a3a3a" stroke="#3a3a3a" stroke-width="0.1">0.4</text>
<line x1="249.3" y1="220.7" x2="250.8" y2="220.7" stroke="#262626" stroke-width="0.5"/>
<text x="245.3" y="222" font-size="6.7" text-anchor="end" fill="#3a3a3a" stroke="#3a3a3a" stroke-width="0.1">0.5</text>
<line x1="249.3" y1="210.8" x2="250.8" y2="210.8" stroke="#262626" stroke-width="0.5"/>
<text x="245.3" y="212.1" font-size="6.7" text-anchor="end" fill="#3a3a3a" stroke="#3a3a3a" stroke-width="0.1">0.6</text>
<line x1="249.3" y1="200.9" x2="250.8" y2="200.9" stroke="#262626" stroke-width="0.5"/>
<text x="245.3" y="202.2" font-size="6.7" text-anchor="end" fill="#3a3a3a" stroke="#3a3a3a" stroke-width="0.1">0.7</text>
<line x1="249.3" y1="191" x2="250.8" y2="191" stroke="#262626" stroke-width="0.5"/>
<text x="245.3" y="192.3" font-size="6.7" text-anchor="end" fill="#3a3a3a" stroke="#3a3a3a" stroke-width="0.1">0.8</text>
<line x1="249.3" y1="181.1" x2="250.8" y2="181.1" stroke="#262626" stroke-width="0.5"/>
<text x="245.3" y="182.4" font-size="6.7" text-anchor="end" fill="#3a3a3a" stroke="#3a3a3a" stroke-width="0.1">0.9</text>
<line x1="249.3" y1="171.2" x2="250.8" y2="171.2" stroke="#262626" stroke-width="0.5"/>
<text x="245.3" y="172.5" font-size="6.7" text-anchor="end" fill="#3a3a3a" stroke="#3a3a3a" stroke-width="0.1">1</text>
<text x="325.3" y="161.3" font-size="9.7" text-anchor="middle" fill="#111" stroke="#111" stroke-width="0.1" letter-spacing="-0.3">Day 2</text>
<line x1="449.5" y1="245.45" x2="601.7" y2="245.45" stroke="#333" stroke-width="0.65" stroke-dasharray="2.4,1.8"/>
<text x="603.1" y="247.3" font-size="6.6" text-anchor="start" fill="#111" stroke="#111" stroke-width="0.1" font-style="italic">chance</text>
<line x1="456.75" y1="212.78" x2="456.75" y2="227.63" stroke="#555" stroke-width="0.6"/>
<line x1="456.75" y1="237.53" x2="456.75" y2="242.48" stroke="#555" stroke-width="0.6"/>
<line x1="455.95" y1="212.78" x2="457.55" y2="212.78" stroke="#222" stroke-width="0.6"/>
<line x1="455.95" y1="242.48" x2="457.55" y2="242.48" stroke="#222" stroke-width="0.6"/>
<rect x="454.7" y="227.63" width="4.1" height="9.9" fill="#0072bd" stroke="#1a1a1a" stroke-width="0.55"/>
<line x1="454.7" y1="233.57" x2="458.8" y2="233.57" stroke="#111" stroke-width="0.7"/>
<line x1="456.75" y1="274.9" x2="456.75" y2="273.6" stroke="#262626" stroke-width="0.5"/>
<line x1="464.37" y1="236.54" x2="464.37" y2="241.49" stroke="#555" stroke-width="0.6"/>
<line x1="464.37" y1="246.44" x2="464.37" y2="253.37" stroke="#555" stroke-width="0.6"/>
<line x1="463.57" y1="236.54" x2="465.17" y2="236.54" stroke="#222" stroke-width="0.6"/>
<line x1="463.57" y1="253.37" x2="465.17" y2="253.37" stroke="#222" stroke-width="0.6"/>
<rect x="462.32" y="241.49" width="4.1" height="4.95" fill="#d95319" stroke="#1a1a1a" stroke-width="0.55"/>
<line x1="462.32" y1="244.46" x2="466.42" y2="244.46" stroke="#111" stroke-width="0.7"/>
<line x1="464.37" y1="274.9" x2="464.37" y2="273.6" stroke="#262626" stroke-width="0.5"/>
<line x1="471.99" y1="240.5" x2="471.99" y2="247.43" stroke="#555" stroke-width="0.6"/>
<line x1="471.99" y1="252.38" x2="471.99" y2="258.32" stroke="#555" stroke-width="0.6"/>
<line x1="471.19" y1="240.5" x2="472.79" y2="240.5" stroke="#222" stroke-width="0.6"/>
<line x1="471.19" y1="258.32" x2="472.79" y2="258.32" stroke="#222" stroke-width="0.6"/>
<rect x="469.94" y="247.43" width="4.1" height="4.95" fill="#edb120" stroke="#1a1a1a" stroke-width="0.55"/>
<line x1="469.94" y1="249.41" x2="474.04" y2="249.41" stroke="#111" stroke-width="0.7"/>
<line x1="471.99" y1="274.9" x2="471.99" y2="273.6" stroke="#262626" stroke-width="0.5"/>
<line x1="479.61" y1="248.42" x2="479.61" y2="253.37" stroke="#555" stroke-width="0.6"/>
<line x1="479.61" y1="258.32" x2="479.61" y2="266.24" stroke="#555" stroke-width="0.6"/>
<line x1="478.81" y1="248.42" x2="480.41" y2="248.42" stroke="#222" stroke-width="0.6"/>
<line x1="478.81" y1="266.24" x2="480.41" y2="266.24" stroke="#222" stroke-width="0.6"/>
<rect x="477.56" y="253.37" width="4.1" height="4.95" fill="#7e2f8e" stroke="#1a1a1a" stroke-width="0.55"/>
<line x1="477.56" y1="255.35" x2="481.66" y2="255.35" stroke="#111" stroke-width="0.7"/>
<line x1="479.61" y1="274.9" x2="479.61" y2="273.6" stroke="#262626" stroke-width="0.5"/>
<text x="468.15" y="282.6" font-size="6.6" text-anchor="middle" fill="#222" stroke="#222" stroke-width="0.1">FI Within</text>
<line x1="494.67" y1="220.7" x2="494.67" y2="231.59" stroke="#555" stroke-width="0.6"/>
<line x1="494.67" y1="238.52" x2="494.67" y2="245.45" stroke="#555" stroke-width="0.6"/>
<line x1="493.87" y1="220.7" x2="495.47" y2="220.7" stroke="#222" stroke-width="0.6"/>
<line x1="493.87" y1="245.45" x2="495.47" y2="245.45" stroke="#222" stroke-width="0.6"/>
<rect x="492.62" y="231.59" width="4.1" height="6.93" fill="#0072bd" stroke="#1a1a1a" stroke-width="0.55"/>
<line x1="492.62" y1="235.55" x2="496.72" y2="235.55" stroke="#111" stroke-width="0.7"/>
<line x1="494.67" y1="274.9" x2="494.67" y2="273.6" stroke="#262626" stroke-width="0.5"/>
<line x1="502.29" y1="235.55" x2="502.29" y2="241.49" stroke="#555" stroke-width="0.6"/>
<line x1="502.29" y1="245.45" x2="502.29" y2="250.4" stroke="#555" stroke-width="0.6"/>
<line x1="501.49" y1="235.55" x2="503.09" y2="235.55" stroke="#222" stroke-width="0.6"/>
<line x1="501.49" y1="250.4" x2="503.09" y2="250.4" stroke="#222" stroke-width="0.6"/>
<rect x="500.24" y="241.49" width="4.1" height="3.96" fill="#d95319" stroke="#1a1a1a" stroke-width="0.55"/>
<line x1="500.24" y1="243.47" x2="504.34" y2="243.47" stroke="#111" stroke-width="0.7"/>
<line x1="502.29" y1="274.9" x2="502.29" y2="273.6" stroke="#262626" stroke-width="0.5"/>
<line x1="509.91" y1="241.49" x2="509.91" y2="246.44" stroke="#555" stroke-width="0.6"/>
<line x1="509.91" y1="251.39" x2="509.91" y2="258.32" stroke="#555" stroke-width="0.6"/>
<line x1="509.11" y1="241.49" x2="510.71" y2="241.49" stroke="#222" stroke-width="0.6"/>
<line x1="509.11" y1="258.32" x2="510.71" y2="258.32" stroke="#222" stroke-width="0.6"/>
<rect x="507.86" y="246.44" width="4.1" height="4.95" fill="#edb120" stroke="#1a1a1a" stroke-width="0.55"/>
<line x1="507.86" y1="248.42" x2="511.96" y2="248.42" stroke="#111" stroke-width="0.7"/>
<line x1="509.91" y1="274.9" x2="509.91" y2="273.6" stroke="#262626" stroke-width="0.5"/>
<line x1="517.53" y1="247.43" x2="517.53" y2="251.39" stroke="#555" stroke-width="0.6"/>
<line x1="517.53" y1="257.33" x2="517.53" y2="265.25" stroke="#555" stroke-width="0.6"/>
<line x1="516.73" y1="247.43" x2="518.33" y2="247.43" stroke="#222" stroke-width="0.6"/>
<line x1="516.73" y1="265.25" x2="518.33" y2="265.25" stroke="#222" stroke-width="0.6"/>
<rect x="515.48" y="251.39" width="4.1" height="5.94" fill="#7e2f8e" stroke="#1a1a1a" stroke-width="0.55"/>
<line x1="515.48" y1="253.37" x2="519.58" y2="253.37" stroke="#111" stroke-width="0.7"/>
<line x1="517.53" y1="274.9" x2="517.53" y2="273.6" stroke="#262626" stroke-width="0.5"/>
<text x="506.07" y="282.6" font-size="6.6" text-anchor="middle" fill="#222" stroke="#222" stroke-width="0.1">FI Across</text>
<line x1="532.59" y1="171.2" x2="532.59" y2="189.02" stroke="#555" stroke-width="0.6"/>
<line x1="532.59" y1="228.62" x2="532.59" y2="245.45" stroke="#555" stroke-width="0.6"/>
<line x1="531.79" y1="171.2" x2="533.39" y2="171.2" stroke="#222" stroke-width="0.6"/>
<line x1="531.79" y1="245.45" x2="533.39" y2="245.45" stroke="#222" stroke-width="0.6"/>
<rect x="530.54" y="189.02" width="4.1" height="39.6" fill="#0072bd" stroke="#1a1a1a" stroke-width="0.55"/>
<line x1="530.54" y1="220.7" x2="534.64" y2="220.7" stroke="#111" stroke-width="0.7"/>
<line x1="532.59" y1="274.9" x2="532.59" y2="273.6" stroke="#262626" stroke-width="0.5"/>
<line x1="540.21" y1="220.7" x2="540.21" y2="238.52" stroke="#555" stroke-width="0.6"/>
<line x1="540.21" y1="260.3" x2="540.21" y2="270.2" stroke="#555" stroke-width="0.6"/>
<line x1="539.41" y1="220.7" x2="541.01" y2="220.7" stroke="#222" stroke-width="0.6"/>
<line x1="539.41" y1="270.2" x2="541.01" y2="270.2" stroke="#222" stroke-width="0.6"/>
<rect x="538.16" y="238.52" width="4.1" height="21.78" fill="#d95319" stroke="#1a1a1a" stroke-width="0.55"/>
<line x1="538.16" y1="245.45" x2="542.26" y2="245.45" stroke="#111" stroke-width="0.7"/>
<line x1="540.21" y1="274.9" x2="540.21" y2="273.6" stroke="#262626" stroke-width="0.5"/>
<line x1="547.83" y1="241.49" x2="547.83" y2="252.38" stroke="#555" stroke-width="0.6"/>
<line x1="547.03" y1="241.49" x2="548.63" y2="241.49" stroke="#222" stroke-width="0.6"/>
<line x1="547.03" y1="270.2" x2="548.63" y2="270.2" stroke="#222" stroke-width="0.6"/>
<rect x="545.78" y="252.38" width="4.1" height="17.82" fill="#edb120" stroke="#1a1a1a" stroke-width="0.55"/>
<line x1="545.78" y1="257.33" x2="549.88" y2="257.33" stroke="#111" stroke-width="0.7"/>
<line x1="547.83" y1="274.9" x2="547.83" y2="273.6" stroke="#262626" stroke-width="0.5"/>
<line x1="555.45" y1="245.45" x2="555.45" y2="259.31" stroke="#555" stroke-width="0.6"/>
<line x1="554.65" y1="245.45" x2="556.25" y2="245.45" stroke="#222" stroke-width="0.6"/>
<line x1="554.65" y1="270.2" x2="556.25" y2="270.2" stroke="#222" stroke-width="0.6"/>
<rect x="553.4" y="259.31" width="4.1" height="10.89" fill="#7e2f8e" stroke="#1a1a1a" stroke-width="0.55"/>
<line x1="553.4" y1="264.26" x2="557.5" y2="264.26" stroke="#111" stroke-width="0.7"/>
<line x1="555.45" y1="274.9" x2="555.45" y2="273.6" stroke="#262626" stroke-width="0.5"/>
<text x="543.99" y="282.6" font-size="6.6" text-anchor="middle" fill="#222" stroke="#222" stroke-width="0.1">FS Within</text>
<line x1="570.51" y1="171.2" x2="570.51" y2="199.91" stroke="#555" stroke-width="0.6"/>
<line x1="570.51" y1="229.61" x2="570.51" y2="245.45" stroke="#555" stroke-width="0.6"/>
<line x1="569.71" y1="171.2" x2="571.31" y2="171.2" stroke="#222" stroke-width="0.6"/>
<line x1="569.71" y1="245.45" x2="571.31" y2="245.45" stroke="#222" stroke-width="0.6"/>
<rect x="568.46" y="199.91" width="4.1" height="29.7" fill="#0072bd" stroke="#1a1a1a" stroke-width="0.55"/>
<line x1="568.46" y1="220.7" x2="572.56" y2="220.7" stroke="#111" stroke-width="0.7"/>
<line x1="570.51" y1="274.9" x2="570.51" y2="273.6" stroke="#262626" stroke-width="0.5"/>
<line x1="578.13" y1="233.57" x2="578.13" y2="241.49" stroke="#555" stroke-width="0.6"/>
<line x1="578.13" y1="258.32" x2="578.13" y2="270.2" stroke="#555" stroke-width="0.6"/>
<line x1="577.33" y1="233.57" x2="578.93" y2="233.57" stroke="#222" stroke-width="0.6"/>
<line x1="577.33" y1="270.2" x2="578.93" y2="270.2" stroke="#222" stroke-width="0.6"/>
<rect x="576.08" y="241.49" width="4.1" height="16.83" fill="#d95319" stroke="#1a1a1a" stroke-width="0.55"/>
<line x1="576.08" y1="245.45" x2="580.18" y2="245.45" stroke="#111" stroke-width="0.7"/>
<line x1="578.13" y1="274.9" x2="578.13" y2="273.6" stroke="#262626" stroke-width="0.5"/>
<line x1="585.75" y1="237.53" x2="585.75" y2="247.43" stroke="#555" stroke-width="0.6"/>
<line x1="585.75" y1="264.26" x2="585.75" y2="270.2" stroke="#555" stroke-width="0.6"/>
<line x1="584.95" y1="237.53" x2="586.55" y2="237.53" stroke="#222" stroke-width="0.6"/>
<line x1="584.95" y1="270.2" x2="586.55" y2="270.2" stroke="#222" stroke-width="0.6"/>
<rect x="583.7" y="247.43" width="4.1" height="16.83" fill="#edb120" stroke="#1a1a1a" stroke-width="0.55"/>
<line x1="583.7" y1="253.37" x2="587.8" y2="253.37" stroke="#111" stroke-width="0.7"/>
<line x1="585.75" y1="274.9" x2="585.75" y2="273.6" stroke="#262626" stroke-width="0.5"/>
<line x1="593.37" y1="245.45" x2="593.37" y2="258.32" stroke="#555" stroke-width="0.6"/>
<line x1="592.57" y1="245.45" x2="594.17" y2="245.45" stroke="#222" stroke-width="0.6"/>
<line x1="592.57" y1="270.2" x2="594.17" y2="270.2" stroke="#222" stroke-width="0.6"/>
<rect x="591.32" y="258.32" width="4.1" height="11.88" fill="#7e2f8e" stroke="#1a1a1a" stroke-width="0.55"/>
<line x1="591.32" y1="264.26" x2="595.42" y2="264.26" stroke="#111" stroke-width="0.7"/>
<line x1="593.37" y1="274.9" x2="593.37" y2="273.6" stroke="#262626" stroke-width="0.5"/>
<text x="581.91" y="282.6" font-size="6.6" text-anchor="middle" fill="#222" stroke="#222" stroke-width="0.1">FS Across</text>
<line x1="449.5" y1="166.1" x2="449.5" y2="274.9" stroke="#262626" stroke-width="0.6"/>
<line x1="449.5" y1="274.9" x2="600.9" y2="274.9" stroke="#262626" stroke-width="0.6"/>
<line x1="449.5" y1="270.2" x2="451" y2="270.2" stroke="#262626" stroke-width="0.5"/>
<text x="445.5" y="271.5" font-size="6.7" text-anchor="end" fill="#3a3a3a" stroke="#3a3a3a" stroke-width="0.1">0</text>
<line x1="449.5" y1="260.3" x2="451" y2="260.3" stroke="#262626" stroke-width="0.5"/>
<text x="445.5" y="261.6" font-size="6.7" text-anchor="end" fill="#3a3a3a" stroke="#3a3a3a" stroke-width="0.1">0.1</text>
<line x1="449.5" y1="250.4" x2="451" y2="250.4" stroke="#262626" stroke-width="0.5"/>
<text x="445.5" y="251.7" font-size="6.7" text-anchor="end" fill="#3a3a3a" stroke="#3a3a3a" stroke-width="0.1">0.2</text>
<line x1="449.5" y1="240.5" x2="451" y2="240.5" stroke="#262626" stroke-width="0.5"/>
<text x="445.5" y="241.8" font-size="6.7" text-anchor="end" fill="#3a3a3a" stroke="#3a3a3a" stroke-width="0.1">0.3</text>
<line x1="449.5" y1="230.6" x2="451" y2="230.6" stroke="#262626" stroke-width="0.5"/>
<text x="445.5" y="231.9" font-size="6.7" text-anchor="end" fill="#3a3a3a" stroke="#3a3a3a" stroke-width="0.1">0.4</text>
<line x1="449.5" y1="220.7" x2="451" y2="220.7" stroke="#262626" stroke-width="0.5"/>
<text x="445.5" y="222" font-size="6.7" text-anchor="end" fill="#3a3a3a" stroke="#3a3a3a" stroke-width="0.1">0.5</text>
<line x1="449.5" y1="210.8" x2="451" y2="210.8" stroke="#262626" stroke-width="0.5"/>
<text x="445.5" y="212.1" font-size="6.7" text-anchor="end" fill="#3a3a3a" stroke="#3a3a3a" stroke-width="0.1">0.6</text>
<line x1="449.5" y1="200.9" x2="451" y2="200.9" stroke="#262626" stroke-width="0.5"/>
<text x="445.5" y="202.2" font-size="6.7" text-anchor="end" fill="#3a3a3a" stroke="#3a3a3a" stroke-width="0.1">0.7</text>
<line x1="449.5" y1="191" x2="451" y2="191" stroke="#262626" stroke-width="0.5"/>
<text x="445.5" y="192.3" font-size="6.7" text-anchor="end" fill="#3a3a3a" stroke="#3a3a3a" stroke-width="0.1">0.8</text>
<line x1="449.5" y1="181.1" x2="451" y2="181.1" stroke="#262626" stroke-width="0.5"/>
<text x="445.5" y="182.4" font-size="6.7" text-anchor="end" fill="#3a3a3a" stroke="#3a3a3a" stroke-width="0.1">0.9</text>
<line x1="449.5" y1="171.2" x2="451" y2="171.2" stroke="#262626" stroke-width="0.5"/>
<text x="445.5" y="172.5" font-size="6.7" text-anchor="end" fill="#3a3a3a" stroke="#3a3a3a" stroke-width="0.1">1</text>
<text x="525.3" y="161.3" font-size="9.7" text-anchor="middle" fill="#111" stroke="#111" stroke-width="0.1" letter-spacing="-0.3">Day 3</text>
<text x="24.4" y="220.1" font-size="9.3" text-anchor="middle" fill="#111" stroke="#111" stroke-width="0.1" transform="rotate(-90 24.4 220.1)">Cell Proportions</text>
<rect x="624.5" y="153.3" width="56.2" height="39.5" fill="#fff" stroke="#333" stroke-width="0.6"/>
<rect x="629" y="156.4" width="13.9" height="6.2" fill="#0072bd" stroke="#333" stroke-width="0.4"/>
<text x="646.5" y="162" font-size="7" text-anchor="start" fill="#111" stroke="#111" stroke-width="0.1">1st BMR</text>
<rect x="629" y="165.5" width="13.9" height="6.2" fill="#d95319" stroke="#333" stroke-width="0.4"/>
<text x="646.5" y="171.1" font-size="7" text-anchor="start" fill="#111" stroke="#111" stroke-width="0.1">2nd BMR</text>
<rect x="629" y="174.7" width="13.9" height="6.2" fill="#edb120" stroke="#333" stroke-width="0.4"/>
<text x="646.5" y="180.3" font-size="7" text-anchor="start" fill="#111" stroke="#111" stroke-width="0.1">3rd BMR</text>
<rect x="629" y="183.8" width="13.9" height="6.2" fill="#7e2f8e" stroke="#333" stroke-width="0.4"/>
<text x="646.5" y="189.4" font-size="7" text-anchor="start" fill="#111" stroke="#111" stroke-width="0.1">4th BMR</text>
<text x="5.6" y="312" font-size="12.5" text-anchor="start" fill="#000" stroke="#000" stroke-width="0.1" font-weight="bold">e</text>
<line x1="60.5" y1="401.1" x2="181" y2="401.1" stroke="#333" stroke-width="0.65" stroke-dasharray="2.4,1.8"/>
<line x1="74.18" y1="375.9" x2="74.18" y2="383.96" stroke="#555" stroke-width="0.6"/>
<line x1="74.18" y1="394.04" x2="74.18" y2="398.08" stroke="#555" stroke-width="0.6"/>
<line x1="73.38" y1="375.9" x2="74.98" y2="375.9" stroke="#222" stroke-width="0.6"/>
<line x1="73.38" y1="398.08" x2="74.98" y2="398.08" stroke="#222" stroke-width="0.6"/>
<rect x="70.88" y="383.96" width="6.6" height="10.08" fill="#0072bd" stroke="#1a1a1a" stroke-width="0.55"/>
<line x1="70.88" y1="390.01" x2="77.48" y2="390.01" stroke="#111" stroke-width="0.7"/>
<line x1="74.18" y1="431.8" x2="74.18" y2="430.3" stroke="#262626" stroke-width="0.5"/>
<line x1="87.48" y1="393.04" x2="87.48" y2="398.08" stroke="#555" stroke-width="0.6"/>
<line x1="87.48" y1="403.12" x2="87.48" y2="407.15" stroke="#555" stroke-width="0.6"/>
<line x1="86.68" y1="393.04" x2="88.28" y2="393.04" stroke="#222" stroke-width="0.6"/>
<line x1="86.68" y1="407.15" x2="88.28" y2="407.15" stroke="#222" stroke-width="0.6"/>
<rect x="84.18" y="398.08" width="6.6" height="5.04" fill="#d95319" stroke="#1a1a1a" stroke-width="0.55"/>
<line x1="84.18" y1="400.09" x2="90.78" y2="400.09" stroke="#111" stroke-width="0.7"/>
<line x1="87.48" y1="431.8" x2="87.48" y2="430.3" stroke="#262626" stroke-width="0.5"/>
<text x="80.88" y="441.8" font-size="6.9" text-anchor="middle" fill="#222" stroke="#222" stroke-width="0.1">Day 1</text>
<line x1="114.35" y1="374.89" x2="114.35" y2="384.97" stroke="#555" stroke-width="0.6"/>
<line x1="114.35" y1="393.04" x2="114.35" y2="397.07" stroke="#555" stroke-width="0.6"/>
<line x1="113.55" y1="374.89" x2="115.15" y2="374.89" stroke="#222" stroke-width="0.6"/>
<line x1="113.55" y1="397.07" x2="115.15" y2="397.07" stroke="#222" stroke-width="0.6"/>
<rect x="111.05" y="384.97" width="6.6" height="8.06" fill="#0072bd" stroke="#1a1a1a" stroke-width="0.55"/>
<line x1="111.05" y1="389" x2="117.65" y2="389" stroke="#111" stroke-width="0.7"/>
<line x1="114.35" y1="431.8" x2="114.35" y2="430.3" stroke="#262626" stroke-width="0.5"/>
<line x1="127.65" y1="390.01" x2="127.65" y2="398.08" stroke="#555" stroke-width="0.6"/>
<line x1="127.65" y1="403.12" x2="127.65" y2="406.14" stroke="#555" stroke-width="0.6"/>
<line x1="126.85" y1="390.01" x2="128.45" y2="390.01" stroke="#222" stroke-width="0.6"/>
<line x1="126.85" y1="406.14" x2="128.45" y2="406.14" stroke="#222" stroke-width="0.6"/>
<rect x="124.35" y="398.08" width="6.6" height="5.04" fill="#d95319" stroke="#1a1a1a" stroke-width="0.55"/>
<line x1="124.35" y1="400.09" x2="130.95" y2="400.09" stroke="#111" stroke-width="0.7"/>
<line x1="127.65" y1="431.8" x2="127.65" y2="430.3" stroke="#262626" stroke-width="0.5"/>
<text x="121.05" y="441.8" font-size="6.9" text-anchor="middle" fill="#222" stroke="#222" stroke-width="0.1">Day 2</text>
<line x1="154.52" y1="367.84" x2="154.52" y2="382.96" stroke="#555" stroke-width="0.6"/>
<line x1="154.52" y1="393.04" x2="154.52" y2="398.08" stroke="#555" stroke-width="0.6"/>
<line x1="153.72" y1="367.84" x2="155.32" y2="367.84" stroke="#222" stroke-width="0.6"/>
<line x1="153.72" y1="398.08" x2="155.32" y2="398.08" stroke="#222" stroke-width="0.6"/>
<rect x="151.22" y="382.96" width="6.6" height="10.08" fill="#0072bd" stroke="#1a1a1a" stroke-width="0.55"/>
<line x1="151.22" y1="389" x2="157.82" y2="389" stroke="#111" stroke-width="0.7"/>
<line x1="154.52" y1="431.8" x2="154.52" y2="430.3" stroke="#262626" stroke-width="0.5"/>
<line x1="167.82" y1="392.03" x2="167.82" y2="398.08" stroke="#555" stroke-width="0.6"/>
<line x1="167.82" y1="402.11" x2="167.82" y2="410.17" stroke="#555" stroke-width="0.6"/>
<line x1="167.02" y1="392.03" x2="168.62" y2="392.03" stroke="#222" stroke-width="0.6"/>
<line x1="167.02" y1="410.17" x2="168.62" y2="410.17" stroke="#222" stroke-width="0.6"/>
<rect x="164.52" y="398.08" width="6.6" height="4.03" fill="#d95319" stroke="#1a1a1a" stroke-width="0.55"/>
<line x1="164.52" y1="400.09" x2="171.12" y2="400.09" stroke="#111" stroke-width="0.7"/>
<line x1="167.82" y1="431.8" x2="167.82" y2="430.3" stroke="#262626" stroke-width="0.5"/>
<text x="161.22" y="441.8" font-size="6.9" text-anchor="middle" fill="#222" stroke="#222" stroke-width="0.1">Day 3</text>
<line x1="60.5" y1="320.7" x2="60.5" y2="431.8" stroke="#262626" stroke-width="0.6"/>
<line x1="60.5" y1="431.8" x2="181" y2="431.8" stroke="#262626" stroke-width="0.6"/>
<line x1="60.5" y1="426.3" x2="62" y2="426.3" stroke="#262626" stroke-width="0.5"/>
<text x="55.4" y="428.7" font-size="6.7" text-anchor="end" fill="#3a3a3a" stroke="#3a3a3a" stroke-width="0.1">0</text>
<line x1="60.5" y1="416.22" x2="62" y2="416.22" stroke="#262626" stroke-width="0.5"/>
<text x="55.4" y="418.62" font-size="6.7" text-anchor="end" fill="#3a3a3a" stroke="#3a3a3a" stroke-width="0.1">0.1</text>
<line x1="60.5" y1="406.14" x2="62" y2="406.14" stroke="#262626" stroke-width="0.5"/>
<text x="55.4" y="408.54" font-size="6.7" text-anchor="end" fill="#3a3a3a" stroke="#3a3a3a" stroke-width="0.1">0.2</text>
<line x1="60.5" y1="396.06" x2="62" y2="396.06" stroke="#262626" stroke-width="0.5"/>
<text x="55.4" y="398.46" font-size="6.7" text-anchor="end" fill="#3a3a3a" stroke="#3a3a3a" stroke-width="0.1">0.3</text>
<line x1="60.5" y1="385.98" x2="62" y2="385.98" stroke="#262626" stroke-width="0.5"/>
<text x="55.4" y="388.38" font-size="6.7" text-anchor="end" fill="#3a3a3a" stroke="#3a3a3a" stroke-width="0.1">0.4</text>
<line x1="60.5" y1="375.9" x2="62" y2="375.9" stroke="#262626" stroke-width="0.5"/>
<text x="55.4" y="378.3" font-size="6.7" text-anchor="end" fill="#3a3a3a" stroke="#3a3a3a" stroke-width="0.1">0.5</text>
<line x1="60.5" y1="365.82" x2="62" y2="365.82" stroke="#262626" stroke-width="0.5"/>
<text x="55.4" y="368.22" font-size="6.7" text-anchor="end" fill="#3a3a3a" stroke="#3a3a3a" stroke-width="0.1">0.6</text>
<line x1="60.5" y1="355.74" x2="62" y2="355.74" stroke="#262626" stroke-width="0.5"/>
<text x="55.4" y="358.14" font-size="6.7" text-anchor="end" fill="#3a3a3a" stroke="#3a3a3a" stroke-width="0.1">0.7</text>
<line x1="60.5" y1="345.66" x2="62" y2="345.66" stroke="#262626" stroke-width="0.5"/>
<text x="55.4" y="348.06" font-size="6.7" text-anchor="end" fill="#3a3a3a" stroke="#3a3a3a" stroke-width="0.1">0.8</text>
<line x1="60.5" y1="335.58" x2="62" y2="335.58" stroke="#262626" stroke-width="0.5"/>
<text x="55.4" y="337.98" font-size="6.7" text-anchor="end" fill="#3a3a3a" stroke="#3a3a3a" stroke-width="0.1">0.9</text>
<line x1="60.5" y1="325.5" x2="62" y2="325.5" stroke="#262626" stroke-width="0.5"/>
<text x="55.4" y="327.9" font-size="6.7" text-anchor="end" fill="#3a3a3a" stroke="#3a3a3a" stroke-width="0.1">1</text>
<text x="124.4" y="316.7" font-size="7.9" text-anchor="middle" fill="#111" stroke="#111" stroke-width="0.1">FI Within</text>
<line x1="219.8" y1="401.1" x2="340.3" y2="401.1" stroke="#333" stroke-width="0.65" stroke-dasharray="2.4,1.8"/>
<line x1="233.48" y1="368.84" x2="233.48" y2="382.96" stroke="#555" stroke-width="0.6"/>
<line x1="233.48" y1="394.04" x2="233.48" y2="398.08" stroke="#555" stroke-width="0.6"/>
<line x1="232.68" y1="368.84" x2="234.28" y2="368.84" stroke="#222" stroke-width="0.6"/>
<line x1="232.68" y1="398.08" x2="234.28" y2="398.08" stroke="#222" stroke-width="0.6"/>
<rect x="230.18" y="382.96" width="6.6" height="11.09" fill="#0072bd" stroke="#1a1a1a" stroke-width="0.55"/>
<line x1="230.18" y1="391.02" x2="236.78" y2="391.02" stroke="#111" stroke-width="0.7"/>
<line x1="233.48" y1="431.8" x2="233.48" y2="430.3" stroke="#262626" stroke-width="0.5"/>
<line x1="246.78" y1="391.02" x2="246.78" y2="397.07" stroke="#555" stroke-width="0.6"/>
<line x1="246.78" y1="403.12" x2="246.78" y2="410.17" stroke="#555" stroke-width="0.6"/>
<line x1="245.98" y1="391.02" x2="247.58" y2="391.02" stroke="#222" stroke-width="0.6"/>
<line x1="245.98" y1="410.17" x2="247.58" y2="410.17" stroke="#222" stroke-width="0.6"/>
<rect x="243.48" y="397.07" width="6.6" height="6.05" fill="#d95319" stroke="#1a1a1a" stroke-width="0.55"/>
<line x1="243.48" y1="400.09" x2="250.08" y2="400.09" stroke="#111" stroke-width="0.7"/>
<line x1="246.78" y1="431.8" x2="246.78" y2="430.3" stroke="#262626" stroke-width="0.5"/>
<text x="240.18" y="441.8" font-size="6.9" text-anchor="middle" fill="#222" stroke="#222" stroke-width="0.1">Day 1</text>
<line x1="273.65" y1="377.92" x2="273.65" y2="386.99" stroke="#555" stroke-width="0.6"/>
<line x1="273.65" y1="393.04" x2="273.65" y2="400.09" stroke="#555" stroke-width="0.6"/>
<line x1="272.85" y1="377.92" x2="274.45" y2="377.92" stroke="#222" stroke-width="0.6"/>
<line x1="272.85" y1="400.09" x2="274.45" y2="400.09" stroke="#222" stroke-width="0.6"/>
<rect x="270.35" y="386.99" width="6.6" height="6.05" fill="#0072bd" stroke="#1a1a1a" stroke-width="0.55"/>
<line x1="270.35" y1="390.01" x2="276.95" y2="390.01" stroke="#111" stroke-width="0.7"/>
<line x1="273.65" y1="431.8" x2="273.65" y2="430.3" stroke="#262626" stroke-width="0.5"/>
<line x1="286.95" y1="393.04" x2="286.95" y2="399.08" stroke="#555" stroke-width="0.6"/>
<line x1="286.95" y1="402.11" x2="286.95" y2="406.14" stroke="#555" stroke-width="0.6"/>
<line x1="286.15" y1="393.04" x2="287.75" y2="393.04" stroke="#222" stroke-width="0.6"/>
<line x1="286.15" y1="406.14" x2="287.75" y2="406.14" stroke="#222" stroke-width="0.6"/>
<rect x="283.65" y="399.08" width="6.6" height="3.02" fill="#d95319" stroke="#1a1a1a" stroke-width="0.55"/>
<line x1="283.65" y1="400.09" x2="290.25" y2="400.09" stroke="#111" stroke-width="0.7"/>
<line x1="286.95" y1="431.8" x2="286.95" y2="430.3" stroke="#262626" stroke-width="0.5"/>
<text x="280.35" y="441.8" font-size="6.9" text-anchor="middle" fill="#222" stroke="#222" stroke-width="0.1">Day 2</text>
<line x1="313.82" y1="375.9" x2="313.82" y2="386.99" stroke="#555" stroke-width="0.6"/>
<line x1="313.82" y1="394.04" x2="313.82" y2="400.09" stroke="#555" stroke-width="0.6"/>
<line x1="313.02" y1="375.9" x2="314.62" y2="375.9" stroke="#222" stroke-width="0.6"/>
<line x1="313.02" y1="400.09" x2="314.62" y2="400.09" stroke="#222" stroke-width="0.6"/>
<rect x="310.52" y="386.99" width="6.6" height="7.06" fill="#0072bd" stroke="#1a1a1a" stroke-width="0.55"/>
<line x1="310.52" y1="390.01" x2="317.12" y2="390.01" stroke="#111" stroke-width="0.7"/>
<line x1="313.82" y1="431.8" x2="313.82" y2="430.3" stroke="#262626" stroke-width="0.5"/>
<line x1="327.12" y1="391.02" x2="327.12" y2="398.08" stroke="#555" stroke-width="0.6"/>
<line x1="327.12" y1="402.11" x2="327.12" y2="406.14" stroke="#555" stroke-width="0.6"/>
<line x1="326.32" y1="391.02" x2="327.92" y2="391.02" stroke="#222" stroke-width="0.6"/>
<line x1="326.32" y1="406.14" x2="327.92" y2="406.14" stroke="#222" stroke-width="0.6"/>
<rect x="323.82" y="398.08" width="6.6" height="4.03" fill="#d95319" stroke="#1a1a1a" stroke-width="0.55"/>
<line x1="323.82" y1="399.08" x2="330.42" y2="399.08" stroke="#111" stroke-width="0.7"/>
<line x1="327.12" y1="431.8" x2="327.12" y2="430.3" stroke="#262626" stroke-width="0.5"/>
<text x="320.52" y="441.8" font-size="6.9" text-anchor="middle" fill="#222" stroke="#222" stroke-width="0.1">Day 3</text>
<line x1="219.8" y1="320.7" x2="219.8" y2="431.8" stroke="#262626" stroke-width="0.6"/>
<line x1="219.8" y1="431.8" x2="340.3" y2="431.8" stroke="#262626" stroke-width="0.6"/>
<line x1="219.8" y1="426.3" x2="221.3" y2="426.3" stroke="#262626" stroke-width="0.5"/>
<text x="214.7" y="428.7" font-size="6.7" text-anchor="end" fill="#3a3a3a" stroke="#3a3a3a" stroke-width="0.1">0</text>
<line x1="219.8" y1="416.22" x2="221.3" y2="416.22" stroke="#262626" stroke-width="0.5"/>
<text x="214.7" y="418.62" font-size="6.7" text-anchor="end" fill="#3a3a3a" stroke="#3a3a3a" stroke-width="0.1">0.1</text>
<line x1="219.8" y1="406.14" x2="221.3" y2="406.14" stroke="#262626" stroke-width="0.5"/>
<text x="214.7" y="408.54" font-size="6.7" text-anchor="end" fill="#3a3a3a" stroke="#3a3a3a" stroke-width="0.1">0.2</text>
<line x1="219.8" y1="396.06" x2="221.3" y2="396.06" stroke="#262626" stroke-width="0.5"/>
<text x="214.7" y="398.46" font-size="6.7" text-anchor="end" fill="#3a3a3a" stroke="#3a3a3a" stroke-width="0.1">0.3</text>
<line x1="219.8" y1="385.98" x2="221.3" y2="385.98" stroke="#262626" stroke-width="0.5"/>
<text x="214.7" y="388.38" font-size="6.7" text-anchor="end" fill="#3a3a3a" stroke="#3a3a3a" stroke-width="0.1">0.4</text>
<line x1="219.8" y1="375.9" x2="221.3" y2="375.9" stroke="#262626" stroke-width="0.5"/>
<text x="214.7" y="378.3" font-size="6.7" text-anchor="end" fill="#3a3a3a" stroke="#3a3a3a" stroke-width="0.1">0.5</text>
<line x1="219.8" y1="365.82" x2="221.3" y2="365.82" stroke="#262626" stroke-width="0.5"/>
<text x="214.7" y="368.22" font-size="6.7" text-anchor="end" fill="#3a3a3a" stroke="#3a3a3a" stroke-width="0.1">0.6</text>
<line x1="219.8" y1="355.74" x2="221.3" y2="355.74" stroke="#262626" stroke-width="0.5"/>
<text x="214.7" y="358.14" font-size="6.7" text-anchor="end" fill="#3a3a3a" stroke="#3a3a3a" stroke-width="0.1">0.7</text>
<line x1="219.8" y1="345.66" x2="221.3" y2="345.66" stroke="#262626" stroke-width="0.5"/>
<text x="214.7" y="348.06" font-size="6.7" text-anchor="end" fill="#3a3a3a" stroke="#3a3a3a" stroke-width="0.1">0.8</text>
<line x1="219.8" y1="335.58" x2="221.3" y2="335.58" stroke="#262626" stroke-width="0.5"/>
<text x="214.7" y="337.98" font-size="6.7" text-anchor="end" fill="#3a3a3a" stroke="#3a3a3a" stroke-width="0.1">0.9</text>
<line x1="219.8" y1="325.5" x2="221.3" y2="325.5" stroke="#262626" stroke-width="0.5"/>
<text x="214.7" y="327.9" font-size="6.7" text-anchor="end" fill="#3a3a3a" stroke="#3a3a3a" stroke-width="0.1">1</text>
<text x="283.5" y="316.7" font-size="7.9" text-anchor="middle" fill="#111" stroke="#111" stroke-width="0.1">FI Across</text>
<line x1="378" y1="401.1" x2="498.9" y2="401.1" stroke="#333" stroke-width="0.65" stroke-dasharray="2.4,1.8"/>
<line x1="391.75" y1="358.76" x2="391.75" y2="375.9" stroke="#555" stroke-width="0.6"/>
<line x1="391.75" y1="392.03" x2="391.75" y2="401.1" stroke="#555" stroke-width="0.6"/>
<line x1="390.95" y1="358.76" x2="392.55" y2="358.76" stroke="#222" stroke-width="0.6"/>
<line x1="390.95" y1="401.1" x2="392.55" y2="401.1" stroke="#222" stroke-width="0.6"/>
<rect x="388.45" y="375.9" width="6.6" height="16.13" fill="#0072bd" stroke="#1a1a1a" stroke-width="0.55"/>
<line x1="388.45" y1="381.95" x2="395.05" y2="381.95" stroke="#111" stroke-width="0.7"/>
<line x1="391.75" y1="431.8" x2="391.75" y2="430.3" stroke="#262626" stroke-width="0.5"/>
<line x1="405.05" y1="381.95" x2="405.05" y2="393.04" stroke="#555" stroke-width="0.6"/>
<line x1="405.05" y1="401.1" x2="405.05" y2="404.12" stroke="#555" stroke-width="0.6"/>
<line x1="404.25" y1="381.95" x2="405.85" y2="381.95" stroke="#222" stroke-width="0.6"/>
<line x1="404.25" y1="404.12" x2="405.85" y2="404.12" stroke="#222" stroke-width="0.6"/>
<rect x="401.75" y="393.04" width="6.6" height="8.06" fill="#d95319" stroke="#1a1a1a" stroke-width="0.55"/>
<line x1="401.75" y1="398.08" x2="408.35" y2="398.08" stroke="#111" stroke-width="0.7"/>
<line x1="405.05" y1="431.8" x2="405.05" y2="430.3" stroke="#262626" stroke-width="0.5"/>
<text x="398.45" y="441.8" font-size="6.9" text-anchor="middle" fill="#222" stroke="#222" stroke-width="0.1">Day 1</text>
<line x1="432.05" y1="353.72" x2="432.05" y2="371.87" stroke="#555" stroke-width="0.6"/>
<line x1="432.05" y1="385.98" x2="432.05" y2="398.08" stroke="#555" stroke-width="0.6"/>
<line x1="431.25" y1="353.72" x2="432.85" y2="353.72" stroke="#222" stroke-width="0.6"/>
<line x1="431.25" y1="398.08" x2="432.85" y2="398.08" stroke="#222" stroke-width="0.6"/>
<rect x="428.75" y="371.87" width="6.6" height="14.11" fill="#0072bd" stroke="#1a1a1a" stroke-width="0.55"/>
<line x1="428.75" y1="382.96" x2="435.35" y2="382.96" stroke="#111" stroke-width="0.7"/>
<line x1="432.05" y1="431.8" x2="432.05" y2="430.3" stroke="#262626" stroke-width="0.5"/>
<line x1="445.35" y1="393.04" x2="445.35" y2="396.06" stroke="#555" stroke-width="0.6"/>
<line x1="445.35" y1="398.08" x2="445.35" y2="400.09" stroke="#555" stroke-width="0.6"/>
<line x1="444.55" y1="393.04" x2="446.15" y2="393.04" stroke="#222" stroke-width="0.6"/>
<line x1="444.55" y1="400.09" x2="446.15" y2="400.09" stroke="#222" stroke-width="0.6"/>
<rect x="442.05" y="396.06" width="6.6" height="2.02" fill="#d95319" stroke="#1a1a1a" stroke-width="0.55"/>
<line x1="442.05" y1="397.07" x2="448.65" y2="397.07" stroke="#111" stroke-width="0.7"/>
<line x1="445.35" y1="431.8" x2="445.35" y2="430.3" stroke="#262626" stroke-width="0.5"/>
<text x="438.75" y="441.8" font-size="6.9" text-anchor="middle" fill="#222" stroke="#222" stroke-width="0.1">Day 2</text>
<line x1="472.35" y1="325.5" x2="472.35" y2="343.64" stroke="#555" stroke-width="0.6"/>
<line x1="472.35" y1="383.96" x2="472.35" y2="401.1" stroke="#555" stroke-width="0.6"/>
<line x1="471.55" y1="325.5" x2="473.15" y2="325.5" stroke="#222" stroke-width="0.6"/>
<line x1="471.55" y1="401.1" x2="473.15" y2="401.1" stroke="#222" stroke-width="0.6"/>
<rect x="469.05" y="343.64" width="6.6" height="40.32" fill="#0072bd" stroke="#1a1a1a" stroke-width="0.55"/>
<line x1="469.05" y1="375.9" x2="475.65" y2="375.9" stroke="#111" stroke-width="0.7"/>
<line x1="472.35" y1="431.8" x2="472.35" y2="430.3" stroke="#262626" stroke-width="0.5"/>
<line x1="485.65" y1="375.9" x2="485.65" y2="394.04" stroke="#555" stroke-width="0.6"/>
<line x1="485.65" y1="416.22" x2="485.65" y2="426.3" stroke="#555" stroke-width="0.6"/>
<line x1="484.85" y1="375.9" x2="486.45" y2="375.9" stroke="#222" stroke-width="0.6"/>
<line x1="484.85" y1="426.3" x2="486.45" y2="426.3" stroke="#222" stroke-width="0.6"/>
<rect x="482.35" y="394.04" width="6.6" height="22.18" fill="#d95319" stroke="#1a1a1a" stroke-width="0.55"/>
<line x1="482.35" y1="401.1" x2="488.95" y2="401.1" stroke="#111" stroke-width="0.7"/>
<line x1="485.65" y1="431.8" x2="485.65" y2="430.3" stroke="#262626" stroke-width="0.5"/>
<text x="479.05" y="441.8" font-size="6.9" text-anchor="middle" fill="#222" stroke="#222" stroke-width="0.1">Day 3</text>
<line x1="378" y1="320.7" x2="378" y2="431.8" stroke="#262626" stroke-width="0.6"/>
<line x1="378" y1="431.8" x2="498.9" y2="431.8" stroke="#262626" stroke-width="0.6"/>
<line x1="378" y1="426.3" x2="379.5" y2="426.3" stroke="#262626" stroke-width="0.5"/>
<text x="372.9" y="428.7" font-size="6.7" text-anchor="end" fill="#3a3a3a" stroke="#3a3a3a" stroke-width="0.1">0</text>
<line x1="378" y1="416.22" x2="379.5" y2="416.22" stroke="#262626" stroke-width="0.5"/>
<text x="372.9" y="418.62" font-size="6.7" text-anchor="end" fill="#3a3a3a" stroke="#3a3a3a" stroke-width="0.1">0.1</text>
<line x1="378" y1="406.14" x2="379.5" y2="406.14" stroke="#262626" stroke-width="0.5"/>
<text x="372.9" y="408.54" font-size="6.7" text-anchor="end" fill="#3a3a3a" stroke="#3a3a3a" stroke-width="0.1">0.2</text>
<line x1="378" y1="396.06" x2="379.5" y2="396.06" stroke="#262626" stroke-width="0.5"/>
<text x="372.9" y="398.46" font-size="6.7" text-anchor="end" fill="#3a3a3a" stroke="#3a3a3a" stroke-width="0.1">0.3</text>
<line x1="378" y1="385.98" x2="379.5" y2="385.98" stroke="#262626" stroke-width="0.5"/>
<text x="372.9" y="388.38" font-size="6.7" text-anchor="end" fill="#3a3a3a" stroke="#3a3a3a" stroke-width="0.1">0.4</text>
<line x1="378" y1="375.9" x2="379.5" y2="375.9" stroke="#262626" stroke-width="0.5"/>
<text x="372.9" y="378.3" font-size="6.7" text-anchor="end" fill="#3a3a3a" stroke="#3a3a3a" stroke-width="0.1">0.5</text>
<line x1="378" y1="365.82" x2="379.5" y2="365.82" stroke="#262626" stroke-width="0.5"/>
<text x="372.9" y="368.22" font-size="6.7" text-anchor="end" fill="#3a3a3a" stroke="#3a3a3a" stroke-width="0.1">0.6</text>
<line x1="378" y1="355.74" x2="379.5" y2="355.74" stroke="#262626" stroke-width="0.5"/>
<text x="372.9" y="358.14" font-size="6.7" text-anchor="end" fill="#3a3a3a" stroke="#3a3a3a" stroke-width="0.1">0.7</text>
<line x1="378" y1="345.66" x2="379.5" y2="345.66" stroke="#262626" stroke-width="0.5"/>
<text x="372.9" y="348.06" font-size="6.7" text-anchor="end" fill="#3a3a3a" stroke="#3a3a3a" stroke-width="0.1">0.8</text>
<line x1="378" y1="335.58" x2="379.5" y2="335.58" stroke="#262626" stroke-width="0.5"/>
<text x="372.9" y="337.98" font-size="6.7" text-anchor="end" fill="#3a3a3a" stroke="#3a3a3a" stroke-width="0.1">0.9</text>
<line x1="378" y1="325.5" x2="379.5" y2="325.5" stroke="#262626" stroke-width="0.5"/>
<text x="372.9" y="327.9" font-size="6.7" text-anchor="end" fill="#3a3a3a" stroke="#3a3a3a" stroke-width="0.1">1</text>
<text x="441.9" y="316.7" font-size="7.9" text-anchor="middle" fill="#111" stroke="#111" stroke-width="0.1">FS Within</text>
<line x1="537.2" y1="401.1" x2="656.4" y2="401.1" stroke="#333" stroke-width="0.65" stroke-dasharray="2.4,1.8"/>
<line x1="550.67" y1="350.7" x2="550.67" y2="375.9" stroke="#555" stroke-width="0.6"/>
<line x1="550.67" y1="393.04" x2="550.67" y2="401.1" stroke="#555" stroke-width="0.6"/>
<line x1="549.87" y1="350.7" x2="551.47" y2="350.7" stroke="#222" stroke-width="0.6"/>
<line x1="549.87" y1="401.1" x2="551.47" y2="401.1" stroke="#222" stroke-width="0.6"/>
<rect x="547.37" y="375.9" width="6.6" height="17.14" fill="#0072bd" stroke="#1a1a1a" stroke-width="0.55"/>
<line x1="547.37" y1="381.95" x2="553.97" y2="381.95" stroke="#111" stroke-width="0.7"/>
<line x1="550.67" y1="431.8" x2="550.67" y2="430.3" stroke="#262626" stroke-width="0.5"/>
<line x1="563.97" y1="389" x2="563.97" y2="395.05" stroke="#555" stroke-width="0.6"/>
<line x1="563.97" y1="402.11" x2="563.97" y2="408.16" stroke="#555" stroke-width="0.6"/>
<line x1="563.17" y1="389" x2="564.77" y2="389" stroke="#222" stroke-width="0.6"/>
<line x1="563.17" y1="408.16" x2="564.77" y2="408.16" stroke="#222" stroke-width="0.6"/>
<rect x="560.67" y="395.05" width="6.6" height="7.06" fill="#d95319" stroke="#1a1a1a" stroke-width="0.55"/>
<line x1="560.67" y1="400.09" x2="567.27" y2="400.09" stroke="#111" stroke-width="0.7"/>
<line x1="563.97" y1="431.8" x2="563.97" y2="430.3" stroke="#262626" stroke-width="0.5"/>
<text x="557.37" y="441.8" font-size="6.9" text-anchor="middle" fill="#222" stroke="#222" stroke-width="0.1">Day 1</text>
<line x1="590.4" y1="361.79" x2="590.4" y2="375.9" stroke="#555" stroke-width="0.6"/>
<line x1="590.4" y1="384.97" x2="590.4" y2="398.08" stroke="#555" stroke-width="0.6"/>
<line x1="589.6" y1="361.79" x2="591.2" y2="361.79" stroke="#222" stroke-width="0.6"/>
<line x1="589.6" y1="398.08" x2="591.2" y2="398.08" stroke="#222" stroke-width="0.6"/>
<rect x="587.1" y="375.9" width="6.6" height="9.07" fill="#0072bd" stroke="#1a1a1a" stroke-width="0.55"/>
<line x1="587.1" y1="382.96" x2="593.7" y2="382.96" stroke="#111" stroke-width="0.7"/>
<line x1="590.4" y1="431.8" x2="590.4" y2="430.3" stroke="#262626" stroke-width="0.5"/>
<line x1="603.7" y1="393.04" x2="603.7" y2="396.06" stroke="#555" stroke-width="0.6"/>
<line x1="603.7" y1="399.08" x2="603.7" y2="402.11" stroke="#555" stroke-width="0.6"/>
<line x1="602.9" y1="393.04" x2="604.5" y2="393.04" stroke="#222" stroke-width="0.6"/>
<line x1="602.9" y1="402.11" x2="604.5" y2="402.11" stroke="#222" stroke-width="0.6"/>
<rect x="600.4" y="396.06" width="6.6" height="3.02" fill="#d95319" stroke="#1a1a1a" stroke-width="0.55"/>
<line x1="600.4" y1="398.08" x2="607" y2="398.08" stroke="#111" stroke-width="0.7"/>
<line x1="603.7" y1="431.8" x2="603.7" y2="430.3" stroke="#262626" stroke-width="0.5"/>
<text x="597.1" y="441.8" font-size="6.9" text-anchor="middle" fill="#222" stroke="#222" stroke-width="0.1">Day 2</text>
<line x1="630.13" y1="325.5" x2="630.13" y2="353.72" stroke="#555" stroke-width="0.6"/>
<line x1="630.13" y1="384.97" x2="630.13" y2="401.1" stroke="#555" stroke-width="0.6"/>
<line x1="629.33" y1="325.5" x2="630.93" y2="325.5" stroke="#222" stroke-width="0.6"/>
<line x1="629.33" y1="401.1" x2="630.93" y2="401.1" stroke="#222" stroke-width="0.6"/>
<rect x="626.83" y="353.72" width="6.6" height="31.25" fill="#0072bd" stroke="#1a1a1a" stroke-width="0.55"/>
<line x1="626.83" y1="375.9" x2="633.43" y2="375.9" stroke="#111" stroke-width="0.7"/>
<line x1="630.13" y1="431.8" x2="630.13" y2="430.3" stroke="#262626" stroke-width="0.5"/>
<line x1="643.43" y1="389" x2="643.43" y2="397.07" stroke="#555" stroke-width="0.6"/>
<line x1="643.43" y1="414.2" x2="643.43" y2="426.3" stroke="#555" stroke-width="0.6"/>
<line x1="642.63" y1="389" x2="644.23" y2="389" stroke="#222" stroke-width="0.6"/>
<line x1="642.63" y1="426.3" x2="644.23" y2="426.3" stroke="#222" stroke-width="0.6"/>
<rect x="640.13" y="397.07" width="6.6" height="17.14" fill="#d95319" stroke="#1a1a1a" stroke-width="0.55"/>
<line x1="640.13" y1="401.1" x2="646.73" y2="401.1" stroke="#111" stroke-width="0.7"/>
<line x1="643.43" y1="431.8" x2="643.43" y2="430.3" stroke="#262626" stroke-width="0.5"/>
<text x="636.83" y="441.8" font-size="6.9" text-anchor="middle" fill="#222" stroke="#222" stroke-width="0.1">Day 3</text>
<line x1="537.2" y1="320.7" x2="537.2" y2="431.8" stroke="#262626" stroke-width="0.6"/>
<line x1="537.2" y1="431.8" x2="656.4" y2="431.8" stroke="#262626" stroke-width="0.6"/>
<line x1="537.2" y1="426.3" x2="538.7" y2="426.3" stroke="#262626" stroke-width="0.5"/>
<text x="532.1" y="428.7" font-size="6.7" text-anchor="end" fill="#3a3a3a" stroke="#3a3a3a" stroke-width="0.1">0</text>
<line x1="537.2" y1="416.22" x2="538.7" y2="416.22" stroke="#262626" stroke-width="0.5"/>
<text x="532.1" y="418.62" font-size="6.7" text-anchor="end" fill="#3a3a3a" stroke="#3a3a3a" stroke-width="0.1">0.1</text>
<line x1="537.2" y1="406.14" x2="538.7" y2="406.14" stroke="#262626" stroke-width="0.5"/>
<text x="532.1" y="408.54" font-size="6.7" text-anchor="end" fill="#3a3a3a" stroke="#3a3a3a" stroke-width="0.1">0.2</text>
<line x1="537.2" y1="396.06" x2="538.7" y2="396.06" stroke="#262626" stroke-width="0.5"/>
<text x="532.1" y="398.46" font-size="6.7" text-anchor="end" fill="#3a3a3a" stroke="#3a3a3a" stroke-width="0.1">0.3</text>
<line x1="537.2" y1="385.98" x2="538.7" y2="385.98" stroke="#262626" stroke-width="0.5"/>
<text x="532.1" y="388.38" font-size="6.7" text-anchor="end" fill="#3a3a3a" stroke="#3a3a3a" stroke-width="0.1">0.4</text>
<line x1="537.2" y1="375.9" x2="538.7" y2="375.9" stroke="#262626" stroke-width="0.5"/>
<text x="532.1" y="378.3" font-size="6.7" text-anchor="end" fill="#3a3a3a" stroke="#3a3a3a" stroke-width="0.1">0.5</text>
<line x1="537.2" y1="365.82" x2="538.7" y2="365.82" stroke="#262626" stroke-width="0.5"/>
<text x="532.1" y="368.22" font-size="6.7" text-anchor="end" fill="#3a3a3a" stroke="#3a3a3a" stroke-width="0.1">0.6</text>
<line x1="537.2" y1="355.74" x2="538.7" y2="355.74" stroke="#262626" stroke-width="0.5"/>
<text x="532.1" y="358.14" font-size="6.7" text-anchor="end" fill="#3a3a3a" stroke="#3a3a3a" stroke-width="0.1">0.7</text>
<line x1="537.2" y1="345.66" x2="538.7" y2="345.66" stroke="#262626" stroke-width="0.5"/>
<text x="532.1" y="348.06" font-size="6.7" text-anchor="end" fill="#3a3a3a" stroke="#3a3a3a" stroke-width="0.1">0.8</text>
<line x1="537.2" y1="335.58" x2="538.7" y2="335.58" stroke="#262626" stroke-width="0.5"/>
<text x="532.1" y="337.98" font-size="6.7" text-anchor="end" fill="#3a3a3a" stroke="#3a3a3a" stroke-width="0.1">0.9</text>
<line x1="537.2" y1="325.5" x2="538.7" y2="325.5" stroke="#262626" stroke-width="0.5"/>
<text x="532.1" y="327.9" font-size="6.7" text-anchor="end" fill="#3a3a3a" stroke="#3a3a3a" stroke-width="0.1">1</text>
<text x="600.1" y="316.7" font-size="7.9" text-anchor="middle" fill="#111" stroke="#111" stroke-width="0.1">FS Across</text>
<text x="30.9" y="376.6" font-size="9.1" text-anchor="middle" fill="#111" stroke="#111" stroke-width="0.1" transform="rotate(-90 30.9 376.6)">Cell Proportions</text>
<line x1="391.3" y1="355.5" x2="472.2" y2="323.3" stroke="#333" stroke-width="0.6"/>
<text x="431.4" y="340.2" font-size="11" text-anchor="middle" fill="#111" stroke="#111" stroke-width="0.1">*</text>
<line x1="404.8" y1="407.9" x2="485.6" y2="428.6" stroke="#333" stroke-width="0.6"/>
<text x="445.3" y="419.9" font-size="11" text-anchor="middle" fill="#111" stroke="#111" stroke-width="0.1">*</text>
<line x1="550.5" y1="347.4" x2="629.7" y2="323.3" stroke="#333" stroke-width="0.6"/>
<text x="590" y="337.4" font-size="11" text-anchor="middle" fill="#111" stroke="#111" stroke-width="0.1">*</text>
<line x1="563.4" y1="411.4" x2="642.8" y2="429.3" stroke="#333" stroke-width="0.6"/>
<text x="603.1" y="423" font-size="11" text-anchor="middle" fill="#111" stroke="#111" stroke-width="0.1">*</text>
<rect x="297" y="453" width="23.5" height="6.5" fill="#0072bd" stroke="#333" stroke-width="0.4"/>
<text x="324" y="457.9" font-size="6.5" text-anchor="start" fill="#111" stroke="#111" stroke-width="0.1">1st BMR</text>
<rect x="358" y="453" width="22.8" height="6.5" fill="#d95319" stroke="#333" stroke-width="0.4"/>
<text x="384.6" y="457.9" font-size="6.5" text-anchor="start" fill="#111" stroke="#111" stroke-width="0.1">2nd BMR</text>
<text x="5.6" y="481.5" font-size="12.5" text-anchor="start" fill="#000" stroke="#000" stroke-width="0.1" font-weight="bold">f</text>
<text x="50.15" y="490.6" font-size="7.3" text-anchor="middle" fill="#111" stroke="#111" stroke-width="0.1">FI Within</text>
<rect x="23.4" y="508" width="50.5" height="5.5" fill="url(#cbar)" stroke="#222" stroke-width="0.5"/>
<text x="27.5" y="506.4" font-size="6.4" text-anchor="start" fill="#222" stroke="#222" stroke-width="0.1" transform="rotate(-90 27.5 506.4)">0.3</text>
<text x="35.4" y="506.4" font-size="6.4" text-anchor="start" fill="#222" stroke="#222" stroke-width="0.1" transform="rotate(-90 35.4 506.4)">0.25</text>
<text x="43.3" y="506.4" font-size="6.4" text-anchor="start" fill="#222" stroke="#222" stroke-width="0.1" transform="rotate(-90 43.3 506.4)">0.2</text>
<text x="51.2" y="506.4" font-size="6.4" text-anchor="start" fill="#222" stroke="#222" stroke-width="0.1" transform="rotate(-90 51.2 506.4)">0.15</text>
<text x="59.1" y="506.4" font-size="6.4" text-anchor="start" fill="#222" stroke="#222" stroke-width="0.1" transform="rotate(-90 59.1 506.4)">0.1</text>
<text x="67" y="506.4" font-size="6.4" text-anchor="start" fill="#222" stroke="#222" stroke-width="0.1" transform="rotate(-90 67 506.4)">0.05</text>
<text x="74.9" y="506.4" font-size="6.4" text-anchor="start" fill="#222" stroke="#222" stroke-width="0.1" transform="rotate(-90 74.9 506.4)">0</text>
<rect x="23.4" y="516.2" width="13.28" height="12.62" fill="#ffffff" stroke="none" stroke-width="1"/>
<rect x="36.62" y="516.2" width="13.28" height="12.62" fill="#20b8a8" stroke="none" stroke-width="1"/>
<rect x="49.85" y="516.2" width="13.28" height="12.62" fill="#f9f50c" stroke="none" stroke-width="1"/>
<rect x="63.07" y="516.2" width="13.28" height="12.62" fill="#2a6ef0" stroke="none" stroke-width="1"/>
<rect x="23.4" y="528.78" width="13.28" height="12.62" fill="#3c5af0" stroke="none" stroke-width="1"/>
<rect x="36.62" y="528.78" width="13.28" height="12.62" fill="#ffffff" stroke="none" stroke-width="1"/>
<rect x="49.85" y="528.78" width="13.28" height="12.62" fill="#3a60f0" stroke="none" stroke-width="1"/>
<rect x="63.07" y="528.78" width="13.28" height="12.62" fill="#4232b0" stroke="none" stroke-width="1"/>
<rect x="23.4" y="541.35" width="13.28" height="12.62" fill="#78c448" stroke="none" stroke-width="1"/>
<rect x="36.62" y="541.35" width="13.28" height="12.62" fill="#4848e8" stroke="none" stroke-width="1"/>
<rect x="49.85" y="541.35" width="13.28" height="12.62" fill="#ffffff" stroke="none" stroke-width="1"/>
<rect x="63.07" y="541.35" width="13.28" height="12.62" fill="#3c60f0" stroke="none" stroke-width="1"/>
<rect x="23.4" y="553.93" width="13.28" height="12.62" fill="#4236c8" stroke="none" stroke-width="1"/>
<rect x="36.62" y="553.93" width="13.28" height="12.62" fill="#3e2cb0" stroke="none" stroke-width="1"/>
<rect x="49.85" y="553.93" width="13.28" height="12.62" fill="#4848e8" stroke="none" stroke-width="1"/>
<rect x="63.07" y="553.93" width="13.28" height="12.62" fill="#ffffff" stroke="none" stroke-width="1"/>
<rect x="23.4" y="516.2" width="52.9" height="50.3" fill="none" stroke="#111" stroke-width="0.9"/>
<line x1="30.01" y1="516.2" x2="30.01" y2="517.2" stroke="#333" stroke-width="0.5"/>
<line x1="30.01" y1="566.5" x2="30.01" y2="565.5" stroke="#333" stroke-width="0.5"/>
<line x1="23.4" y1="522.49" x2="24.4" y2="522.49" stroke="#333" stroke-width="0.5"/>
<line x1="76.3" y1="522.49" x2="75.3" y2="522.49" stroke="#333" stroke-width="0.5"/>
<line x1="43.24" y1="516.2" x2="43.24" y2="517.2" stroke="#333" stroke-width="0.5"/>
<line x1="43.24" y1="566.5" x2="43.24" y2="565.5" stroke="#333" stroke-width="0.5"/>
<line x1="23.4" y1="535.06" x2="24.4" y2="535.06" stroke="#333" stroke-width="0.5"/>
<line x1="76.3" y1="535.06" x2="75.3" y2="535.06" stroke="#333" stroke-width="0.5"/>
<line x1="56.46" y1="516.2" x2="56.46" y2="517.2" stroke="#333" stroke-width="0.5"/>
<line x1="56.46" y1="566.5" x2="56.46" y2="565.5" stroke="#333" stroke-width="0.5"/>
<line x1="23.4" y1="547.64" x2="24.4" y2="547.64" stroke="#333" stroke-width="0.5"/>
<line x1="76.3" y1="547.64" x2="75.3" y2="547.64" stroke="#333" stroke-width="0.5"/>
<line x1="69.69" y1="516.2" x2="69.69" y2="517.2" stroke="#333" stroke-width="0.5"/>
<line x1="69.69" y1="566.5" x2="69.69" y2="565.5" stroke="#333" stroke-width="0.5"/>
<line x1="23.4" y1="560.21" x2="24.4" y2="560.21" stroke="#333" stroke-width="0.5"/>
<line x1="76.3" y1="560.21" x2="75.3" y2="560.21" stroke="#333" stroke-width="0.5"/>
<text x="56.46" y="525.09" font-size="7.6" text-anchor="middle" fill="#e8282a" stroke="#e8282a" stroke-width="0.1" font-weight="bold">#</text>
<text x="22" y="524.79" font-size="6.6" text-anchor="end" fill="#222" stroke="#222" stroke-width="0.1">0°</text>
<text x="22" y="537.36" font-size="6.6" text-anchor="end" fill="#222" stroke="#222" stroke-width="0.1">90°</text>
<text x="22" y="549.94" font-size="6.6" text-anchor="end" fill="#222" stroke="#222" stroke-width="0.1">180°</text>
<text x="22" y="562.51" font-size="6.6" text-anchor="end" fill="#222" stroke="#222" stroke-width="0.1">270°</text>
<text x="7.5" y="541.35" font-size="6.6" text-anchor="middle" fill="#222" stroke="#222" stroke-width="0.1" transform="rotate(-90 7.5 541.35)">First BMR</text>
<text x="31.81" y="570.9" font-size="6.6" text-anchor="end" fill="#222" stroke="#222" stroke-width="0.1" transform="rotate(-42 31.81 570.9)">0°</text>
<text x="45.04" y="570.9" font-size="6.6" text-anchor="end" fill="#222" stroke="#222" stroke-width="0.1" transform="rotate(-42 45.04 570.9)">90°</text>
<text x="58.26" y="570.9" font-size="6.6" text-anchor="end" fill="#222" stroke="#222" stroke-width="0.1" transform="rotate(-42 58.26 570.9)">180°</text>
<text x="71.49" y="570.9" font-size="6.6" text-anchor="end" fill="#222" stroke="#222" stroke-width="0.1" transform="rotate(-42 71.49 570.9)">270°</text>
<text x="51.05" y="584.9" font-size="6.6" text-anchor="middle" fill="#222" stroke="#222" stroke-width="0.1">Second BMR</text>
<line x1="79.5" y1="516.2" x2="79.5" y2="566.5" stroke="#8a8a8a" stroke-width="0.6"/>
<line x1="79.5" y1="566.5" x2="102" y2="566.5" stroke="#8a8a8a" stroke-width="0.6"/>
<line x1="79.5" y1="566.5" x2="79.5" y2="565.5" stroke="#666" stroke-width="0.5"/>
<line x1="86.95" y1="566.5" x2="86.95" y2="565.5" stroke="#666" stroke-width="0.5"/>
<line x1="94.4" y1="566.5" x2="94.4" y2="565.5" stroke="#666" stroke-width="0.5"/>
<line x1="101.85" y1="566.5" x2="101.85" y2="565.5" stroke="#666" stroke-width="0.5"/>
<rect x="79.5" y="519.89" width="20.3" height="7.2" fill="#0a6fb8" stroke="#1a3a5a" stroke-width="0.4"/>
<rect x="79.5" y="532.46" width="4" height="7.2" fill="#0a6fb8" stroke="#1a3a5a" stroke-width="0.4"/>
<rect x="79.5" y="545.04" width="11.6" height="7.2" fill="#0a6fb8" stroke="#1a3a5a" stroke-width="0.4"/>
<rect x="79.5" y="557.61" width="2.5" height="7.2" fill="#0a6fb8" stroke="#1a3a5a" stroke-width="0.4"/>
<text x="81.7" y="573.5" font-size="6.6" text-anchor="middle" fill="#222" stroke="#222" stroke-width="0.1">0</text>
<text x="102.3" y="573.5" font-size="6.6" text-anchor="middle" fill="#222" stroke="#222" stroke-width="0.1">60%</text>
<text x="158.05" y="490.8" font-size="7.3" text-anchor="middle" fill="#111" stroke="#111" stroke-width="0.1">FI Across</text>
<rect x="131.3" y="508.2" width="50.5" height="5.5" fill="url(#cbar)" stroke="#222" stroke-width="0.5"/>
<text x="139.4" y="506.6" font-size="6.4" text-anchor="start" fill="#222" stroke="#222" stroke-width="0.1" transform="rotate(-90 139.4 506.6)">0.25</text>
<text x="148.08" y="506.6" font-size="6.4" text-anchor="start" fill="#222" stroke="#222" stroke-width="0.1" transform="rotate(-90 148.08 506.6)">0.2</text>
<text x="156.76" y="506.6" font-size="6.4" text-anchor="start" fill="#222" stroke="#222" stroke-width="0.1" transform="rotate(-90 156.76 506.6)">0.15</text>
<text x="165.44" y="506.6" font-size="6.4" text-anchor="start" fill="#222" stroke="#222" stroke-width="0.1" transform="rotate(-90 165.44 506.6)">0.1</text>
<text x="174.12" y="506.6" font-size="6.4" text-anchor="start" fill="#222" stroke="#222" stroke-width="0.1" transform="rotate(-90 174.12 506.6)">0.05</text>
<text x="182.8" y="506.6" font-size="6.4" text-anchor="start" fill="#222" stroke="#222" stroke-width="0.1" transform="rotate(-90 182.8 506.6)">0</text>
<rect x="131.3" y="516.4" width="13.28" height="12.62" fill="#ffffff" stroke="none" stroke-width="1"/>
<rect x="144.53" y="516.4" width="13.28" height="12.62" fill="#4650f0" stroke="none" stroke-width="1"/>
<rect x="157.75" y="516.4" width="13.28" height="12.62" fill="#f9f410" stroke="none" stroke-width="1"/>
<rect x="170.98" y="516.4" width="13.28" height="12.62" fill="#1a96e8" stroke="none" stroke-width="1"/>
<rect x="131.3" y="528.98" width="13.28" height="12.62" fill="#4545e0" stroke="none" stroke-width="1"/>
<rect x="144.53" y="528.98" width="13.28" height="12.62" fill="#ffffff" stroke="none" stroke-width="1"/>
<rect x="157.75" y="528.98" width="13.28" height="12.62" fill="#4232c0" stroke="none" stroke-width="1"/>
<rect x="170.98" y="528.98" width="13.28" height="12.62" fill="#4232c0" stroke="none" stroke-width="1"/>
<rect x="131.3" y="541.55" width="13.28" height="12.62" fill="#f4ec18" stroke="none" stroke-width="1"/>
<rect x="144.53" y="541.55" width="13.28" height="12.62" fill="#3c6af5" stroke="none" stroke-width="1"/>
<rect x="157.75" y="541.55" width="13.28" height="12.62" fill="#ffffff" stroke="none" stroke-width="1"/>
<rect x="170.98" y="541.55" width="13.28" height="12.62" fill="#18b0d8" stroke="none" stroke-width="1"/>
<rect x="131.3" y="554.12" width="13.28" height="12.62" fill="#4545e0" stroke="none" stroke-width="1"/>
<rect x="144.53" y="554.12" width="13.28" height="12.62" fill="#3f2eb0" stroke="none" stroke-width="1"/>
<rect x="157.75" y="554.12" width="13.28" height="12.62" fill="#1a80f0" stroke="none" stroke-width="1"/>
<rect x="170.98" y="554.12" width="13.28" height="12.62" fill="#ffffff" stroke="none" stroke-width="1"/>
<rect x="131.3" y="516.4" width="52.9" height="50.3" fill="none" stroke="#111" stroke-width="0.9"/>
<line x1="137.91" y1="516.4" x2="137.91" y2="517.4" stroke="#333" stroke-width="0.5"/>
<line x1="137.91" y1="566.7" x2="137.91" y2="565.7" stroke="#333" stroke-width="0.5"/>
<line x1="131.3" y1="522.69" x2="132.3" y2="522.69" stroke="#333" stroke-width="0.5"/>
<line x1="184.2" y1="522.69" x2="183.2" y2="522.69" stroke="#333" stroke-width="0.5"/>
<line x1="151.14" y1="516.4" x2="151.14" y2="517.4" stroke="#333" stroke-width="0.5"/>
<line x1="151.14" y1="566.7" x2="151.14" y2="565.7" stroke="#333" stroke-width="0.5"/>
<line x1="131.3" y1="535.26" x2="132.3" y2="535.26" stroke="#333" stroke-width="0.5"/>
<line x1="184.2" y1="535.26" x2="183.2" y2="535.26" stroke="#333" stroke-width="0.5"/>
<line x1="164.36" y1="516.4" x2="164.36" y2="517.4" stroke="#333" stroke-width="0.5"/>
<line x1="164.36" y1="566.7" x2="164.36" y2="565.7" stroke="#333" stroke-width="0.5"/>
<line x1="131.3" y1="547.84" x2="132.3" y2="547.84" stroke="#333" stroke-width="0.5"/>
<line x1="184.2" y1="547.84" x2="183.2" y2="547.84" stroke="#333" stroke-width="0.5"/>
<line x1="177.59" y1="516.4" x2="177.59" y2="517.4" stroke="#333" stroke-width="0.5"/>
<line x1="177.59" y1="566.7" x2="177.59" y2="565.7" stroke="#333" stroke-width="0.5"/>
<line x1="131.3" y1="560.41" x2="132.3" y2="560.41" stroke="#333" stroke-width="0.5"/>
<line x1="184.2" y1="560.41" x2="183.2" y2="560.41" stroke="#333" stroke-width="0.5"/>
<text x="164.36" y="525.29" font-size="7.6" text-anchor="middle" fill="#e8282a" stroke="#e8282a" stroke-width="0.1" font-weight="bold">#</text>
<polygon points="137.91,545.24 138.55,546.95 140.39,547.03 138.95,548.17 139.44,549.94 137.91,548.93 136.38,549.94 136.87,548.17 135.44,547.03 137.27,546.95" fill="#e8282a"/>
<text x="129.9" y="524.99" font-size="6.6" text-anchor="end" fill="#222" stroke="#222" stroke-width="0.1">0°</text>
<text x="129.9" y="537.56" font-size="6.6" text-anchor="end" fill="#222" stroke="#222" stroke-width="0.1">90°</text>
<text x="129.9" y="550.14" font-size="6.6" text-anchor="end" fill="#222" stroke="#222" stroke-width="0.1">180°</text>
<text x="129.9" y="562.71" font-size="6.6" text-anchor="end" fill="#222" stroke="#222" stroke-width="0.1">270°</text>
<text x="115.4" y="541.55" font-size="6.6" text-anchor="middle" fill="#222" stroke="#222" stroke-width="0.1" transform="rotate(-90 115.4 541.55)">First BMR</text>
<text x="139.71" y="571.1" font-size="6.6" text-anchor="end" fill="#222" stroke="#222" stroke-width="0.1" transform="rotate(-42 139.71 571.1)">0°</text>
<text x="152.94" y="571.1" font-size="6.6" text-anchor="end" fill="#222" stroke="#222" stroke-width="0.1" transform="rotate(-42 152.94 571.1)">90°</text>
<text x="166.16" y="571.1" font-size="6.6" text-anchor="end" fill="#222" stroke="#222" stroke-width="0.1" transform="rotate(-42 166.16 571.1)">180°</text>
<text x="179.39" y="571.1" font-size="6.6" text-anchor="end" fill="#222" stroke="#222" stroke-width="0.1" transform="rotate(-42 179.39 571.1)">270°</text>
<text x="158.95" y="585.1" font-size="6.6" text-anchor="middle" fill="#222" stroke="#222" stroke-width="0.1">Second BMR</text>
<line x1="187.4" y1="516.4" x2="187.4" y2="566.7" stroke="#8a8a8a" stroke-width="0.6"/>
<line x1="187.4" y1="566.7" x2="209.9" y2="566.7" stroke="#8a8a8a" stroke-width="0.6"/>
<line x1="187.4" y1="566.7" x2="187.4" y2="565.7" stroke="#666" stroke-width="0.5"/>
<line x1="194.85" y1="566.7" x2="194.85" y2="565.7" stroke="#666" stroke-width="0.5"/>
<line x1="202.3" y1="566.7" x2="202.3" y2="565.7" stroke="#666" stroke-width="0.5"/>
<line x1="209.75" y1="566.7" x2="209.75" y2="565.7" stroke="#666" stroke-width="0.5"/>
<rect x="187.4" y="520.09" width="15.3" height="7.2" fill="#0a6fb8" stroke="#1a3a5a" stroke-width="0.4"/>
<rect x="187.4" y="532.66" width="0.8" height="7.2" fill="#0a6fb8" stroke="#1a3a5a" stroke-width="0.4"/>
<rect x="187.4" y="545.24" width="16.1" height="7.2" fill="#0a6fb8" stroke="#1a3a5a" stroke-width="0.4"/>
<rect x="187.4" y="557.81" width="4.3" height="7.2" fill="#0a6fb8" stroke="#1a3a5a" stroke-width="0.4"/>
<text x="189.6" y="573.7" font-size="6.6" text-anchor="middle" fill="#222" stroke="#222" stroke-width="0.1">0</text>
<text x="210.2" y="573.7" font-size="6.6" text-anchor="middle" fill="#222" stroke="#222" stroke-width="0.1">60%</text>
<text x="50.05" y="600.9" font-size="6.6" text-anchor="middle" fill="#111" stroke="#111" stroke-width="0.1">FS Within</text>
<rect x="23.3" y="617.5" width="50.5" height="5.8" fill="url(#cbar)" stroke="#222" stroke-width="0.5"/>
<text x="27.17" y="615.9" font-size="6.4" text-anchor="start" fill="#222" stroke="#222" stroke-width="0.1" transform="rotate(-90 27.17 615.9)">0.2</text>
<text x="39.08" y="615.9" font-size="6.4" text-anchor="start" fill="#222" stroke="#222" stroke-width="0.1" transform="rotate(-90 39.08 615.9)">0.15</text>
<text x="50.98" y="615.9" font-size="6.4" text-anchor="start" fill="#222" stroke="#222" stroke-width="0.1" transform="rotate(-90 50.98 615.9)">0.1</text>
<text x="62.89" y="615.9" font-size="6.4" text-anchor="start" fill="#222" stroke="#222" stroke-width="0.1" transform="rotate(-90 62.89 615.9)">0.05</text>
<text x="74.8" y="615.9" font-size="6.4" text-anchor="start" fill="#222" stroke="#222" stroke-width="0.1" transform="rotate(-90 74.8 615.9)">0</text>
<rect x="23.3" y="627.4" width="13.28" height="12.62" fill="#ffffff" stroke="none" stroke-width="1"/>
<rect x="36.52" y="627.4" width="13.28" height="12.62" fill="#f9f50c" stroke="none" stroke-width="1"/>
<rect x="49.75" y="627.4" width="13.28" height="12.62" fill="#f9f50c" stroke="none" stroke-width="1"/>
<rect x="62.97" y="627.4" width="13.28" height="12.62" fill="#1a8cf0" stroke="none" stroke-width="1"/>
<rect x="23.3" y="639.98" width="13.28" height="12.62" fill="#4a45e0" stroke="none" stroke-width="1"/>
<rect x="36.52" y="639.98" width="13.28" height="12.62" fill="#ffffff" stroke="none" stroke-width="1"/>
<rect x="49.75" y="639.98" width="13.28" height="12.62" fill="#90c840" stroke="none" stroke-width="1"/>
<rect x="62.97" y="639.98" width="13.28" height="12.62" fill="#4030b8" stroke="none" stroke-width="1"/>
<rect x="23.3" y="652.55" width="13.28" height="12.62" fill="#2a6cf5" stroke="none" stroke-width="1"/>
<rect x="36.52" y="652.55" width="13.28" height="12.62" fill="#2cbfb0" stroke="none" stroke-width="1"/>
<rect x="49.75" y="652.55" width="13.28" height="12.62" fill="#ffffff" stroke="none" stroke-width="1"/>
<rect x="62.97" y="652.55" width="13.28" height="12.62" fill="#90c840" stroke="none" stroke-width="1"/>
<rect x="23.3" y="665.12" width="13.28" height="12.62" fill="#2a6cf5" stroke="none" stroke-width="1"/>
<rect x="36.52" y="665.12" width="13.28" height="12.62" fill="#4030b8" stroke="none" stroke-width="1"/>
<rect x="49.75" y="665.12" width="13.28" height="12.62" fill="#4848f0" stroke="none" stroke-width="1"/>
<rect x="62.97" y="665.12" width="13.28" height="12.62" fill="#ffffff" stroke="none" stroke-width="1"/>
<rect x="23.3" y="627.4" width="52.9" height="50.3" fill="none" stroke="#111" stroke-width="0.9"/>
<line x1="29.91" y1="627.4" x2="29.91" y2="628.4" stroke="#333" stroke-width="0.5"/>
<line x1="29.91" y1="677.7" x2="29.91" y2="676.7" stroke="#333" stroke-width="0.5"/>
<line x1="23.3" y1="633.69" x2="24.3" y2="633.69" stroke="#333" stroke-width="0.5"/>
<line x1="76.2" y1="633.69" x2="75.2" y2="633.69" stroke="#333" stroke-width="0.5"/>
<line x1="43.14" y1="627.4" x2="43.14" y2="628.4" stroke="#333" stroke-width="0.5"/>
<line x1="43.14" y1="677.7" x2="43.14" y2="676.7" stroke="#333" stroke-width="0.5"/>
<line x1="23.3" y1="646.26" x2="24.3" y2="646.26" stroke="#333" stroke-width="0.5"/>
<line x1="76.2" y1="646.26" x2="75.2" y2="646.26" stroke="#333" stroke-width="0.5"/>
<line x1="56.36" y1="627.4" x2="56.36" y2="628.4" stroke="#333" stroke-width="0.5"/>
<line x1="56.36" y1="677.7" x2="56.36" y2="676.7" stroke="#333" stroke-width="0.5"/>
<line x1="23.3" y1="658.84" x2="24.3" y2="658.84" stroke="#333" stroke-width="0.5"/>
<line x1="76.2" y1="658.84" x2="75.2" y2="658.84" stroke="#333" stroke-width="0.5"/>
<line x1="69.59" y1="627.4" x2="69.59" y2="628.4" stroke="#333" stroke-width="0.5"/>
<line x1="69.59" y1="677.7" x2="69.59" y2="676.7" stroke="#333" stroke-width="0.5"/>
<line x1="23.3" y1="671.41" x2="24.3" y2="671.41" stroke="#333" stroke-width="0.5"/>
<line x1="76.2" y1="671.41" x2="75.2" y2="671.41" stroke="#333" stroke-width="0.5"/>
<polygon points="43.14,631.09 43.78,632.8 45.61,632.88 44.18,634.02 44.67,635.79 43.14,634.78 41.61,635.79 42.1,634.02 40.66,632.88 42.5,632.8" fill="#e8282a"/>
<text x="21.9" y="635.99" font-size="6.6" text-anchor="end" fill="#222" stroke="#222" stroke-width="0.1">0°</text>
<text x="21.9" y="648.56" font-size="6.6" text-anchor="end" fill="#222" stroke="#222" stroke-width="0.1">90°</text>
<text x="21.9" y="661.14" font-size="6.6" text-anchor="end" fill="#222" stroke="#222" stroke-width="0.1">180°</text>
<text x="21.9" y="673.71" font-size="6.6" text-anchor="end" fill="#222" stroke="#222" stroke-width="0.1">270°</text>
<text x="7.4" y="652.55" font-size="6.6" text-anchor="middle" fill="#222" stroke="#222" stroke-width="0.1" transform="rotate(-90 7.4 652.55)">First BMR</text>
<text x="31.71" y="682.1" font-size="6.6" text-anchor="end" fill="#222" stroke="#222" stroke-width="0.1" transform="rotate(-42 31.71 682.1)">0°</text>
<text x="44.94" y="682.1" font-size="6.6" text-anchor="end" fill="#222" stroke="#222" stroke-width="0.1" transform="rotate(-42 44.94 682.1)">90°</text>
<text x="58.16" y="682.1" font-size="6.6" text-anchor="end" fill="#222" stroke="#222" stroke-width="0.1" transform="rotate(-42 58.16 682.1)">180°</text>
<text x="71.39" y="682.1" font-size="6.6" text-anchor="end" fill="#222" stroke="#222" stroke-width="0.1" transform="rotate(-42 71.39 682.1)">270°</text>
<text x="50.95" y="696.1" font-size="6.6" text-anchor="middle" fill="#222" stroke="#222" stroke-width="0.1">Second BMR</text>
<line x1="79.4" y1="627.4" x2="79.4" y2="677.7" stroke="#8a8a8a" stroke-width="0.6"/>
<line x1="79.4" y1="677.7" x2="101.9" y2="677.7" stroke="#8a8a8a" stroke-width="0.6"/>
<line x1="79.4" y1="677.7" x2="79.4" y2="676.7" stroke="#666" stroke-width="0.5"/>
<line x1="86.85" y1="677.7" x2="86.85" y2="676.7" stroke="#666" stroke-width="0.5"/>
<line x1="94.3" y1="677.7" x2="94.3" y2="676.7" stroke="#666" stroke-width="0.5"/>
<line x1="101.75" y1="677.7" x2="101.75" y2="676.7" stroke="#666" stroke-width="0.5"/>
<rect x="79.4" y="631.09" width="17.8" height="7.2" fill="#0a6fb8" stroke="#1a3a5a" stroke-width="0.4"/>
<rect x="79.4" y="643.66" width="6.1" height="7.2" fill="#0a6fb8" stroke="#1a3a5a" stroke-width="0.4"/>
<rect x="79.4" y="656.24" width="10.7" height="7.2" fill="#0a6fb8" stroke="#1a3a5a" stroke-width="0.4"/>
<rect x="79.4" y="668.81" width="2.6" height="7.2" fill="#0a6fb8" stroke="#1a3a5a" stroke-width="0.4"/>
<text x="81.6" y="684.7" font-size="6.6" text-anchor="middle" fill="#222" stroke="#222" stroke-width="0.1">0</text>
<text x="102.2" y="684.7" font-size="6.6" text-anchor="middle" fill="#222" stroke="#222" stroke-width="0.1">60%</text>
<text x="158.05" y="601" font-size="6.6" text-anchor="middle" fill="#111" stroke="#111" stroke-width="0.1">FS Across</text>
<rect x="131.3" y="617.6" width="50.5" height="5.8" fill="url(#cbar)" stroke="#222" stroke-width="0.5"/>
<text x="136.58" y="616" font-size="6.4" text-anchor="start" fill="#222" stroke="#222" stroke-width="0.1" transform="rotate(-90 136.58 616)">0.12</text>
<text x="144.28" y="616" font-size="6.4" text-anchor="start" fill="#222" stroke="#222" stroke-width="0.1" transform="rotate(-90 144.28 616)">0.1</text>
<text x="151.99" y="616" font-size="6.4" text-anchor="start" fill="#222" stroke="#222" stroke-width="0.1" transform="rotate(-90 151.99 616)">0.08</text>
<text x="159.69" y="616" font-size="6.4" text-anchor="start" fill="#222" stroke="#222" stroke-width="0.1" transform="rotate(-90 159.69 616)">0.06</text>
<text x="167.39" y="616" font-size="6.4" text-anchor="start" fill="#222" stroke="#222" stroke-width="0.1" transform="rotate(-90 167.39 616)">0.04</text>
<text x="175.1" y="616" font-size="6.4" text-anchor="start" fill="#222" stroke="#222" stroke-width="0.1" transform="rotate(-90 175.1 616)">0.02</text>
<text x="182.8" y="616" font-size="6.4" text-anchor="start" fill="#222" stroke="#222" stroke-width="0.1" transform="rotate(-90 182.8 616)">0</text>
<rect x="131.3" y="627.5" width="13.28" height="12.62" fill="#ffffff" stroke="none" stroke-width="1"/>
<rect x="144.53" y="627.5" width="13.28" height="12.62" fill="#f0e010" stroke="none" stroke-width="1"/>
<rect x="157.75" y="627.5" width="13.28" height="12.62" fill="#3f2eb0" stroke="none" stroke-width="1"/>
<rect x="170.98" y="627.5" width="13.28" height="12.62" fill="#2ec87a" stroke="none" stroke-width="1"/>
<rect x="131.3" y="640.08" width="13.28" height="12.62" fill="#2ec88a" stroke="none" stroke-width="1"/>
<rect x="144.53" y="640.08" width="13.28" height="12.62" fill="#ffffff" stroke="none" stroke-width="1"/>
<rect x="157.75" y="640.08" width="13.28" height="12.62" fill="#f9f50c" stroke="none" stroke-width="1"/>
<rect x="170.98" y="640.08" width="13.28" height="12.62" fill="#4848f0" stroke="none" stroke-width="1"/>
<rect x="131.3" y="652.65" width="13.28" height="12.62" fill="#1a7af5" stroke="none" stroke-width="1"/>
<rect x="144.53" y="652.65" width="13.28" height="12.62" fill="#a0b830" stroke="none" stroke-width="1"/>
<rect x="157.75" y="652.65" width="13.28" height="12.62" fill="#ffffff" stroke="none" stroke-width="1"/>
<rect x="170.98" y="652.65" width="13.28" height="12.62" fill="#10c0c0" stroke="none" stroke-width="1"/>
<rect x="131.3" y="665.23" width="13.28" height="12.62" fill="#f9f50c" stroke="none" stroke-width="1"/>
<rect x="144.53" y="665.23" width="13.28" height="12.62" fill="#f9f50c" stroke="none" stroke-width="1"/>
<rect x="157.75" y="665.23" width="13.28" height="12.62" fill="#f9f50c" stroke="none" stroke-width="1"/>
<rect x="170.98" y="665.23" width="13.28" height="12.62" fill="#ffffff" stroke="none" stroke-width="1"/>
<rect x="131.3" y="627.5" width="52.9" height="50.3" fill="none" stroke="#111" stroke-width="0.9"/>
<line x1="137.91" y1="627.5" x2="137.91" y2="628.5" stroke="#333" stroke-width="0.5"/>
<line x1="137.91" y1="677.8" x2="137.91" y2="676.8" stroke="#333" stroke-width="0.5"/>
<line x1="131.3" y1="633.79" x2="132.3" y2="633.79" stroke="#333" stroke-width="0.5"/>
<line x1="184.2" y1="633.79" x2="183.2" y2="633.79" stroke="#333" stroke-width="0.5"/>
<line x1="151.14" y1="627.5" x2="151.14" y2="628.5" stroke="#333" stroke-width="0.5"/>
<line x1="151.14" y1="677.8" x2="151.14" y2="676.8" stroke="#333" stroke-width="0.5"/>
<line x1="131.3" y1="646.36" x2="132.3" y2="646.36" stroke="#333" stroke-width="0.5"/>
<line x1="184.2" y1="646.36" x2="183.2" y2="646.36" stroke="#333" stroke-width="0.5"/>
<line x1="164.36" y1="627.5" x2="164.36" y2="628.5" stroke="#333" stroke-width="0.5"/>
<line x1="164.36" y1="677.8" x2="164.36" y2="676.8" stroke="#333" stroke-width="0.5"/>
<line x1="131.3" y1="658.94" x2="132.3" y2="658.94" stroke="#333" stroke-width="0.5"/>
<line x1="184.2" y1="658.94" x2="183.2" y2="658.94" stroke="#333" stroke-width="0.5"/>
<line x1="177.59" y1="627.5" x2="177.59" y2="628.5" stroke="#333" stroke-width="0.5"/>
<line x1="177.59" y1="677.8" x2="177.59" y2="676.8" stroke="#333" stroke-width="0.5"/>
<line x1="131.3" y1="671.51" x2="132.3" y2="671.51" stroke="#333" stroke-width="0.5"/>
<line x1="184.2" y1="671.51" x2="183.2" y2="671.51" stroke="#333" stroke-width="0.5"/>
<text x="129.9" y="636.09" font-size="6.6" text-anchor="end" fill="#222" stroke="#222" stroke-width="0.1">0°</text>
<text x="129.9" y="648.66" font-size="6.6" text-anchor="end" fill="#222" stroke="#222" stroke-width="0.1">90°</text>
<text x="129.9" y="661.24" font-size="6.6" text-anchor="end" fill="#222" stroke="#222" stroke-width="0.1">180°</text>
<text x="129.9" y="673.81" font-size="6.6" text-anchor="end" fill="#222" stroke="#222" stroke-width="0.1">270°</text>
<text x="115.4" y="652.65" font-size="6.6" text-anchor="middle" fill="#222" stroke="#222" stroke-width="0.1" transform="rotate(-90 115.4 652.65)">First BMR</text>
<text x="139.71" y="682.2" font-size="6.6" text-anchor="end" fill="#222" stroke="#222" stroke-width="0.1" transform="rotate(-42 139.71 682.2)">0°</text>
<text x="152.94" y="682.2" font-size="6.6" text-anchor="end" fill="#222" stroke="#222" stroke-width="0.1" transform="rotate(-42 152.94 682.2)">90°</text>
<text x="166.16" y="682.2" font-size="6.6" text-anchor="end" fill="#222" stroke="#222" stroke-width="0.1" transform="rotate(-42 166.16 682.2)">180°</text>
<text x="179.39" y="682.2" font-size="6.6" text-anchor="end" fill="#222" stroke="#222" stroke-width="0.1" transform="rotate(-42 179.39 682.2)">270°</text>
<text x="158.95" y="696.2" font-size="6.6" text-anchor="middle" fill="#222" stroke="#222" stroke-width="0.1">Second BMR</text>
<line x1="187.4" y1="627.5" x2="187.4" y2="677.8" stroke="#8a8a8a" stroke-width="0.6"/>
<line x1="187.4" y1="677.8" x2="209.9" y2="677.8" stroke="#8a8a8a" stroke-width="0.6"/>
<line x1="187.4" y1="677.8" x2="187.4" y2="676.8" stroke="#666" stroke-width="0.5"/>
<line x1="194.85" y1="677.8" x2="194.85" y2="676.8" stroke="#666" stroke-width="0.5"/>
<line x1="202.3" y1="677.8" x2="202.3" y2="676.8" stroke="#666" stroke-width="0.5"/>
<line x1="209.75" y1="677.8" x2="209.75" y2="676.8" stroke="#666" stroke-width="0.5"/>
<rect x="187.4" y="631.19" width="7.2" height="7.2" fill="#0a6fb8" stroke="#1a3a5a" stroke-width="0.4"/>
<rect x="187.4" y="643.76" width="7.8" height="7.2" fill="#0a6fb8" stroke="#1a3a5a" stroke-width="0.4"/>
<rect x="187.4" y="656.34" width="6.6" height="7.2" fill="#0a6fb8" stroke="#1a3a5a" stroke-width="0.4"/>
<rect x="187.4" y="668.91" width="14.2" height="7.2" fill="#0a6fb8" stroke="#1a3a5a" stroke-width="0.4"/>
<text x="189.6" y="684.8" font-size="6.6" text-anchor="middle" fill="#222" stroke="#222" stroke-width="0.1">0</text>
<text x="210.2" y="684.8" font-size="6.6" text-anchor="middle" fill="#222" stroke="#222" stroke-width="0.1">60%</text>
<text x="281.95" y="490.6" font-size="7.3" text-anchor="middle" fill="#111" stroke="#111" stroke-width="0.1">FI Within</text>
<rect x="255.2" y="508" width="50.5" height="5.5" fill="url(#cbar)" stroke="#222" stroke-width="0.5"/>
<text x="268.97" y="506.4" font-size="6.4" text-anchor="start" fill="#222" stroke="#222" stroke-width="0.1" transform="rotate(-90 268.97 506.4)">0.15</text>
<text x="281.55" y="506.4" font-size="6.4" text-anchor="start" fill="#222" stroke="#222" stroke-width="0.1" transform="rotate(-90 281.55 506.4)">0.1</text>
<text x="294.12" y="506.4" font-size="6.4" text-anchor="start" fill="#222" stroke="#222" stroke-width="0.1" transform="rotate(-90 294.12 506.4)">0.05</text>
<text x="306.7" y="506.4" font-size="6.4" text-anchor="start" fill="#222" stroke="#222" stroke-width="0.1" transform="rotate(-90 306.7 506.4)">0</text>
<rect x="255.2" y="516.2" width="13.28" height="12.62" fill="#ffffff" stroke="none" stroke-width="1"/>
<rect x="268.43" y="516.2" width="13.28" height="12.62" fill="#f8e818" stroke="none" stroke-width="1"/>
<rect x="281.65" y="516.2" width="13.28" height="12.62" fill="#f8e818" stroke="none" stroke-width="1"/>
<rect x="294.88" y="516.2" width="13.28" height="12.62" fill="#f5b830" stroke="none" stroke-width="1"/>
<rect x="255.2" y="528.78" width="13.28" height="12.62" fill="#2c6ef5" stroke="none" stroke-width="1"/>
<rect x="268.43" y="528.78" width="13.28" height="12.62" fill="#ffffff" stroke="none" stroke-width="1"/>
<rect x="281.65" y="528.78" width="13.28" height="12.62" fill="#3f5af0" stroke="none" stroke-width="1"/>
<rect x="294.88" y="528.78" width="13.28" height="12.62" fill="#4540d8" stroke="none" stroke-width="1"/>
<rect x="255.2" y="541.35" width="13.28" height="12.62" fill="#f5d828" stroke="none" stroke-width="1"/>
<rect x="268.43" y="541.35" width="13.28" height="12.62" fill="#3c6af5" stroke="none" stroke-width="1"/>
<rect x="281.65" y="541.35" width="13.28" height="12.62" fill="#ffffff" stroke="none" stroke-width="1"/>
<rect x="294.88" y="541.35" width="13.28" height="12.62" fill="#1ea5e0" stroke="none" stroke-width="1"/>
<rect x="255.2" y="553.93" width="13.28" height="12.62" fill="#1a80f0" stroke="none" stroke-width="1"/>
<rect x="268.43" y="553.93" width="13.28" height="12.62" fill="#4030b0" stroke="none" stroke-width="1"/>
<rect x="281.65" y="553.93" width="13.28" height="12.62" fill="#4545e0" stroke="none" stroke-width="1"/>
<rect x="294.88" y="553.93" width="13.28" height="12.62" fill="#ffffff" stroke="none" stroke-width="1"/>
<rect x="255.2" y="516.2" width="52.9" height="50.3" fill="none" stroke="#111" stroke-width="0.9"/>
<line x1="261.81" y1="516.2" x2="261.81" y2="517.2" stroke="#333" stroke-width="0.5"/>
<line x1="261.81" y1="566.5" x2="261.81" y2="565.5" stroke="#333" stroke-width="0.5"/>
<line x1="255.2" y1="522.49" x2="256.2" y2="522.49" stroke="#333" stroke-width="0.5"/>
<line x1="308.1" y1="522.49" x2="307.1" y2="522.49" stroke="#333" stroke-width="0.5"/>
<line x1="275.04" y1="516.2" x2="275.04" y2="517.2" stroke="#333" stroke-width="0.5"/>
<line x1="275.04" y1="566.5" x2="275.04" y2="565.5" stroke="#333" stroke-width="0.5"/>
<line x1="255.2" y1="535.06" x2="256.2" y2="535.06" stroke="#333" stroke-width="0.5"/>
<line x1="308.1" y1="535.06" x2="307.1" y2="535.06" stroke="#333" stroke-width="0.5"/>
<line x1="288.26" y1="516.2" x2="288.26" y2="517.2" stroke="#333" stroke-width="0.5"/>
<line x1="288.26" y1="566.5" x2="288.26" y2="565.5" stroke="#333" stroke-width="0.5"/>
<line x1="255.2" y1="547.64" x2="256.2" y2="547.64" stroke="#333" stroke-width="0.5"/>
<line x1="308.1" y1="547.64" x2="307.1" y2="547.64" stroke="#333" stroke-width="0.5"/>
<line x1="301.49" y1="516.2" x2="301.49" y2="517.2" stroke="#333" stroke-width="0.5"/>
<line x1="301.49" y1="566.5" x2="301.49" y2="565.5" stroke="#333" stroke-width="0.5"/>
<line x1="255.2" y1="560.21" x2="256.2" y2="560.21" stroke="#333" stroke-width="0.5"/>
<line x1="308.1" y1="560.21" x2="307.1" y2="560.21" stroke="#333" stroke-width="0.5"/>
<text x="288.26" y="525.09" font-size="7.6" text-anchor="middle" fill="#e8282a" stroke="#e8282a" stroke-width="0.1" font-weight="bold">#</text>
<polygon points="261.81,545.04 262.45,546.75 264.29,546.83 262.85,547.97 263.34,549.74 261.81,548.73 260.28,549.74 260.77,547.97 259.34,546.83 261.17,546.75" fill="#e8282a"/>
<text x="253.8" y="524.79" font-size="6.6" text-anchor="end" fill="#222" stroke="#222" stroke-width="0.1">0°</text>
<text x="253.8" y="537.36" font-size="6.6" text-anchor="end" fill="#222" stroke="#222" stroke-width="0.1">90°</text>
<text x="253.8" y="549.94" font-size="6.6" text-anchor="end" fill="#222" stroke="#222" stroke-width="0.1">180°</text>
<text x="253.8" y="562.51" font-size="6.6" text-anchor="end" fill="#222" stroke="#222" stroke-width="0.1">270°</text>
<text x="239.3" y="541.35" font-size="6.6" text-anchor="middle" fill="#222" stroke="#222" stroke-width="0.1" transform="rotate(-90 239.3 541.35)">First BMR</text>
<text x="263.61" y="570.9" font-size="6.6" text-anchor="end" fill="#222" stroke="#222" stroke-width="0.1" transform="rotate(-42 263.61 570.9)">0°</text>
<text x="276.84" y="570.9" font-size="6.6" text-anchor="end" fill="#222" stroke="#222" stroke-width="0.1" transform="rotate(-42 276.84 570.9)">90°</text>
<text x="290.06" y="570.9" font-size="6.6" text-anchor="end" fill="#222" stroke="#222" stroke-width="0.1" transform="rotate(-42 290.06 570.9)">180°</text>
<text x="303.29" y="570.9" font-size="6.6" text-anchor="end" fill="#222" stroke="#222" stroke-width="0.1" transform="rotate(-42 303.29 570.9)">270°</text>
<text x="282.85" y="584.9" font-size="6.6" text-anchor="middle" fill="#222" stroke="#222" stroke-width="0.1">Second BMR</text>
<line x1="311.3" y1="516.2" x2="311.3" y2="566.5" stroke="#8a8a8a" stroke-width="0.6"/>
<line x1="311.3" y1="566.5" x2="333.8" y2="566.5" stroke="#8a8a8a" stroke-width="0.6"/>
<line x1="311.3" y1="566.5" x2="311.3" y2="565.5" stroke="#666" stroke-width="0.5"/>
<line x1="318.75" y1="566.5" x2="318.75" y2="565.5" stroke="#666" stroke-width="0.5"/>
<line x1="326.2" y1="566.5" x2="326.2" y2="565.5" stroke="#666" stroke-width="0.5"/>
<line x1="333.65" y1="566.5" x2="333.65" y2="565.5" stroke="#666" stroke-width="0.5"/>
<rect x="311.3" y="519.89" width="19.7" height="7.2" fill="#0a6fb8" stroke="#1a3a5a" stroke-width="0.4"/>
<rect x="311.3" y="532.46" width="3.4" height="7.2" fill="#0a6fb8" stroke="#1a3a5a" stroke-width="0.4"/>
<rect x="311.3" y="545.04" width="10.6" height="7.2" fill="#0a6fb8" stroke="#1a3a5a" stroke-width="0.4"/>
<rect x="311.3" y="557.61" width="2.7" height="7.2" fill="#0a6fb8" stroke="#1a3a5a" stroke-width="0.4"/>
<text x="313.5" y="573.5" font-size="6.6" text-anchor="middle" fill="#222" stroke="#222" stroke-width="0.1">0</text>
<text x="334.1" y="573.5" font-size="6.6" text-anchor="middle" fill="#222" stroke="#222" stroke-width="0.1">60%</text>
<text x="395.35" y="490.7" font-size="7.3" text-anchor="middle" fill="#111" stroke="#111" stroke-width="0.1">FI Across</text>
<rect x="368.6" y="508.1" width="50.5" height="5.5" fill="url(#cbar)" stroke="#222" stroke-width="0.5"/>
<text x="379.02" y="506.5" font-size="6.4" text-anchor="start" fill="#222" stroke="#222" stroke-width="0.1" transform="rotate(-90 379.02 506.5)">0.2</text>
<text x="389.29" y="506.5" font-size="6.4" text-anchor="start" fill="#222" stroke="#222" stroke-width="0.1" transform="rotate(-90 389.29 506.5)">0.15</text>
<text x="399.56" y="506.5" font-size="6.4" text-anchor="start" fill="#222" stroke="#222" stroke-width="0.1" transform="rotate(-90 399.56 506.5)">0.1</text>
<text x="409.83" y="506.5" font-size="6.4" text-anchor="start" fill="#222" stroke="#222" stroke-width="0.1" transform="rotate(-90 409.83 506.5)">0.05</text>
<text x="420.1" y="506.5" font-size="6.4" text-anchor="start" fill="#222" stroke="#222" stroke-width="0.1" transform="rotate(-90 420.1 506.5)">0</text>
<rect x="368.6" y="516.3" width="13.28" height="12.62" fill="#ffffff" stroke="none" stroke-width="1"/>
<rect x="381.83" y="516.3" width="13.28" height="12.62" fill="#1ea0e0" stroke="none" stroke-width="1"/>
<rect x="395.05" y="516.3" width="13.28" height="12.62" fill="#f9f60c" stroke="none" stroke-width="1"/>
<rect x="408.28" y="516.3" width="13.28" height="12.62" fill="#18b0c8" stroke="none" stroke-width="1"/>
<rect x="368.6" y="528.88" width="13.28" height="12.62" fill="#1a80f5" stroke="none" stroke-width="1"/>
<rect x="381.83" y="528.88" width="13.28" height="12.62" fill="#ffffff" stroke="none" stroke-width="1"/>
<rect x="395.05" y="528.88" width="13.28" height="12.62" fill="#4848e0" stroke="none" stroke-width="1"/>
<rect x="408.28" y="528.88" width="13.28" height="12.62" fill="#4848e0" stroke="none" stroke-width="1"/>
<rect x="368.6" y="541.45" width="13.28" height="12.62" fill="#d8b818" stroke="none" stroke-width="1"/>
<rect x="381.83" y="541.45" width="13.28" height="12.62" fill="#1a90f0" stroke="none" stroke-width="1"/>
<rect x="395.05" y="541.45" width="13.28" height="12.62" fill="#ffffff" stroke="none" stroke-width="1"/>
<rect x="408.28" y="541.45" width="13.28" height="12.62" fill="#20b8c0" stroke="none" stroke-width="1"/>
<rect x="368.6" y="554.02" width="13.28" height="12.62" fill="#4848e8" stroke="none" stroke-width="1"/>
<rect x="381.83" y="554.02" width="13.28" height="12.62" fill="#4030b8" stroke="none" stroke-width="1"/>
<rect x="395.05" y="554.02" width="13.28" height="12.62" fill="#1a80f5" stroke="none" stroke-width="1"/>
<rect x="408.28" y="554.02" width="13.28" height="12.62" fill="#ffffff" stroke="none" stroke-width="1"/>
<rect x="368.6" y="516.3" width="52.9" height="50.3" fill="none" stroke="#111" stroke-width="0.9"/>
<line x1="375.21" y1="516.3" x2="375.21" y2="517.3" stroke="#333" stroke-width="0.5"/>
<line x1="375.21" y1="566.6" x2="375.21" y2="565.6" stroke="#333" stroke-width="0.5"/>
<line x1="368.6" y1="522.59" x2="369.6" y2="522.59" stroke="#333" stroke-width="0.5"/>
<line x1="421.5" y1="522.59" x2="420.5" y2="522.59" stroke="#333" stroke-width="0.5"/>
<line x1="388.44" y1="516.3" x2="388.44" y2="517.3" stroke="#333" stroke-width="0.5"/>
<line x1="388.44" y1="566.6" x2="388.44" y2="565.6" stroke="#333" stroke-width="0.5"/>
<line x1="368.6" y1="535.16" x2="369.6" y2="535.16" stroke="#333" stroke-width="0.5"/>
<line x1="421.5" y1="535.16" x2="420.5" y2="535.16" stroke="#333" stroke-width="0.5"/>
<line x1="401.66" y1="516.3" x2="401.66" y2="517.3" stroke="#333" stroke-width="0.5"/>
<line x1="401.66" y1="566.6" x2="401.66" y2="565.6" stroke="#333" stroke-width="0.5"/>
<line x1="368.6" y1="547.74" x2="369.6" y2="547.74" stroke="#333" stroke-width="0.5"/>
<line x1="421.5" y1="547.74" x2="420.5" y2="547.74" stroke="#333" stroke-width="0.5"/>
<line x1="414.89" y1="516.3" x2="414.89" y2="517.3" stroke="#333" stroke-width="0.5"/>
<line x1="414.89" y1="566.6" x2="414.89" y2="565.6" stroke="#333" stroke-width="0.5"/>
<line x1="368.6" y1="560.31" x2="369.6" y2="560.31" stroke="#333" stroke-width="0.5"/>
<line x1="421.5" y1="560.31" x2="420.5" y2="560.31" stroke="#333" stroke-width="0.5"/>
<polygon points="401.66,519.99 402.3,521.7 404.14,521.78 402.7,522.92 403.19,524.69 401.66,523.68 400.13,524.69 400.62,522.92 399.19,521.78 401.02,521.7" fill="#e8282a"/>
<text x="375.21" y="550.34" font-size="7.6" text-anchor="middle" fill="#e8282a" stroke="#e8282a" stroke-width="0.1" font-weight="bold">#</text>
<text x="367.2" y="524.89" font-size="6.6" text-anchor="end" fill="#222" stroke="#222" stroke-width="0.1">0°</text>
<text x="367.2" y="537.46" font-size="6.6" text-anchor="end" fill="#222" stroke="#222" stroke-width="0.1">90°</text>
<text x="367.2" y="550.04" font-size="6.6" text-anchor="end" fill="#222" stroke="#222" stroke-width="0.1">180°</text>
<text x="367.2" y="562.61" font-size="6.6" text-anchor="end" fill="#222" stroke="#222" stroke-width="0.1">270°</text>
<text x="352.7" y="541.45" font-size="6.6" text-anchor="middle" fill="#222" stroke="#222" stroke-width="0.1" transform="rotate(-90 352.7 541.45)">First BMR</text>
<text x="377.01" y="571" font-size="6.6" text-anchor="end" fill="#222" stroke="#222" stroke-width="0.1" transform="rotate(-42 377.01 571)">0°</text>
<text x="390.24" y="571" font-size="6.6" text-anchor="end" fill="#222" stroke="#222" stroke-width="0.1" transform="rotate(-42 390.24 571)">90°</text>
<text x="403.46" y="571" font-size="6.6" text-anchor="end" fill="#222" stroke="#222" stroke-width="0.1" transform="rotate(-42 403.46 571)">180°</text>
<text x="416.69" y="571" font-size="6.6" text-anchor="end" fill="#222" stroke="#222" stroke-width="0.1" transform="rotate(-42 416.69 571)">270°</text>
<text x="396.25" y="585" font-size="6.6" text-anchor="middle" fill="#222" stroke="#222" stroke-width="0.1">Second BMR</text>
<line x1="424.7" y1="516.3" x2="424.7" y2="566.6" stroke="#8a8a8a" stroke-width="0.6"/>
<line x1="424.7" y1="566.6" x2="447.2" y2="566.6" stroke="#8a8a8a" stroke-width="0.6"/>
<line x1="424.7" y1="566.6" x2="424.7" y2="565.6" stroke="#666" stroke-width="0.5"/>
<line x1="432.15" y1="566.6" x2="432.15" y2="565.6" stroke="#666" stroke-width="0.5"/>
<line x1="439.6" y1="566.6" x2="439.6" y2="565.6" stroke="#666" stroke-width="0.5"/>
<line x1="447.05" y1="566.6" x2="447.05" y2="565.6" stroke="#666" stroke-width="0.5"/>
<rect x="424.7" y="519.99" width="15.9" height="7.2" fill="#0a6fb8" stroke="#1a3a5a" stroke-width="0.4"/>
<rect x="424.7" y="532.56" width="3.5" height="7.2" fill="#0a6fb8" stroke="#1a3a5a" stroke-width="0.4"/>
<rect x="424.7" y="545.14" width="13.1" height="7.2" fill="#0a6fb8" stroke="#1a3a5a" stroke-width="0.4"/>
<rect x="424.7" y="557.71" width="2.6" height="7.2" fill="#0a6fb8" stroke="#1a3a5a" stroke-width="0.4"/>
<text x="426.9" y="573.6" font-size="6.6" text-anchor="middle" fill="#222" stroke="#222" stroke-width="0.1">0</text>
<text x="447.5" y="573.6" font-size="6.6" text-anchor="middle" fill="#222" stroke="#222" stroke-width="0.1">60%</text>
<text x="282.05" y="600.9" font-size="6.6" text-anchor="middle" fill="#111" stroke="#111" stroke-width="0.1">FS Within</text>
<rect x="255.3" y="617.5" width="50.5" height="5.8" fill="url(#cbar)" stroke="#222" stroke-width="0.5"/>
<text x="265.28" y="615.9" font-size="6.4" text-anchor="start" fill="#222" stroke="#222" stroke-width="0.1" transform="rotate(-90 265.28 615.9)">0.2</text>
<text x="275.66" y="615.9" font-size="6.4" text-anchor="start" fill="#222" stroke="#222" stroke-width="0.1" transform="rotate(-90 275.66 615.9)">0.15</text>
<text x="286.04" y="615.9" font-size="6.4" text-anchor="start" fill="#222" stroke="#222" stroke-width="0.1" transform="rotate(-90 286.04 615.9)">0.1</text>
<text x="296.42" y="615.9" font-size="6.4" text-anchor="start" fill="#222" stroke="#222" stroke-width="0.1" transform="rotate(-90 296.42 615.9)">0.05</text>
<text x="306.8" y="615.9" font-size="6.4" text-anchor="start" fill="#222" stroke="#222" stroke-width="0.1" transform="rotate(-90 306.8 615.9)">0</text>
<rect x="255.3" y="627.4" width="13.28" height="12.62" fill="#ffffff" stroke="none" stroke-width="1"/>
<rect x="268.53" y="627.4" width="13.28" height="12.62" fill="#18b0d0" stroke="none" stroke-width="1"/>
<rect x="281.75" y="627.4" width="13.28" height="12.62" fill="#f9f50c" stroke="none" stroke-width="1"/>
<rect x="294.98" y="627.4" width="13.28" height="12.62" fill="#40c860" stroke="none" stroke-width="1"/>
<rect x="255.3" y="639.98" width="13.28" height="12.62" fill="#4a50f0" stroke="none" stroke-width="1"/>
<rect x="268.53" y="639.98" width="13.28" height="12.62" fill="#ffffff" stroke="none" stroke-width="1"/>
<rect x="281.75" y="639.98" width="13.28" height="12.62" fill="#1a78f5" stroke="none" stroke-width="1"/>
<rect x="294.98" y="639.98" width="13.28" height="12.62" fill="#4535c8" stroke="none" stroke-width="1"/>
<rect x="255.3" y="652.55" width="13.28" height="12.62" fill="#30c870" stroke="none" stroke-width="1"/>
<rect x="268.53" y="652.55" width="13.28" height="12.62" fill="#1a98e8" stroke="none" stroke-width="1"/>
<rect x="281.75" y="652.55" width="13.28" height="12.62" fill="#ffffff" stroke="none" stroke-width="1"/>
<rect x="294.98" y="652.55" width="13.28" height="12.62" fill="#18a8e0" stroke="none" stroke-width="1"/>
<rect x="255.3" y="665.12" width="13.28" height="12.62" fill="#4030b8" stroke="none" stroke-width="1"/>
<rect x="268.53" y="665.12" width="13.28" height="12.62" fill="#4030b8" stroke="none" stroke-width="1"/>
<rect x="281.75" y="665.12" width="13.28" height="12.62" fill="#4030b8" stroke="none" stroke-width="1"/>
<rect x="294.98" y="665.12" width="13.28" height="12.62" fill="#ffffff" stroke="none" stroke-width="1"/>
<rect x="255.3" y="627.4" width="52.9" height="50.3" fill="none" stroke="#111" stroke-width="0.9"/>
<line x1="261.91" y1="627.4" x2="261.91" y2="628.4" stroke="#333" stroke-width="0.5"/>
<line x1="261.91" y1="677.7" x2="261.91" y2="676.7" stroke="#333" stroke-width="0.5"/>
<line x1="255.3" y1="633.69" x2="256.3" y2="633.69" stroke="#333" stroke-width="0.5"/>
<line x1="308.2" y1="633.69" x2="307.2" y2="633.69" stroke="#333" stroke-width="0.5"/>
<line x1="275.14" y1="627.4" x2="275.14" y2="628.4" stroke="#333" stroke-width="0.5"/>
<line x1="275.14" y1="677.7" x2="275.14" y2="676.7" stroke="#333" stroke-width="0.5"/>
<line x1="255.3" y1="646.26" x2="256.3" y2="646.26" stroke="#333" stroke-width="0.5"/>
<line x1="308.2" y1="646.26" x2="307.2" y2="646.26" stroke="#333" stroke-width="0.5"/>
<line x1="288.36" y1="627.4" x2="288.36" y2="628.4" stroke="#333" stroke-width="0.5"/>
<line x1="288.36" y1="677.7" x2="288.36" y2="676.7" stroke="#333" stroke-width="0.5"/>
<line x1="255.3" y1="658.84" x2="256.3" y2="658.84" stroke="#333" stroke-width="0.5"/>
<line x1="308.2" y1="658.84" x2="307.2" y2="658.84" stroke="#333" stroke-width="0.5"/>
<line x1="301.59" y1="627.4" x2="301.59" y2="628.4" stroke="#333" stroke-width="0.5"/>
<line x1="301.59" y1="677.7" x2="301.59" y2="676.7" stroke="#333" stroke-width="0.5"/>
<line x1="255.3" y1="671.41" x2="256.3" y2="671.41" stroke="#333" stroke-width="0.5"/>
<line x1="308.2" y1="671.41" x2="307.2" y2="671.41" stroke="#333" stroke-width="0.5"/>
<text x="288.36" y="636.29" font-size="7.6" text-anchor="middle" fill="#e8282a" stroke="#e8282a" stroke-width="0.1" font-weight="bold">#</text>
<text x="253.9" y="635.99" font-size="6.6" text-anchor="end" fill="#222" stroke="#222" stroke-width="0.1">0°</text>
<text x="253.9" y="648.56" font-size="6.6" text-anchor="end" fill="#222" stroke="#222" stroke-width="0.1">90°</text>
<text x="253.9" y="661.14" font-size="6.6" text-anchor="end" fill="#222" stroke="#222" stroke-width="0.1">180°</text>
<text x="253.9" y="673.71" font-size="6.6" text-anchor="end" fill="#222" stroke="#222" stroke-width="0.1">270°</text>
<text x="239.4" y="652.55" font-size="6.6" text-anchor="middle" fill="#222" stroke="#222" stroke-width="0.1" transform="rotate(-90 239.4 652.55)">First BMR</text>
<text x="263.71" y="682.1" font-size="6.6" text-anchor="end" fill="#222" stroke="#222" stroke-width="0.1" transform="rotate(-42 263.71 682.1)">0°</text>
<text x="276.94" y="682.1" font-size="6.6" text-anchor="end" fill="#222" stroke="#222" stroke-width="0.1" transform="rotate(-42 276.94 682.1)">90°</text>
<text x="290.16" y="682.1" font-size="6.6" text-anchor="end" fill="#222" stroke="#222" stroke-width="0.1" transform="rotate(-42 290.16 682.1)">180°</text>
<text x="303.39" y="682.1" font-size="6.6" text-anchor="end" fill="#222" stroke="#222" stroke-width="0.1" transform="rotate(-42 303.39 682.1)">270°</text>
<text x="282.95" y="696.1" font-size="6.6" text-anchor="middle" fill="#222" stroke="#222" stroke-width="0.1">Second BMR</text>
<line x1="311.4" y1="627.4" x2="311.4" y2="677.7" stroke="#8a8a8a" stroke-width="0.6"/>
<line x1="311.4" y1="677.7" x2="333.9" y2="677.7" stroke="#8a8a8a" stroke-width="0.6"/>
<line x1="311.4" y1="677.7" x2="311.4" y2="676.7" stroke="#666" stroke-width="0.5"/>
<line x1="318.85" y1="677.7" x2="318.85" y2="676.7" stroke="#666" stroke-width="0.5"/>
<line x1="326.3" y1="677.7" x2="326.3" y2="676.7" stroke="#666" stroke-width="0.5"/>
<line x1="333.75" y1="677.7" x2="333.75" y2="676.7" stroke="#666" stroke-width="0.5"/>
<rect x="311.4" y="631.09" width="18.8" height="7.2" fill="#0a6fb8" stroke="#1a3a5a" stroke-width="0.4"/>
<rect x="311.4" y="643.66" width="4.8" height="7.2" fill="#0a6fb8" stroke="#1a3a5a" stroke-width="0.4"/>
<rect x="311.4" y="656.24" width="12.3" height="7.2" fill="#0a6fb8" stroke="#1a3a5a" stroke-width="0.4"/>
<rect x="311.4" y="668.81" width="1.3" height="7.2" fill="#0a6fb8" stroke="#1a3a5a" stroke-width="0.4"/>
<text x="313.6" y="684.7" font-size="6.6" text-anchor="middle" fill="#222" stroke="#222" stroke-width="0.1">0</text>
<text x="334.2" y="684.7" font-size="6.6" text-anchor="middle" fill="#222" stroke="#222" stroke-width="0.1">60%</text>
<text x="395.35" y="600.9" font-size="6.6" text-anchor="middle" fill="#111" stroke="#111" stroke-width="0.1">FS Across</text>
<rect x="368.6" y="617.5" width="50.5" height="5.8" fill="url(#cbar)" stroke="#222" stroke-width="0.5"/>
<text x="374.34" y="615.9" font-size="6.4" text-anchor="start" fill="#222" stroke="#222" stroke-width="0.1" transform="rotate(-90 374.34 615.9)">0.15</text>
<text x="389.59" y="615.9" font-size="6.4" text-anchor="start" fill="#222" stroke="#222" stroke-width="0.1" transform="rotate(-90 389.59 615.9)">0.1</text>
<text x="404.85" y="615.9" font-size="6.4" text-anchor="start" fill="#222" stroke="#222" stroke-width="0.1" transform="rotate(-90 404.85 615.9)">0.05</text>
<text x="420.1" y="615.9" font-size="6.4" text-anchor="start" fill="#222" stroke="#222" stroke-width="0.1" transform="rotate(-90 420.1 615.9)">0</text>
<rect x="368.6" y="627.4" width="13.28" height="12.62" fill="#ffffff" stroke="none" stroke-width="1"/>
<rect x="381.83" y="627.4" width="13.28" height="12.62" fill="#d8b810" stroke="none" stroke-width="1"/>
<rect x="395.05" y="627.4" width="13.28" height="12.62" fill="#2a6af5" stroke="none" stroke-width="1"/>
<rect x="408.28" y="627.4" width="13.28" height="12.62" fill="#4030b0" stroke="none" stroke-width="1"/>
<rect x="368.6" y="639.98" width="13.28" height="12.62" fill="#f9f60c" stroke="none" stroke-width="1"/>
<rect x="381.83" y="639.98" width="13.28" height="12.62" fill="#ffffff" stroke="none" stroke-width="1"/>
<rect x="395.05" y="639.98" width="13.28" height="12.62" fill="#f8d818" stroke="none" stroke-width="1"/>
<rect x="408.28" y="639.98" width="13.28" height="12.62" fill="#1a80f5" stroke="none" stroke-width="1"/>
<rect x="368.6" y="652.55" width="13.28" height="12.62" fill="#4450f0" stroke="none" stroke-width="1"/>
<rect x="381.83" y="652.55" width="13.28" height="12.62" fill="#4545e0" stroke="none" stroke-width="1"/>
<rect x="395.05" y="652.55" width="13.28" height="12.62" fill="#ffffff" stroke="none" stroke-width="1"/>
<rect x="408.28" y="652.55" width="13.28" height="12.62" fill="#4840d8" stroke="none" stroke-width="1"/>
<rect x="368.6" y="665.12" width="13.28" height="12.62" fill="#1a98e8" stroke="none" stroke-width="1"/>
<rect x="381.83" y="665.12" width="13.28" height="12.62" fill="#20c890" stroke="none" stroke-width="1"/>
<rect x="395.05" y="665.12" width="13.28" height="12.62" fill="#f8b828" stroke="none" stroke-width="1"/>
<rect x="408.28" y="665.12" width="13.28" height="12.62" fill="#ffffff" stroke="none" stroke-width="1"/>
<rect x="368.6" y="627.4" width="52.9" height="50.3" fill="none" stroke="#111" stroke-width="0.9"/>
<line x1="375.21" y1="627.4" x2="375.21" y2="628.4" stroke="#333" stroke-width="0.5"/>
<line x1="375.21" y1="677.7" x2="375.21" y2="676.7" stroke="#333" stroke-width="0.5"/>
<line x1="368.6" y1="633.69" x2="369.6" y2="633.69" stroke="#333" stroke-width="0.5"/>
<line x1="421.5" y1="633.69" x2="420.5" y2="633.69" stroke="#333" stroke-width="0.5"/>
<line x1="388.44" y1="627.4" x2="388.44" y2="628.4" stroke="#333" stroke-width="0.5"/>
<line x1="388.44" y1="677.7" x2="388.44" y2="676.7" stroke="#333" stroke-width="0.5"/>
<line x1="368.6" y1="646.26" x2="369.6" y2="646.26" stroke="#333" stroke-width="0.5"/>
<line x1="421.5" y1="646.26" x2="420.5" y2="646.26" stroke="#333" stroke-width="0.5"/>
<line x1="401.66" y1="627.4" x2="401.66" y2="628.4" stroke="#333" stroke-width="0.5"/>
<line x1="401.66" y1="677.7" x2="401.66" y2="676.7" stroke="#333" stroke-width="0.5"/>
<line x1="368.6" y1="658.84" x2="369.6" y2="658.84" stroke="#333" stroke-width="0.5"/>
<line x1="421.5" y1="658.84" x2="420.5" y2="658.84" stroke="#333" stroke-width="0.5"/>
<line x1="414.89" y1="627.4" x2="414.89" y2="628.4" stroke="#333" stroke-width="0.5"/>
<line x1="414.89" y1="677.7" x2="414.89" y2="676.7" stroke="#333" stroke-width="0.5"/>
<line x1="368.6" y1="671.41" x2="369.6" y2="671.41" stroke="#333" stroke-width="0.5"/>
<line x1="421.5" y1="671.41" x2="420.5" y2="671.41" stroke="#333" stroke-width="0.5"/>
<text x="367.2" y="635.99" font-size="6.6" text-anchor="end" fill="#222" stroke="#222" stroke-width="0.1">0°</text>
<text x="367.2" y="648.56" font-size="6.6" text-anchor="end" fill="#222" stroke="#222" stroke-width="0.1">90°</text>
<text x="367.2" y="661.14" font-size="6.6" text-anchor="end" fill="#222" stroke="#222" stroke-width="0.1">180°</text>
<text x="367.2" y="673.71" font-size="6.6" text-anchor="end" fill="#222" stroke="#222" stroke-width="0.1">270°</text>
<text x="352.7" y="652.55" font-size="6.6" text-anchor="middle" fill="#222" stroke="#222" stroke-width="0.1" transform="rotate(-90 352.7 652.55)">First BMR</text>
<text x="377.01" y="682.1" font-size="6.6" text-anchor="end" fill="#222" stroke="#222" stroke-width="0.1" transform="rotate(-42 377.01 682.1)">0°</text>
<text x="390.24" y="682.1" font-size="6.6" text-anchor="end" fill="#222" stroke="#222" stroke-width="0.1" transform="rotate(-42 390.24 682.1)">90°</text>
<text x="403.46" y="682.1" font-size="6.6" text-anchor="end" fill="#222" stroke="#222" stroke-width="0.1" transform="rotate(-42 403.46 682.1)">180°</text>
<text x="416.69" y="682.1" font-size="6.6" text-anchor="end" fill="#222" stroke="#222" stroke-width="0.1" transform="rotate(-42 416.69 682.1)">270°</text>
<text x="396.25" y="696.1" font-size="6.6" text-anchor="middle" fill="#222" stroke="#222" stroke-width="0.1">Second BMR</text>
<line x1="424.7" y1="627.4" x2="424.7" y2="677.7" stroke="#8a8a8a" stroke-width="0.6"/>
<line x1="424.7" y1="677.7" x2="447.2" y2="677.7" stroke="#8a8a8a" stroke-width="0.6"/>
<line x1="424.7" y1="677.7" x2="424.7" y2="676.7" stroke="#666" stroke-width="0.5"/>
<line x1="432.15" y1="677.7" x2="432.15" y2="676.7" stroke="#666" stroke-width="0.5"/>
<line x1="439.6" y1="677.7" x2="439.6" y2="676.7" stroke="#666" stroke-width="0.5"/>
<line x1="447.05" y1="677.7" x2="447.05" y2="676.7" stroke="#666" stroke-width="0.5"/>
<rect x="424.7" y="631.09" width="7" height="7.2" fill="#0a6fb8" stroke="#1a3a5a" stroke-width="0.4"/>
<rect x="424.7" y="643.66" width="13.1" height="7.2" fill="#0a6fb8" stroke="#1a3a5a" stroke-width="0.4"/>
<rect x="424.7" y="656.24" width="4" height="7.2" fill="#0a6fb8" stroke="#1a3a5a" stroke-width="0.4"/>
<rect x="424.7" y="668.81" width="11" height="7.2" fill="#0a6fb8" stroke="#1a3a5a" stroke-width="0.4"/>
<text x="426.9" y="684.7" font-size="6.6" text-anchor="middle" fill="#222" stroke="#222" stroke-width="0.1">0</text>
<text x="447.5" y="684.7" font-size="6.6" text-anchor="middle" fill="#222" stroke="#222" stroke-width="0.1">60%</text>
<text x="518.05" y="490.7" font-size="7.3" text-anchor="middle" fill="#111" stroke="#111" stroke-width="0.1">FI Within</text>
<rect x="491.3" y="508.1" width="50.5" height="5.5" fill="url(#cbar)" stroke="#222" stroke-width="0.5"/>
<text x="493.5" y="506.5" font-size="6.4" text-anchor="start" fill="#222" stroke="#222" stroke-width="0.1" transform="rotate(-90 493.5 506.5)">0.3</text>
<text x="501.72" y="506.5" font-size="6.4" text-anchor="start" fill="#222" stroke="#222" stroke-width="0.1" transform="rotate(-90 501.72 506.5)">0.25</text>
<text x="509.93" y="506.5" font-size="6.4" text-anchor="start" fill="#222" stroke="#222" stroke-width="0.1" transform="rotate(-90 509.93 506.5)">0.2</text>
<text x="518.15" y="506.5" font-size="6.4" text-anchor="start" fill="#222" stroke="#222" stroke-width="0.1" transform="rotate(-90 518.15 506.5)">0.15</text>
<text x="526.37" y="506.5" font-size="6.4" text-anchor="start" fill="#222" stroke="#222" stroke-width="0.1" transform="rotate(-90 526.37 506.5)">0.1</text>
<text x="534.58" y="506.5" font-size="6.4" text-anchor="start" fill="#222" stroke="#222" stroke-width="0.1" transform="rotate(-90 534.58 506.5)">0.05</text>
<text x="542.8" y="506.5" font-size="6.4" text-anchor="start" fill="#222" stroke="#222" stroke-width="0.1" transform="rotate(-90 542.8 506.5)">0</text>
<rect x="491.3" y="516.3" width="13.28" height="12.62" fill="#ffffff" stroke="none" stroke-width="1"/>
<rect x="504.53" y="516.3" width="13.28" height="12.62" fill="#18a0e0" stroke="none" stroke-width="1"/>
<rect x="517.75" y="516.3" width="13.28" height="12.62" fill="#f9f60c" stroke="none" stroke-width="1"/>
<rect x="530.98" y="516.3" width="13.28" height="12.62" fill="#20b0b0" stroke="none" stroke-width="1"/>
<rect x="491.3" y="528.88" width="13.28" height="12.62" fill="#1a70f5" stroke="none" stroke-width="1"/>
<rect x="504.53" y="528.88" width="13.28" height="12.62" fill="#ffffff" stroke="none" stroke-width="1"/>
<rect x="517.75" y="528.88" width="13.28" height="12.62" fill="#4535c8" stroke="none" stroke-width="1"/>
<rect x="530.98" y="528.88" width="13.28" height="12.62" fill="#4535c8" stroke="none" stroke-width="1"/>
<rect x="491.3" y="541.45" width="13.28" height="12.62" fill="#20b0b0" stroke="none" stroke-width="1"/>
<rect x="504.53" y="541.45" width="13.28" height="12.62" fill="#4550f0" stroke="none" stroke-width="1"/>
<rect x="517.75" y="541.45" width="13.28" height="12.62" fill="#ffffff" stroke="none" stroke-width="1"/>
<rect x="530.98" y="541.45" width="13.28" height="12.62" fill="#4535c8" stroke="none" stroke-width="1"/>
<rect x="491.3" y="554.02" width="13.28" height="12.62" fill="#4848e8" stroke="none" stroke-width="1"/>
<rect x="504.53" y="554.02" width="13.28" height="12.62" fill="#4030b8" stroke="none" stroke-width="1"/>
<rect x="517.75" y="554.02" width="13.28" height="12.62" fill="#4545e0" stroke="none" stroke-width="1"/>
<rect x="530.98" y="554.02" width="13.28" height="12.62" fill="#ffffff" stroke="none" stroke-width="1"/>
<rect x="491.3" y="516.3" width="52.9" height="50.3" fill="none" stroke="#111" stroke-width="0.9"/>
<line x1="497.91" y1="516.3" x2="497.91" y2="517.3" stroke="#333" stroke-width="0.5"/>
<line x1="497.91" y1="566.6" x2="497.91" y2="565.6" stroke="#333" stroke-width="0.5"/>
<line x1="491.3" y1="522.59" x2="492.3" y2="522.59" stroke="#333" stroke-width="0.5"/>
<line x1="544.2" y1="522.59" x2="543.2" y2="522.59" stroke="#333" stroke-width="0.5"/>
<line x1="511.14" y1="516.3" x2="511.14" y2="517.3" stroke="#333" stroke-width="0.5"/>
<line x1="511.14" y1="566.6" x2="511.14" y2="565.6" stroke="#333" stroke-width="0.5"/>
<line x1="491.3" y1="535.16" x2="492.3" y2="535.16" stroke="#333" stroke-width="0.5"/>
<line x1="544.2" y1="535.16" x2="543.2" y2="535.16" stroke="#333" stroke-width="0.5"/>
<line x1="524.36" y1="516.3" x2="524.36" y2="517.3" stroke="#333" stroke-width="0.5"/>
<line x1="524.36" y1="566.6" x2="524.36" y2="565.6" stroke="#333" stroke-width="0.5"/>
<line x1="491.3" y1="547.74" x2="492.3" y2="547.74" stroke="#333" stroke-width="0.5"/>
<line x1="544.2" y1="547.74" x2="543.2" y2="547.74" stroke="#333" stroke-width="0.5"/>
<line x1="537.59" y1="516.3" x2="537.59" y2="517.3" stroke="#333" stroke-width="0.5"/>
<line x1="537.59" y1="566.6" x2="537.59" y2="565.6" stroke="#333" stroke-width="0.5"/>
<line x1="491.3" y1="560.31" x2="492.3" y2="560.31" stroke="#333" stroke-width="0.5"/>
<line x1="544.2" y1="560.31" x2="543.2" y2="560.31" stroke="#333" stroke-width="0.5"/>
<polygon points="524.36,519.99 525,521.7 526.84,521.78 525.4,522.92 525.89,524.69 524.36,523.68 522.83,524.69 523.32,522.92 521.89,521.78 523.72,521.7" fill="#e8282a"/>
<polygon points="537.59,519.99 538.23,521.7 540.06,521.78 538.63,522.92 539.12,524.69 537.59,523.68 536.06,524.69 536.55,522.92 535.11,521.78 536.95,521.7" fill="#e8282a"/>
<text x="489.9" y="524.89" font-size="6.6" text-anchor="end" fill="#222" stroke="#222" stroke-width="0.1">0°</text>
<text x="489.9" y="537.46" font-size="6.6" text-anchor="end" fill="#222" stroke="#222" stroke-width="0.1">90°</text>
<text x="489.9" y="550.04" font-size="6.6" text-anchor="end" fill="#222" stroke="#222" stroke-width="0.1">180°</text>
<text x="489.9" y="562.61" font-size="6.6" text-anchor="end" fill="#222" stroke="#222" stroke-width="0.1">270°</text>
<text x="475.4" y="541.45" font-size="6.6" text-anchor="middle" fill="#222" stroke="#222" stroke-width="0.1" transform="rotate(-90 475.4 541.45)">First BMR</text>
<text x="499.71" y="571" font-size="6.6" text-anchor="end" fill="#222" stroke="#222" stroke-width="0.1" transform="rotate(-42 499.71 571)">0°</text>
<text x="512.94" y="571" font-size="6.6" text-anchor="end" fill="#222" stroke="#222" stroke-width="0.1" transform="rotate(-42 512.94 571)">90°</text>
<text x="526.16" y="571" font-size="6.6" text-anchor="end" fill="#222" stroke="#222" stroke-width="0.1" transform="rotate(-42 526.16 571)">180°</text>
<text x="539.39" y="571" font-size="6.6" text-anchor="end" fill="#222" stroke="#222" stroke-width="0.1" transform="rotate(-42 539.39 571)">270°</text>
<text x="518.95" y="585" font-size="6.6" text-anchor="middle" fill="#222" stroke="#222" stroke-width="0.1">Second BMR</text>
<line x1="547.4" y1="516.3" x2="547.4" y2="566.6" stroke="#8a8a8a" stroke-width="0.6"/>
<line x1="547.4" y1="566.6" x2="569.9" y2="566.6" stroke="#8a8a8a" stroke-width="0.6"/>
<line x1="547.4" y1="566.6" x2="547.4" y2="565.6" stroke="#666" stroke-width="0.5"/>
<line x1="554.85" y1="566.6" x2="554.85" y2="565.6" stroke="#666" stroke-width="0.5"/>
<line x1="562.3" y1="566.6" x2="562.3" y2="565.6" stroke="#666" stroke-width="0.5"/>
<line x1="569.75" y1="566.6" x2="569.75" y2="565.6" stroke="#666" stroke-width="0.5"/>
<rect x="547.4" y="519.99" width="21" height="7.2" fill="#0a6fb8" stroke="#1a3a5a" stroke-width="0.4"/>
<rect x="547.4" y="532.56" width="3.5" height="7.2" fill="#0a6fb8" stroke="#1a3a5a" stroke-width="0.4"/>
<rect x="547.4" y="545.14" width="8.2" height="7.2" fill="#0a6fb8" stroke="#1a3a5a" stroke-width="0.4"/>
<rect x="547.4" y="557.71" width="3.1" height="7.2" fill="#0a6fb8" stroke="#1a3a5a" stroke-width="0.4"/>
<text x="549.6" y="573.6" font-size="6.6" text-anchor="middle" fill="#222" stroke="#222" stroke-width="0.1">0</text>
<text x="570.2" y="573.6" font-size="6.6" text-anchor="middle" fill="#222" stroke="#222" stroke-width="0.1">60%</text>
<text x="623.85" y="490.7" font-size="7.3" text-anchor="middle" fill="#111" stroke="#111" stroke-width="0.1">FI Across</text>
<rect x="597.1" y="508.1" width="50.5" height="5.5" fill="url(#cbar)" stroke="#222" stroke-width="0.5"/>
<text x="606.1" y="506.5" font-size="6.4" text-anchor="start" fill="#222" stroke="#222" stroke-width="0.1" transform="rotate(-90 606.1 506.5)">0.2</text>
<text x="616.73" y="506.5" font-size="6.4" text-anchor="start" fill="#222" stroke="#222" stroke-width="0.1" transform="rotate(-90 616.73 506.5)">0.15</text>
<text x="627.35" y="506.5" font-size="6.4" text-anchor="start" fill="#222" stroke="#222" stroke-width="0.1" transform="rotate(-90 627.35 506.5)">0.1</text>
<text x="637.98" y="506.5" font-size="6.4" text-anchor="start" fill="#222" stroke="#222" stroke-width="0.1" transform="rotate(-90 637.98 506.5)">0.05</text>
<text x="648.6" y="506.5" font-size="6.4" text-anchor="start" fill="#222" stroke="#222" stroke-width="0.1" transform="rotate(-90 648.6 506.5)">0</text>
<rect x="597.1" y="516.3" width="13.28" height="12.62" fill="#ffffff" stroke="none" stroke-width="1"/>
<rect x="610.33" y="516.3" width="13.28" height="12.62" fill="#20b0b0" stroke="none" stroke-width="1"/>
<rect x="623.55" y="516.3" width="13.28" height="12.62" fill="#f9f60c" stroke="none" stroke-width="1"/>
<rect x="636.77" y="516.3" width="13.28" height="12.62" fill="#1a80f5" stroke="none" stroke-width="1"/>
<rect x="597.1" y="528.88" width="13.28" height="12.62" fill="#4848e8" stroke="none" stroke-width="1"/>
<rect x="610.33" y="528.88" width="13.28" height="12.62" fill="#ffffff" stroke="none" stroke-width="1"/>
<rect x="623.55" y="528.88" width="13.28" height="12.62" fill="#1a80f5" stroke="none" stroke-width="1"/>
<rect x="636.77" y="528.88" width="13.28" height="12.62" fill="#4535c0" stroke="none" stroke-width="1"/>
<rect x="597.1" y="541.45" width="13.28" height="12.62" fill="#f8e010" stroke="none" stroke-width="1"/>
<rect x="610.33" y="541.45" width="13.28" height="12.62" fill="#3c6af5" stroke="none" stroke-width="1"/>
<rect x="623.55" y="541.45" width="13.28" height="12.62" fill="#ffffff" stroke="none" stroke-width="1"/>
<rect x="636.77" y="541.45" width="13.28" height="12.62" fill="#1a80f5" stroke="none" stroke-width="1"/>
<rect x="597.1" y="554.02" width="13.28" height="12.62" fill="#4450f0" stroke="none" stroke-width="1"/>
<rect x="610.33" y="554.02" width="13.28" height="12.62" fill="#4540d8" stroke="none" stroke-width="1"/>
<rect x="623.55" y="554.02" width="13.28" height="12.62" fill="#4848e8" stroke="none" stroke-width="1"/>
<rect x="636.77" y="554.02" width="13.28" height="12.62" fill="#ffffff" stroke="none" stroke-width="1"/>
<rect x="597.1" y="516.3" width="52.9" height="50.3" fill="none" stroke="#111" stroke-width="0.9"/>
<line x1="603.71" y1="516.3" x2="603.71" y2="517.3" stroke="#333" stroke-width="0.5"/>
<line x1="603.71" y1="566.6" x2="603.71" y2="565.6" stroke="#333" stroke-width="0.5"/>
<line x1="597.1" y1="522.59" x2="598.1" y2="522.59" stroke="#333" stroke-width="0.5"/>
<line x1="650" y1="522.59" x2="649" y2="522.59" stroke="#333" stroke-width="0.5"/>
<line x1="616.94" y1="516.3" x2="616.94" y2="517.3" stroke="#333" stroke-width="0.5"/>
<line x1="616.94" y1="566.6" x2="616.94" y2="565.6" stroke="#333" stroke-width="0.5"/>
<line x1="597.1" y1="535.16" x2="598.1" y2="535.16" stroke="#333" stroke-width="0.5"/>
<line x1="650" y1="535.16" x2="649" y2="535.16" stroke="#333" stroke-width="0.5"/>
<line x1="630.16" y1="516.3" x2="630.16" y2="517.3" stroke="#333" stroke-width="0.5"/>
<line x1="630.16" y1="566.6" x2="630.16" y2="565.6" stroke="#333" stroke-width="0.5"/>
<line x1="597.1" y1="547.74" x2="598.1" y2="547.74" stroke="#333" stroke-width="0.5"/>
<line x1="650" y1="547.74" x2="649" y2="547.74" stroke="#333" stroke-width="0.5"/>
<line x1="643.39" y1="516.3" x2="643.39" y2="517.3" stroke="#333" stroke-width="0.5"/>
<line x1="643.39" y1="566.6" x2="643.39" y2="565.6" stroke="#333" stroke-width="0.5"/>
<line x1="597.1" y1="560.31" x2="598.1" y2="560.31" stroke="#333" stroke-width="0.5"/>
<line x1="650" y1="560.31" x2="649" y2="560.31" stroke="#333" stroke-width="0.5"/>
<text x="616.94" y="525.19" font-size="7.6" text-anchor="middle" fill="#e8282a" stroke="#e8282a" stroke-width="0.1" font-weight="bold">#</text>
<polygon points="630.16,519.99 630.8,521.7 632.64,521.78 631.2,522.92 631.69,524.69 630.16,523.68 628.63,524.69 629.12,522.92 627.69,521.78 629.52,521.7" fill="#e8282a"/>
<polygon points="603.71,545.14 604.35,546.85 606.19,546.93 604.75,548.07 605.24,549.84 603.71,548.83 602.18,549.84 602.67,548.07 601.24,546.93 603.07,546.85" fill="#e8282a"/>
<text x="595.7" y="524.89" font-size="6.6" text-anchor="end" fill="#222" stroke="#222" stroke-width="0.1">0°</text>
<text x="595.7" y="537.46" font-size="6.6" text-anchor="end" fill="#222" stroke="#222" stroke-width="0.1">90°</text>
<text x="595.7" y="550.04" font-size="6.6" text-anchor="end" fill="#222" stroke="#222" stroke-width="0.1">180°</text>
<text x="595.7" y="562.61" font-size="6.6" text-anchor="end" fill="#222" stroke="#222" stroke-width="0.1">270°</text>
<text x="581.2" y="541.45" font-size="6.6" text-anchor="middle" fill="#222" stroke="#222" stroke-width="0.1" transform="rotate(-90 581.2 541.45)">First BMR</text>
<text x="605.51" y="571" font-size="6.6" text-anchor="end" fill="#222" stroke="#222" stroke-width="0.1" transform="rotate(-42 605.51 571)">0°</text>
<text x="618.74" y="571" font-size="6.6" text-anchor="end" fill="#222" stroke="#222" stroke-width="0.1" transform="rotate(-42 618.74 571)">90°</text>
<text x="631.96" y="571" font-size="6.6" text-anchor="end" fill="#222" stroke="#222" stroke-width="0.1" transform="rotate(-42 631.96 571)">180°</text>
<text x="645.19" y="571" font-size="6.6" text-anchor="end" fill="#222" stroke="#222" stroke-width="0.1" transform="rotate(-42 645.19 571)">270°</text>
<text x="624.75" y="585" font-size="6.6" text-anchor="middle" fill="#222" stroke="#222" stroke-width="0.1">Second BMR</text>
<line x1="653.2" y1="516.3" x2="653.2" y2="566.6" stroke="#8a8a8a" stroke-width="0.6"/>
<line x1="653.2" y1="566.6" x2="675.7" y2="566.6" stroke="#8a8a8a" stroke-width="0.6"/>
<line x1="653.2" y1="566.6" x2="653.2" y2="565.6" stroke="#666" stroke-width="0.5"/>
<line x1="660.65" y1="566.6" x2="660.65" y2="565.6" stroke="#666" stroke-width="0.5"/>
<line x1="668.1" y1="566.6" x2="668.1" y2="565.6" stroke="#666" stroke-width="0.5"/>
<line x1="675.55" y1="566.6" x2="675.55" y2="565.6" stroke="#666" stroke-width="0.5"/>
<rect x="653.2" y="519.99" width="15.6" height="7.2" fill="#0a6fb8" stroke="#1a3a5a" stroke-width="0.4"/>
<rect x="653.2" y="532.56" width="4.7" height="7.2" fill="#0a6fb8" stroke="#1a3a5a" stroke-width="0.4"/>
<rect x="653.2" y="545.14" width="12.3" height="7.2" fill="#0a6fb8" stroke="#1a3a5a" stroke-width="0.4"/>
<rect x="653.2" y="557.71" width="4.2" height="7.2" fill="#0a6fb8" stroke="#1a3a5a" stroke-width="0.4"/>
<text x="655.4" y="573.6" font-size="6.6" text-anchor="middle" fill="#222" stroke="#222" stroke-width="0.1">0</text>
<text x="676" y="573.6" font-size="6.6" text-anchor="middle" fill="#222" stroke="#222" stroke-width="0.1">60%</text>
<text x="518.05" y="600.9" font-size="6.6" text-anchor="middle" fill="#111" stroke="#111" stroke-width="0.1">FS Within</text>
<rect x="491.3" y="617.5" width="50.5" height="5.8" fill="url(#cbar)" stroke="#222" stroke-width="0.5"/>
<text x="500.78" y="615.9" font-size="6.4" text-anchor="start" fill="#222" stroke="#222" stroke-width="0.1" transform="rotate(-90 500.78 615.9)">0.15</text>
<text x="514.79" y="615.9" font-size="6.4" text-anchor="start" fill="#222" stroke="#222" stroke-width="0.1" transform="rotate(-90 514.79 615.9)">0.1</text>
<text x="528.79" y="615.9" font-size="6.4" text-anchor="start" fill="#222" stroke="#222" stroke-width="0.1" transform="rotate(-90 528.79 615.9)">0.05</text>
<text x="542.8" y="615.9" font-size="6.4" text-anchor="start" fill="#222" stroke="#222" stroke-width="0.1" transform="rotate(-90 542.8 615.9)">0</text>
<rect x="491.3" y="627.4" width="13.28" height="12.62" fill="#ffffff" stroke="none" stroke-width="1"/>
<rect x="504.53" y="627.4" width="13.28" height="12.62" fill="#f9f50c" stroke="none" stroke-width="1"/>
<rect x="517.75" y="627.4" width="13.28" height="12.62" fill="#d8c010" stroke="none" stroke-width="1"/>
<rect x="530.98" y="627.4" width="13.28" height="12.62" fill="#f8b828" stroke="none" stroke-width="1"/>
<rect x="491.3" y="639.98" width="13.28" height="12.62" fill="#4030b0" stroke="none" stroke-width="1"/>
<rect x="504.53" y="639.98" width="13.28" height="12.62" fill="#ffffff" stroke="none" stroke-width="1"/>
<rect x="517.75" y="639.98" width="13.28" height="12.62" fill="#18a0e0" stroke="none" stroke-width="1"/>
<rect x="530.98" y="639.98" width="13.28" height="12.62" fill="#4545e0" stroke="none" stroke-width="1"/>
<rect x="491.3" y="652.55" width="13.28" height="12.62" fill="#18a8e0" stroke="none" stroke-width="1"/>
<rect x="504.53" y="652.55" width="13.28" height="12.62" fill="#1a80f5" stroke="none" stroke-width="1"/>
<rect x="517.75" y="652.55" width="13.28" height="12.62" fill="#ffffff" stroke="none" stroke-width="1"/>
<rect x="530.98" y="652.55" width="13.28" height="12.62" fill="#18b0d8" stroke="none" stroke-width="1"/>
<rect x="491.3" y="665.12" width="13.28" height="12.62" fill="#4848e8" stroke="none" stroke-width="1"/>
<rect x="504.53" y="665.12" width="13.28" height="12.62" fill="#4540d0" stroke="none" stroke-width="1"/>
<rect x="517.75" y="665.12" width="13.28" height="12.62" fill="#20c0a0" stroke="none" stroke-width="1"/>
<rect x="530.98" y="665.12" width="13.28" height="12.62" fill="#ffffff" stroke="none" stroke-width="1"/>
<rect x="491.3" y="627.4" width="52.9" height="50.3" fill="none" stroke="#111" stroke-width="0.9"/>
<line x1="497.91" y1="627.4" x2="497.91" y2="628.4" stroke="#333" stroke-width="0.5"/>
<line x1="497.91" y1="677.7" x2="497.91" y2="676.7" stroke="#333" stroke-width="0.5"/>
<line x1="491.3" y1="633.69" x2="492.3" y2="633.69" stroke="#333" stroke-width="0.5"/>
<line x1="544.2" y1="633.69" x2="543.2" y2="633.69" stroke="#333" stroke-width="0.5"/>
<line x1="511.14" y1="627.4" x2="511.14" y2="628.4" stroke="#333" stroke-width="0.5"/>
<line x1="511.14" y1="677.7" x2="511.14" y2="676.7" stroke="#333" stroke-width="0.5"/>
<line x1="491.3" y1="646.26" x2="492.3" y2="646.26" stroke="#333" stroke-width="0.5"/>
<line x1="544.2" y1="646.26" x2="543.2" y2="646.26" stroke="#333" stroke-width="0.5"/>
<line x1="524.36" y1="627.4" x2="524.36" y2="628.4" stroke="#333" stroke-width="0.5"/>
<line x1="524.36" y1="677.7" x2="524.36" y2="676.7" stroke="#333" stroke-width="0.5"/>
<line x1="491.3" y1="658.84" x2="492.3" y2="658.84" stroke="#333" stroke-width="0.5"/>
<line x1="544.2" y1="658.84" x2="543.2" y2="658.84" stroke="#333" stroke-width="0.5"/>
<line x1="537.59" y1="627.4" x2="537.59" y2="628.4" stroke="#333" stroke-width="0.5"/>
<line x1="537.59" y1="677.7" x2="537.59" y2="676.7" stroke="#333" stroke-width="0.5"/>
<line x1="491.3" y1="671.41" x2="492.3" y2="671.41" stroke="#333" stroke-width="0.5"/>
<line x1="544.2" y1="671.41" x2="543.2" y2="671.41" stroke="#333" stroke-width="0.5"/>
<polygon points="511.14,631.09 511.78,632.8 513.61,632.88 512.18,634.02 512.67,635.79 511.14,634.78 509.61,635.79 510.1,634.02 508.66,632.88 510.5,632.8" fill="#e8282a"/>
<text x="489.9" y="635.99" font-size="6.6" text-anchor="end" fill="#222" stroke="#222" stroke-width="0.1">0°</text>
<text x="489.9" y="648.56" font-size="6.6" text-anchor="end" fill="#222" stroke="#222" stroke-width="0.1">90°</text>
<text x="489.9" y="661.14" font-size="6.6" text-anchor="end" fill="#222" stroke="#222" stroke-width="0.1">180°</text>
<text x="489.9" y="673.71" font-size="6.6" text-anchor="end" fill="#222" stroke="#222" stroke-width="0.1">270°</text>
<text x="475.4" y="652.55" font-size="6.6" text-anchor="middle" fill="#222" stroke="#222" stroke-width="0.1" transform="rotate(-90 475.4 652.55)">First BMR</text>
<text x="499.71" y="682.1" font-size="6.6" text-anchor="end" fill="#222" stroke="#222" stroke-width="0.1" transform="rotate(-42 499.71 682.1)">0°</text>
<text x="512.94" y="682.1" font-size="6.6" text-anchor="end" fill="#222" stroke="#222" stroke-width="0.1" transform="rotate(-42 512.94 682.1)">90°</text>
<text x="526.16" y="682.1" font-size="6.6" text-anchor="end" fill="#222" stroke="#222" stroke-width="0.1" transform="rotate(-42 526.16 682.1)">180°</text>
<text x="539.39" y="682.1" font-size="6.6" text-anchor="end" fill="#222" stroke="#222" stroke-width="0.1" transform="rotate(-42 539.39 682.1)">270°</text>
<text x="518.95" y="696.1" font-size="6.6" text-anchor="middle" fill="#222" stroke="#222" stroke-width="0.1">Second BMR</text>
<line x1="547.4" y1="627.4" x2="547.4" y2="677.7" stroke="#8a8a8a" stroke-width="0.6"/>
<line x1="547.4" y1="677.7" x2="569.9" y2="677.7" stroke="#8a8a8a" stroke-width="0.6"/>
<line x1="547.4" y1="677.7" x2="547.4" y2="676.7" stroke="#666" stroke-width="0.5"/>
<line x1="554.85" y1="677.7" x2="554.85" y2="676.7" stroke="#666" stroke-width="0.5"/>
<line x1="562.3" y1="677.7" x2="562.3" y2="676.7" stroke="#666" stroke-width="0.5"/>
<line x1="569.75" y1="677.7" x2="569.75" y2="676.7" stroke="#666" stroke-width="0.5"/>
<rect x="547.4" y="631.09" width="16.9" height="7.2" fill="#0a6fb8" stroke="#1a3a5a" stroke-width="0.4"/>
<rect x="547.4" y="643.66" width="4.7" height="7.2" fill="#0a6fb8" stroke="#1a3a5a" stroke-width="0.4"/>
<rect x="547.4" y="656.24" width="8.2" height="7.2" fill="#0a6fb8" stroke="#1a3a5a" stroke-width="0.4"/>
<rect x="547.4" y="668.81" width="5.7" height="7.2" fill="#0a6fb8" stroke="#1a3a5a" stroke-width="0.4"/>
<text x="549.6" y="684.7" font-size="6.6" text-anchor="middle" fill="#222" stroke="#222" stroke-width="0.1">0</text>
<text x="570.2" y="684.7" font-size="6.6" text-anchor="middle" fill="#222" stroke="#222" stroke-width="0.1">60%</text>
<text x="624.05" y="600.9" font-size="6.6" text-anchor="middle" fill="#111" stroke="#111" stroke-width="0.1">FS Across</text>
<rect x="597.3" y="617.5" width="50.5" height="5.8" fill="url(#cbar)" stroke="#222" stroke-width="0.5"/>
<text x="602" y="615.9" font-size="6.4" text-anchor="start" fill="#222" stroke="#222" stroke-width="0.1" transform="rotate(-90 602 615.9)">0.15</text>
<text x="617.6" y="615.9" font-size="6.4" text-anchor="start" fill="#222" stroke="#222" stroke-width="0.1" transform="rotate(-90 617.6 615.9)">0.1</text>
<text x="633.2" y="615.9" font-size="6.4" text-anchor="start" fill="#222" stroke="#222" stroke-width="0.1" transform="rotate(-90 633.2 615.9)">0.05</text>
<text x="648.8" y="615.9" font-size="6.4" text-anchor="start" fill="#222" stroke="#222" stroke-width="0.1" transform="rotate(-90 648.8 615.9)">0</text>
<rect x="597.3" y="627.4" width="13.28" height="12.62" fill="#ffffff" stroke="none" stroke-width="1"/>
<rect x="610.52" y="627.4" width="13.28" height="12.62" fill="#a0c020" stroke="none" stroke-width="1"/>
<rect x="623.75" y="627.4" width="13.28" height="12.62" fill="#2a6af5" stroke="none" stroke-width="1"/>
<rect x="636.97" y="627.4" width="13.28" height="12.62" fill="#1a80f0" stroke="none" stroke-width="1"/>
<rect x="597.3" y="639.98" width="13.28" height="12.62" fill="#f8b030" stroke="none" stroke-width="1"/>
<rect x="610.52" y="639.98" width="13.28" height="12.62" fill="#ffffff" stroke="none" stroke-width="1"/>
<rect x="623.75" y="639.98" width="13.28" height="12.62" fill="#1a88f0" stroke="none" stroke-width="1"/>
<rect x="636.97" y="639.98" width="13.28" height="12.62" fill="#20c080" stroke="none" stroke-width="1"/>
<rect x="597.3" y="652.55" width="13.28" height="12.62" fill="#2a6af5" stroke="none" stroke-width="1"/>
<rect x="610.52" y="652.55" width="13.28" height="12.62" fill="#18a0e0" stroke="none" stroke-width="1"/>
<rect x="623.75" y="652.55" width="13.28" height="12.62" fill="#ffffff" stroke="none" stroke-width="1"/>
<rect x="636.97" y="652.55" width="13.28" height="12.62" fill="#4030b0" stroke="none" stroke-width="1"/>
<rect x="597.3" y="665.12" width="13.28" height="12.62" fill="#f9f50c" stroke="none" stroke-width="1"/>
<rect x="610.52" y="665.12" width="13.28" height="12.62" fill="#20c888" stroke="none" stroke-width="1"/>
<rect x="623.75" y="665.12" width="13.28" height="12.62" fill="#20c888" stroke="none" stroke-width="1"/>
<rect x="636.97" y="665.12" width="13.28" height="12.62" fill="#ffffff" stroke="none" stroke-width="1"/>
<rect x="597.3" y="627.4" width="52.9" height="50.3" fill="none" stroke="#111" stroke-width="0.9"/>
<line x1="603.91" y1="627.4" x2="603.91" y2="628.4" stroke="#333" stroke-width="0.5"/>
<line x1="603.91" y1="677.7" x2="603.91" y2="676.7" stroke="#333" stroke-width="0.5"/>
<line x1="597.3" y1="633.69" x2="598.3" y2="633.69" stroke="#333" stroke-width="0.5"/>
<line x1="650.2" y1="633.69" x2="649.2" y2="633.69" stroke="#333" stroke-width="0.5"/>
<line x1="617.14" y1="627.4" x2="617.14" y2="628.4" stroke="#333" stroke-width="0.5"/>
<line x1="617.14" y1="677.7" x2="617.14" y2="676.7" stroke="#333" stroke-width="0.5"/>
<line x1="597.3" y1="646.26" x2="598.3" y2="646.26" stroke="#333" stroke-width="0.5"/>
<line x1="650.2" y1="646.26" x2="649.2" y2="646.26" stroke="#333" stroke-width="0.5"/>
<line x1="630.36" y1="627.4" x2="630.36" y2="628.4" stroke="#333" stroke-width="0.5"/>
<line x1="630.36" y1="677.7" x2="630.36" y2="676.7" stroke="#333" stroke-width="0.5"/>
<line x1="597.3" y1="658.84" x2="598.3" y2="658.84" stroke="#333" stroke-width="0.5"/>
<line x1="650.2" y1="658.84" x2="649.2" y2="658.84" stroke="#333" stroke-width="0.5"/>
<line x1="643.59" y1="627.4" x2="643.59" y2="628.4" stroke="#333" stroke-width="0.5"/>
<line x1="643.59" y1="677.7" x2="643.59" y2="676.7" stroke="#333" stroke-width="0.5"/>
<line x1="597.3" y1="671.41" x2="598.3" y2="671.41" stroke="#333" stroke-width="0.5"/>
<line x1="650.2" y1="671.41" x2="649.2" y2="671.41" stroke="#333" stroke-width="0.5"/>
<text x="603.91" y="648.86" font-size="7.6" text-anchor="middle" fill="#e8282a" stroke="#e8282a" stroke-width="0.1" font-weight="bold">#</text>
<polygon points="603.91,668.81 604.55,670.53 606.39,670.61 604.95,671.75 605.44,673.52 603.91,672.5 602.38,673.52 602.87,671.75 601.44,670.61 603.27,670.53" fill="#e8282a"/>
<text x="595.9" y="635.99" font-size="6.6" text-anchor="end" fill="#222" stroke="#222" stroke-width="0.1">0°</text>
<text x="595.9" y="648.56" font-size="6.6" text-anchor="end" fill="#222" stroke="#222" stroke-width="0.1">90°</text>
<text x="595.9" y="661.14" font-size="6.6" text-anchor="end" fill="#222" stroke="#222" stroke-width="0.1">180°</text>
<text x="595.9" y="673.71" font-size="6.6" text-anchor="end" fill="#222" stroke="#222" stroke-width="0.1">270°</text>
<text x="581.4" y="652.55" font-size="6.6" text-anchor="middle" fill="#222" stroke="#222" stroke-width="0.1" transform="rotate(-90 581.4 652.55)">First BMR</text>
<text x="605.71" y="682.1" font-size="6.6" text-anchor="end" fill="#222" stroke="#222" stroke-width="0.1" transform="rotate(-42 605.71 682.1)">0°</text>
<text x="618.94" y="682.1" font-size="6.6" text-anchor="end" fill="#222" stroke="#222" stroke-width="0.1" transform="rotate(-42 618.94 682.1)">90°</text>
<text x="632.16" y="682.1" font-size="6.6" text-anchor="end" fill="#222" stroke="#222" stroke-width="0.1" transform="rotate(-42 632.16 682.1)">180°</text>
<text x="645.39" y="682.1" font-size="6.6" text-anchor="end" fill="#222" stroke="#222" stroke-width="0.1" transform="rotate(-42 645.39 682.1)">270°</text>
<text x="624.95" y="696.1" font-size="6.6" text-anchor="middle" fill="#222" stroke="#222" stroke-width="0.1">Second BMR</text>
<line x1="653.4" y1="627.4" x2="653.4" y2="677.7" stroke="#8a8a8a" stroke-width="0.6"/>
<line x1="653.4" y1="677.7" x2="675.9" y2="677.7" stroke="#8a8a8a" stroke-width="0.6"/>
<line x1="653.4" y1="677.7" x2="653.4" y2="676.7" stroke="#666" stroke-width="0.5"/>
<line x1="660.85" y1="677.7" x2="660.85" y2="676.7" stroke="#666" stroke-width="0.5"/>
<line x1="668.3" y1="677.7" x2="668.3" y2="676.7" stroke="#666" stroke-width="0.5"/>
<line x1="675.75" y1="677.7" x2="675.75" y2="676.7" stroke="#666" stroke-width="0.5"/>
<rect x="653.4" y="631.09" width="7.7" height="7.2" fill="#0a6fb8" stroke="#1a3a5a" stroke-width="0.4"/>
<rect x="653.4" y="643.66" width="10.5" height="7.2" fill="#0a6fb8" stroke="#1a3a5a" stroke-width="0.4"/>
<rect x="653.4" y="656.24" width="5.1" height="7.2" fill="#0a6fb8" stroke="#1a3a5a" stroke-width="0.4"/>
<rect x="653.4" y="668.81" width="12.6" height="7.2" fill="#0a6fb8" stroke="#1a3a5a" stroke-width="0.4"/>
<text x="655.6" y="684.7" font-size="6.6" text-anchor="middle" fill="#222" stroke="#222" stroke-width="0.1">0</text>
<text x="676.2" y="684.7" font-size="6.6" text-anchor="middle" fill="#222" stroke="#222" stroke-width="0.1">60%</text>
<text x="107.8" y="479.4" font-size="9.7" text-anchor="middle" fill="#111" stroke="#111" stroke-width="0.1" letter-spacing="-0.3">Day 1</text>
<text x="342.7" y="479.4" font-size="9.7" text-anchor="middle" fill="#111" stroke="#111" stroke-width="0.1" letter-spacing="-0.3">Day 2</text>
<text x="577.8" y="479.4" font-size="9.7" text-anchor="middle" fill="#111" stroke="#111" stroke-width="0.1" letter-spacing="-0.3">Day 3</text>
<rect x="0.5" y="0.5" width="225" height="147" fill="none" stroke="#8a8a8a" stroke-width="1"/>
<rect x="228.5" y="0.5" width="209" height="147" fill="none" stroke="#8a8a8a" stroke-width="1"/>
<rect x="439.5" y="0.5" width="245" height="147" fill="none" stroke="#8a8a8a" stroke-width="1"/>
<rect x="0.5" y="149.5" width="684" height="148" fill="none" stroke="#8a8a8a" stroke-width="1"/>
<rect x="0.5" y="299.5" width="684" height="166" fill="none" stroke="#8a8a8a" stroke-width="1"/>
<rect x="0.5" y="470.5" width="684" height="233" fill="none" stroke="#8a8a8a" stroke-width="1"/>
</svg></body></html>
